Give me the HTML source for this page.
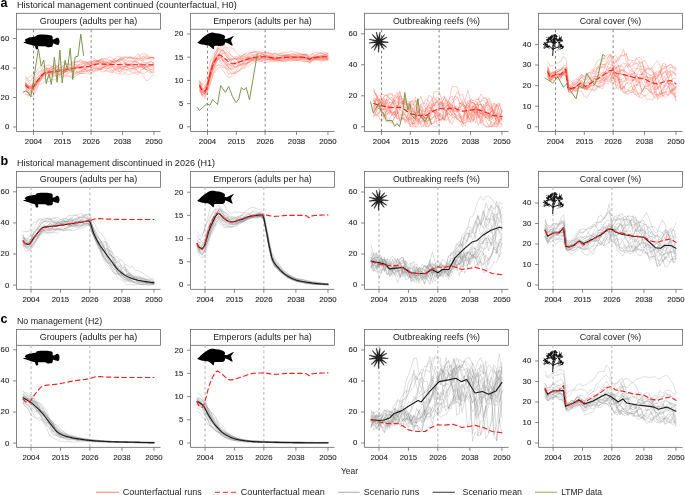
<!DOCTYPE html>
<html><head><meta charset="utf-8"><title>Figure</title>
<style>html,body{margin:0;padding:0;background:#fff;width:685px;height:495px;overflow:hidden}
svg{display:block;font-family:"Liberation Sans",sans-serif;will-change:transform}</style></head>
<body><svg width="685" height="495" viewBox="0 0 685 495" font-family="Liberation Sans, sans-serif"><text x="0.6" y="7" font-size="12.6" font-weight="bold" fill="#000">a</text>
<text x="16.9" y="8" font-size="9" fill="#222" textLength="219.8" lengthAdjust="spacingAndGlyphs">Historical management continued (counterfactual, H0)</text>
<rect x="16.5" y="13.3" width="144" height="15.9" fill="#fff" stroke="#666" stroke-width="0.8"/>
<text x="88.5" y="23.8" font-size="9" fill="#222" text-anchor="middle" textLength="97.6" lengthAdjust="spacingAndGlyphs">Groupers (adults per ha)</text>
<rect x="190.5" y="13.3" width="144" height="15.9" fill="#fff" stroke="#666" stroke-width="0.8"/>
<text x="262.5" y="23.8" font-size="9" fill="#222" text-anchor="middle" textLength="98.7" lengthAdjust="spacingAndGlyphs">Emperors (adults per ha)</text>
<rect x="364.5" y="13.3" width="144" height="15.9" fill="#fff" stroke="#666" stroke-width="0.8"/>
<text x="436.5" y="23.8" font-size="9" fill="#222" text-anchor="middle" textLength="87.1" lengthAdjust="spacingAndGlyphs">Outbreaking reefs (%)</text>
<rect x="538.5" y="13.3" width="144" height="15.9" fill="#fff" stroke="#666" stroke-width="0.8"/>
<text x="610.5" y="23.8" font-size="9" fill="#222" text-anchor="middle" textLength="61.6" lengthAdjust="spacingAndGlyphs">Coral cover (%)</text>
<text x="0.6" y="165.1" font-size="12.6" font-weight="bold" fill="#000">b</text>
<text x="16.9" y="166.1" font-size="9" fill="#222" textLength="198.2" lengthAdjust="spacingAndGlyphs">Historical management discontinued in 2026 (H1)</text>
<rect x="16.5" y="171.4" width="144" height="15.9" fill="#fff" stroke="#666" stroke-width="0.8"/>
<text x="88.5" y="181.9" font-size="9" fill="#222" text-anchor="middle" textLength="97.6" lengthAdjust="spacingAndGlyphs">Groupers (adults per ha)</text>
<rect x="190.5" y="171.4" width="144" height="15.9" fill="#fff" stroke="#666" stroke-width="0.8"/>
<text x="262.5" y="181.9" font-size="9" fill="#222" text-anchor="middle" textLength="98.7" lengthAdjust="spacingAndGlyphs">Emperors (adults per ha)</text>
<rect x="364.5" y="171.4" width="144" height="15.9" fill="#fff" stroke="#666" stroke-width="0.8"/>
<text x="436.5" y="181.9" font-size="9" fill="#222" text-anchor="middle" textLength="87.1" lengthAdjust="spacingAndGlyphs">Outbreaking reefs (%)</text>
<rect x="538.5" y="171.4" width="144" height="15.9" fill="#fff" stroke="#666" stroke-width="0.8"/>
<text x="610.5" y="181.9" font-size="9" fill="#222" text-anchor="middle" textLength="61.6" lengthAdjust="spacingAndGlyphs">Coral cover (%)</text>
<text x="0.6" y="323.1" font-size="12.6" font-weight="bold" fill="#000">c</text>
<text x="16.9" y="324.1" font-size="9" fill="#222" textLength="85.3" lengthAdjust="spacingAndGlyphs">No management (H2)</text>
<rect x="16.5" y="329.4" width="144" height="15.9" fill="#fff" stroke="#666" stroke-width="0.8"/>
<text x="88.5" y="339.9" font-size="9" fill="#222" text-anchor="middle" textLength="97.6" lengthAdjust="spacingAndGlyphs">Groupers (adults per ha)</text>
<rect x="190.5" y="329.4" width="144" height="15.9" fill="#fff" stroke="#666" stroke-width="0.8"/>
<text x="262.5" y="339.9" font-size="9" fill="#222" text-anchor="middle" textLength="98.7" lengthAdjust="spacingAndGlyphs">Emperors (adults per ha)</text>
<rect x="364.5" y="329.4" width="144" height="15.9" fill="#fff" stroke="#666" stroke-width="0.8"/>
<text x="436.5" y="339.9" font-size="9" fill="#222" text-anchor="middle" textLength="87.1" lengthAdjust="spacingAndGlyphs">Outbreaking reefs (%)</text>
<rect x="538.5" y="329.4" width="144" height="15.9" fill="#fff" stroke="#666" stroke-width="0.8"/>
<text x="610.5" y="339.9" font-size="9" fill="#222" text-anchor="middle" textLength="61.6" lengthAdjust="spacingAndGlyphs">Coral cover (%)</text>
<line x1="33.52" y1="29.2" x2="33.52" y2="131.5" stroke="#555" stroke-width="0.75" stroke-dasharray="2.4 2.83" stroke-dashoffset="-0.7"/>
<line x1="91.12" y1="29.2" x2="91.12" y2="131.5" stroke="#555" stroke-width="0.75" stroke-dasharray="2.4 2.83" stroke-dashoffset="-0.7"/>
<clipPath id="cp00"><rect x="16.5" y="29.2" width="144" height="102.3"/></clipPath>
<g clip-path="url(#cp00)" fill="none" stroke-linejoin="round" stroke-linecap="round">
<path d="M25.66,83.58 L28.28,85.93 L30.9,87.25 L33.52,86.12 L36.14,82.76 L38.75,81.35 L41.37,77.83 L43.99,72.87 L46.61,72.37 L49.23,72.54 L51.85,71.23 L54.46,70.24 L57.08,69.78 L59.7,70.58 L62.32,69.66 L64.94,68.14 L67.55,69.57 L70.17,69.5 L72.79,71.6 L75.41,72.6 L78.03,74.18 L80.65,73.08 L83.26,73.39 L85.88,72.04 L88.5,70.07 L91.12,69.42 L93.74,71.49 L96.35,70.46 L98.97,69.06 L101.59,68.4 L104.21,70.49 L106.83,70.58 L109.45,72.13 L112.06,72.96 L114.68,70.54 L117.3,71.36 L119.92,70.89 L122.54,68.84 L125.15,69.66 L127.77,69.11 L130.39,68.61 L133.01,68.05 L135.63,69.81 L138.25,68.85 L140.86,66.35 L143.48,68.28 L146.1,66.26 L148.72,65.23 L151.34,66.15 L153.95,62.05 M25.66,94.17 L28.28,95.82 L30.9,94.46 L33.52,91.43 L36.14,85.72 L38.75,82.69 L41.37,78.35 L43.99,73.52 L46.61,73.61 L49.23,72.65 L51.85,73.21 L54.46,72.73 L57.08,74.41 L59.7,74.51 L62.32,73.78 L64.94,71.85 L67.55,69.33 L70.17,70.98 L72.79,71.54 L75.41,69.86 L78.03,72.29 L80.65,72.07 L83.26,71.01 L85.88,68.7 L88.5,66.58 L91.12,66.82 L93.74,66.15 L96.35,65.48 L98.97,62.35 L101.59,63.47 L104.21,64.29 L106.83,63.85 L109.45,64.87 L112.06,65.66 L114.68,68.1 L117.3,68.13 L119.92,69.08 L122.54,67.08 L125.15,66.27 L127.77,66.28 L130.39,65.44 L133.01,66.29 L135.63,64.54 L138.25,64.62 L140.86,64.32 L143.48,66.37 L146.1,65.85 L148.72,68.5 L151.34,71.99 L153.95,71.84 M25.66,86.46 L28.28,84.76 L30.9,87.66 L33.52,86.3 L36.14,82.04 L38.75,78.46 L41.37,75.98 L43.99,74.06 L46.61,71.77 L49.23,70.42 L51.85,72.06 L54.46,71.96 L57.08,71.7 L59.7,72.77 L62.32,71.43 L64.94,72.44 L67.55,70.07 L70.17,69.2 L72.79,68.5 L75.41,68.99 L78.03,68.53 L80.65,71 L83.26,71.58 L85.88,70.53 L88.5,72.5 L91.12,70.27 L93.74,71.33 L96.35,68.55 L98.97,68.86 L101.59,67.41 L104.21,67.12 L106.83,69.56 L109.45,67.67 L112.06,65.28 L114.68,65.85 L117.3,66.48 L119.92,67.02 L122.54,68.92 L125.15,67.06 L127.77,67.84 L130.39,68.05 L133.01,69.38 L135.63,70.24 L138.25,71.97 L140.86,69.65 L143.48,69.05 L146.1,67.08 L148.72,66.46 L151.34,67.67 L153.95,67.91 M25.66,83.24 L28.28,86.99 L30.9,88.17 L33.52,87.79 L36.14,84.81 L38.75,78.55 L41.37,76.58 L43.99,75.68 L46.61,73.51 L49.23,70.23 L51.85,72.28 L54.46,72.07 L57.08,72.57 L59.7,74.37 L62.32,71.82 L64.94,71.18 L67.55,70.06 L70.17,70.39 L72.79,68.7 L75.41,68.81 L78.03,68.12 L80.65,68.97 L83.26,69.59 L85.88,66.95 L88.5,66.5 L91.12,65.44 L93.74,64.03 L96.35,63.49 L98.97,63.4 L101.59,62.35 L104.21,62.88 L106.83,63.02 L109.45,63.47 L112.06,61.6 L114.68,60.89 L117.3,60.52 L119.92,62.02 L122.54,64.8 L125.15,63.28 L127.77,61.41 L130.39,62.08 L133.01,61.28 L135.63,60.09 L138.25,58.71 L140.86,57.97 L143.48,58.74 L146.1,56.47 L148.72,58.84 L151.34,57.67 L153.95,57.1 M25.66,79.67 L28.28,80.7 L30.9,84.95 L33.52,86.08 L36.14,80.91 L38.75,80.2 L41.37,77.37 L43.99,73.69 L46.61,75.4 L49.23,78.06 L51.85,76.94 L54.46,76.26 L57.08,76.12 L59.7,75.12 L62.32,75.43 L64.94,77.18 L67.55,76.22 L70.17,76.66 L72.79,78.02 L75.41,75.96 L78.03,74.82 L80.65,73.06 L83.26,73.32 L85.88,73.8 L88.5,73.82 L91.12,74.26 L93.74,72.05 L96.35,71.74 L98.97,69.99 L101.59,69.29 L104.21,65.84 L106.83,68.27 L109.45,67.25 L112.06,67.7 L114.68,68.09 L117.3,70.7 L119.92,71.5 L122.54,70.07 L125.15,70.33 L127.77,69.82 L130.39,70.41 L133.01,68.17 L135.63,68.21 L138.25,71.93 L140.86,73.25 L143.48,75.7 L146.1,80.8 L148.72,79.94 L151.34,76.29 L153.95,75.14 M25.66,85.91 L28.28,85.99 L30.9,86.25 L33.52,83.33 L36.14,79.43 L38.75,76.5 L41.37,72.16 L43.99,68.96 L46.61,67.55 L49.23,68.73 L51.85,67.62 L54.46,68.51 L57.08,66.48 L59.7,67.99 L62.32,67.34 L64.94,66.99 L67.55,68.34 L70.17,64.83 L72.79,62.01 L75.41,62.53 L78.03,60.92 L80.65,60.05 L83.26,63.59 L85.88,63.09 L88.5,62.19 L91.12,61.74 L93.74,62.16 L96.35,61.37 L98.97,60.78 L101.59,58.89 L104.21,58.5 L106.83,58.59 L109.45,56.68 L112.06,58.25 L114.68,59.56 L117.3,63.02 L119.92,60.35 L122.54,58.98 L125.15,57.92 L127.77,56.94 L130.39,57.43 L133.01,57.5 L135.63,58.36 L138.25,58.83 L140.86,59.47 L143.48,56.39 L146.1,55.91 L148.72,56.03 L151.34,57.56 L153.95,58.86 M25.66,84.04 L28.28,87.07 L30.9,88.62 L33.52,87.97 L36.14,83.91 L38.75,79.37 L41.37,77.09 L43.99,75.02 L46.61,74.07 L49.23,73.09 L51.85,75.3 L54.46,75.06 L57.08,75.84 L59.7,73.35 L62.32,73.52 L64.94,72 L67.55,68.75 L70.17,68.76 L72.79,69.13 L75.41,68.29 L78.03,67.67 L80.65,68.62 L83.26,66.92 L85.88,63.74 L88.5,63.45 L91.12,63.7 L93.74,64.26 L96.35,62.74 L98.97,64.13 L101.59,66.08 L104.21,63.94 L106.83,65.52 L109.45,64.21 L112.06,61.92 L114.68,62.18 L117.3,61.66 L119.92,58.88 L122.54,60.14 L125.15,62.07 L127.77,64.71 L130.39,65.01 L133.01,62.52 L135.63,61.16 L138.25,63.12 L140.86,65.4 L143.48,65.79 L146.1,65.3 L148.72,65.19 L151.34,64.82 L153.95,64.17 M25.66,83.67 L28.28,86.18 L30.9,87.08 L33.52,83.39 L36.14,76.24 L38.75,72.95 L41.37,70.48 L43.99,71.33 L46.61,69.55 L49.23,72.15 L51.85,73.94 L54.46,71.86 L57.08,70.26 L59.7,69.77 L62.32,71.57 L64.94,71.52 L67.55,71.55 L70.17,69.57 L72.79,65.17 L75.41,64.48 L78.03,65.23 L80.65,66.48 L83.26,65.58 L85.88,65.7 L88.5,66.38 L91.12,65.61 L93.74,65.93 L96.35,62.8 L98.97,60.28 L101.59,58.76 L104.21,59.89 L106.83,59.17 L109.45,60.23 L112.06,61.37 L114.68,62.48 L117.3,64.93 L119.92,67.57 L122.54,65.98 L125.15,66.38 L127.77,65.56 L130.39,63.81 L133.01,66.91 L135.63,67.99 L138.25,67.01 L140.86,66.42 L143.48,66.23 L146.1,64.11 L148.72,63.11 L151.34,65.27 L153.95,66.52 M25.66,83.53 L28.28,90.58 L30.9,88.28 L33.52,84.44 L36.14,78.29 L38.75,76.59 L41.37,74.44 L43.99,74.09 L46.61,68.69 L49.23,68.69 L51.85,66.18 L54.46,67.5 L57.08,67.4 L59.7,69.79 L62.32,69.67 L64.94,67.86 L67.55,69.34 L70.17,67.07 L72.79,66.09 L75.41,67.43 L78.03,67.62 L80.65,67.7 L83.26,66.83 L85.88,67.54 L88.5,67.7 L91.12,67.63 L93.74,67.73 L96.35,68.37 L98.97,67.31 L101.59,65.72 L104.21,68.2 L106.83,67.84 L109.45,69.24 L112.06,70.8 L114.68,69.13 L117.3,69.75 L119.92,66.93 L122.54,68.38 L125.15,67.72 L127.77,67.74 L130.39,69.1 L133.01,67.74 L135.63,67.8 L138.25,66.28 L140.86,66.74 L143.48,67.99 L146.1,67.92 L148.72,67.03 L151.34,65.08 L153.95,66.5 M25.66,94.34 L28.28,94.56 L30.9,96.37 L33.52,95.87 L36.14,90.68 L38.75,84.79 L41.37,83.67 L43.99,82.2 L46.61,81.29 L49.23,81.5 L51.85,79.58 L54.46,79.75 L57.08,79.77 L59.7,77.29 L62.32,76.98 L64.94,75.27 L67.55,75.54 L70.17,76.2 L72.79,77.67 L75.41,73.31 L78.03,72.62 L80.65,71.1 L83.26,69.86 L85.88,69.19 L88.5,67.83 L91.12,64.32 L93.74,64.76 L96.35,66.09 L98.97,66.76 L101.59,68.81 L104.21,67.27 L106.83,65.6 L109.45,67.72 L112.06,70.13 L114.68,70.63 L117.3,67.76 L119.92,72.73 L122.54,71.31 L125.15,72.95 L127.77,70.21 L130.39,71.9 L133.01,71.82 L135.63,73.9 L138.25,74.6 L140.86,71.67 L143.48,69 L146.1,69.37 L148.72,69.99 L151.34,72.88 L153.95,72.6 M25.66,87.95 L28.28,90.82 L30.9,93.41 L33.52,90.25 L36.14,85.92 L38.75,80.48 L41.37,74.35 L43.99,72.52 L46.61,72.81 L49.23,72.32 L51.85,73.1 L54.46,73.97 L57.08,73.67 L59.7,74.54 L62.32,72.48 L64.94,72.21 L67.55,71.01 L70.17,70.66 L72.79,71.09 L75.41,71.89 L78.03,71.35 L80.65,71.3 L83.26,69.76 L85.88,69.48 L88.5,70.39 L91.12,69.59 L93.74,70.12 L96.35,69.62 L98.97,68.97 L101.59,72.17 L104.21,71.57 L106.83,70.81 L109.45,71.25 L112.06,71.81 L114.68,72.33 L117.3,73.59 L119.92,73.65 L122.54,74.18 L125.15,73.62 L127.77,74.95 L130.39,73.98 L133.01,73.07 L135.63,72.73 L138.25,72.73 L140.86,71.62 L143.48,73.57 L146.1,72.08 L148.72,70.57 L151.34,69.63 L153.95,68.42 M25.66,85.94 L28.28,87.34 L30.9,87.19 L33.52,84.13 L36.14,83.01 L38.75,79.02 L41.37,74.02 L43.99,70.12 L46.61,68.81 L49.23,70.95 L51.85,69.16 L54.46,69.28 L57.08,73.2 L59.7,71.65 L62.32,73 L64.94,74.34 L67.55,74.1 L70.17,70.94 L72.79,70.59 L75.41,69.34 L78.03,65.77 L80.65,62.77 L83.26,62.4 L85.88,63.02 L88.5,64.22 L91.12,65.01 L93.74,63.03 L96.35,61.37 L98.97,60.57 L101.59,59.27 L104.21,60.94 L106.83,61.18 L109.45,60.69 L112.06,60.2 L114.68,59.04 L117.3,58.94 L119.92,60.26 L122.54,60.24 L125.15,62.74 L127.77,65.66 L130.39,64.75 L133.01,64.87 L135.63,64.28 L138.25,67.13 L140.86,67.98 L143.48,68.13 L146.1,69.33 L148.72,72.35 L151.34,72.1 L153.95,69.48 M25.66,89.92 L28.28,92.27 L30.9,90.97 L33.52,93.07 L36.14,88.47 L38.75,83.93 L41.37,79.31 L43.99,73.84 L46.61,70.84 L49.23,69.9 L51.85,69.42 L54.46,68.19 L57.08,69.22 L59.7,68.91 L62.32,66.93 L64.94,63.95 L67.55,64.2 L70.17,64.29 L72.79,63.9 L75.41,61.83 L78.03,61.94 L80.65,59.69 L83.26,61.13 L85.88,61.96 L88.5,61.79 L91.12,60.7 L93.74,58.34 L96.35,60.25 L98.97,61.35 L101.59,61.22 L104.21,62.71 L106.83,65.46 L109.45,64.26 L112.06,63.8 L114.68,63.5 L117.3,64.69 L119.92,63.27 L122.54,64.22 L125.15,62.79 L127.77,64.61 L130.39,66.54 L133.01,66.21 L135.63,67.49 L138.25,65.96 L140.86,65.99 L143.48,67.11 L146.1,66.91 L148.72,66.94 L151.34,65.17 L153.95,66.18 M25.66,78.5 L28.28,77.74 L30.9,75.94 L33.52,74.7 L36.14,71.74 L38.75,67.5 L41.37,66.1 L43.99,66.36 L46.61,65.63 L49.23,64.84 L51.85,66.54 L54.46,69.33 L57.08,71.48 L59.7,69.65 L62.32,70.04 L64.94,69.86 L67.55,68.74 L70.17,67.15 L72.79,67.11 L75.41,65.86 L78.03,66.72 L80.65,66.64 L83.26,67.29 L85.88,65.29 L88.5,64.35 L91.12,65.18 L93.74,64.38 L96.35,63.55 L98.97,61.62 L101.59,64.42 L104.21,66.09 L106.83,66.44 L109.45,62.4 L112.06,61.1 L114.68,61.92 L117.3,60.98 L119.92,57.91 L122.54,59.17 L125.15,60.63 L127.77,58.68 L130.39,58.59 L133.01,58 L135.63,59.54 L138.25,56.36 L140.86,54.54 L143.48,53.91 L146.1,53.72 L148.72,57.87 L151.34,57.3 L153.95,58.11 M25.66,82.91 L28.28,86.92 L30.9,91.08 L33.52,87.32 L36.14,84.54 L38.75,81.96 L41.37,79.69 L43.99,77.49 L46.61,79.68 L49.23,76.28 L51.85,75.16 L54.46,72.75 L57.08,69.24 L59.7,68.79 L62.32,71.04 L64.94,72.07 L67.55,73.08 L70.17,72.92 L72.79,71.78 L75.41,74.06 L78.03,72.3 L80.65,73.56 L83.26,71.6 L85.88,71.2 L88.5,70.24 L91.12,69.58 L93.74,68.77 L96.35,68.3 L98.97,69.88 L101.59,69.59 L104.21,66.21 L106.83,62.71 L109.45,61.2 L112.06,60.59 L114.68,62.59 L117.3,60.44 L119.92,61.3 L122.54,62.08 L125.15,63.27 L127.77,63.2 L130.39,64.47 L133.01,64.8 L135.63,66.85 L138.25,67.21 L140.86,63.44 L143.48,63.23 L146.1,63.92 L148.72,62.6 L151.34,61.58 L153.95,63.77 M25.66,76.61 L28.28,79.83 L30.9,81.06 L33.52,76.06 L36.14,74.24 L38.75,71.9 L41.37,70.35 L43.99,65.81 L46.61,68.27 L49.23,68.76 L51.85,69.31 L54.46,67.86 L57.08,66.67 L59.7,63.93 L62.32,65.96 L64.94,64.56 L67.55,64.54 L70.17,65.14 L72.79,63.71 L75.41,64.76 L78.03,67.34 L80.65,66.97 L83.26,68.08 L85.88,68.51 L88.5,66.39 L91.12,65.16 L93.74,61.11 L96.35,60.3 L98.97,61.96 L101.59,63.11 L104.21,64.44 L106.83,66.09 L109.45,65.41 L112.06,66.35 L114.68,69.67 L117.3,67.73 L119.92,67.56 L122.54,66.56 L125.15,66.19 L127.77,64.46 L130.39,64.34 L133.01,61.9 L135.63,61.11 L138.25,60.24 L140.86,60.09 L143.48,62.27 L146.1,62.49 L148.72,62.31 L151.34,61.8 L153.95,63.97 M25.66,81.82 L28.28,87.4 L30.9,91.16 L33.52,88.26 L36.14,83.86 L38.75,81.73 L41.37,78.02 L43.99,76.2 L46.61,73.55 L49.23,73.66 L51.85,72.99 L54.46,70.73 L57.08,66.19 L59.7,67.4 L62.32,67.4 L64.94,68.44 L67.55,66.42 L70.17,67.66 L72.79,67.65 L75.41,67.01 L78.03,67.73 L80.65,68.32 L83.26,67.8 L85.88,70.58 L88.5,71.14 L91.12,70.64 L93.74,68.38 L96.35,66.98 L98.97,68.53 L101.59,68.76 L104.21,66.88 L106.83,65.42 L109.45,65.77 L112.06,67.2 L114.68,65.97 L117.3,66.72 L119.92,68.61 L122.54,69.65 L125.15,66.7 L127.77,65.74 L130.39,63.6 L133.01,64.4 L135.63,62.54 L138.25,63.4 L140.86,64.06 L143.48,58.86 L146.1,57.85 L148.72,58.66 L151.34,59.14 L153.95,58.64 M25.66,86.78 L28.28,92.88 L30.9,93.26 L33.52,89.69 L36.14,84.91 L38.75,79.3 L41.37,75.67 L43.99,71.88 L46.61,72.55 L49.23,70.33 L51.85,66.72 L54.46,65.6 L57.08,65.45 L59.7,65.04 L62.32,61.88 L64.94,63.77 L67.55,63.78 L70.17,62.93 L72.79,61.64 L75.41,62.39 L78.03,61.73 L80.65,62.02 L83.26,61.36 L85.88,61.89 L88.5,63 L91.12,62.85 L93.74,60.36 L96.35,61.05 L98.97,60.82 L101.59,60.01 L104.21,62.08 L106.83,61.81 L109.45,64.31 L112.06,62.52 L114.68,58.95 L117.3,55.98 L119.92,57.4 L122.54,56.97 L125.15,57.77 L127.77,58.06 L130.39,56.15 L133.01,59.34 L135.63,57.94 L138.25,58.43 L140.86,56.93 L143.48,56.74 L146.1,58.69 L148.72,58.19 L151.34,57.4 L153.95,57.77 M25.66,87.03 L28.28,93.91 L30.9,91.86 L33.52,87.23 L36.14,82.72 L38.75,79.55 L41.37,74.69 L43.99,73.11 L46.61,73.01 L49.23,72.46 L51.85,70.1 L54.46,72.09 L57.08,69.77 L59.7,70.17 L62.32,71.04 L64.94,68.55 L67.55,68.05 L70.17,69.52 L72.79,69.28 L75.41,67.12 L78.03,64.62 L80.65,64.85 L83.26,63.47 L85.88,62.49 L88.5,62.78 L91.12,62.08 L93.74,61.07 L96.35,61.04 L98.97,61.21 L101.59,61.34 L104.21,61.5 L106.83,62.54 L109.45,63.9 L112.06,62.19 L114.68,62.33 L117.3,61.04 L119.92,59.47 L122.54,59.12 L125.15,55.9 L127.77,58.03 L130.39,57.44 L133.01,58.73 L135.63,55.97 L138.25,53.53 L140.86,58.55 L143.48,60.28 L146.1,59.49 L148.72,57.99 L151.34,57.23 L153.95,57.82 M25.66,83.09 L28.28,86.54 L30.9,85.49 L33.52,87.38 L36.14,82.14 L38.75,81.1 L41.37,76.32 L43.99,74.32 L46.61,74.53 L49.23,73.05 L51.85,74.15 L54.46,75.1 L57.08,76.99 L59.7,75.81 L62.32,73.71 L64.94,71.45 L67.55,70.86 L70.17,68.51 L72.79,67.92 L75.41,67.63 L78.03,66.17 L80.65,64.08 L83.26,64.06 L85.88,64.64 L88.5,64.1 L91.12,63.82 L93.74,64.13 L96.35,61.5 L98.97,61.63 L101.59,61.23 L104.21,62.95 L106.83,62.46 L109.45,62.57 L112.06,63.8 L114.68,60.78 L117.3,60.69 L119.92,58.3 L122.54,57.56 L125.15,59.85 L127.77,60.96 L130.39,60.9 L133.01,61.33 L135.63,61.69 L138.25,62.4 L140.86,66.45 L143.48,66.22 L146.1,70.18 L148.72,68.53 L151.34,69.5 L153.95,70.18" stroke="#ff5a48" stroke-opacity="0.55" stroke-width="0.55"/>
<path d="M25.66,85.11 L26.97,86.79 L28.28,87.88 L29.59,88.47 L30.9,88.65 L32.21,88.04 L33.52,86.49 L34.83,84.44 L36.14,82.31 L37.45,80.54 L38.75,78.99 L40.06,77.36 L41.37,75.77 L42.68,74.38 L43.99,73.31 L45.3,72.72 L46.61,72.44 L47.92,72.21 L49.23,72.02 L50.54,71.87 L51.85,71.73 L53.15,71.62 L54.46,71.51 L55.77,71.4 L57.08,71.27 L58.39,71.13 L59.7,70.95 L61.01,70.74 L62.32,70.52 L63.63,70.28 L64.94,70.02 L66.25,69.76 L67.55,69.49 L68.86,69.22 L70.17,68.95 L71.48,68.7 L72.79,68.45 L74.1,68.21 L75.41,68 L76.72,67.81 L78.03,67.63 L79.34,67.46 L80.65,67.31 L81.95,67.15 L83.26,67 L84.57,66.84 L85.88,66.68 L87.19,66.5 L88.5,66.3 L89.81,66.08 L91.12,65.79 L92.43,65.41 L93.74,64.99 L95.05,64.57 L96.35,64.21 L97.66,63.96 L98.97,63.87 L100.28,63.9 L101.59,63.97 L102.9,64.06 L104.21,64.16 L105.52,64.25 L106.83,64.31 L108.14,64.36 L109.45,64.4 L110.75,64.44 L112.06,64.48 L113.37,64.52 L114.68,64.55 L115.99,64.59 L117.3,64.62 L118.61,64.65 L119.92,64.68 L121.23,64.7 L122.54,64.72 L123.85,64.73 L125.15,64.75 L126.46,64.75 L127.77,64.75 L129.08,64.75 L130.39,64.75 L131.7,64.75 L133.01,64.75 L134.32,64.75 L135.63,64.75 L136.94,64.75 L138.25,64.75 L139.55,64.75 L140.86,64.75 L142.17,64.75 L143.48,64.75 L144.79,64.75 L146.1,64.75 L147.41,64.75 L148.72,64.75 L150.03,64.75 L151.34,64.75 L152.65,64.75 L153.95,64.75" stroke="#ff1f1f" stroke-width="1.15" stroke-dasharray="4.5 3.3"/>
<path d="M23.1,92.2 L25.7,91.1 L28.5,92.9 L30.9,96.8 L38.4,49.1 L41.2,66.1 L43.8,60 L46.2,83.7 L49,73.8 L51.4,84.5 L54.4,57.2 L57.1,82.3 L59.9,50.1 L62.2,83 L65,60.4 L67.4,69.6 L70.2,48.1 L72.8,79.5 L75.2,56.9 L78,56.2 L80.8,34.2 L83.6,55.5" stroke="#739446" stroke-width="0.95"/>
</g>
<path d="M16.5,29.2 V131.5 H160.5" fill="none" stroke="#666" stroke-width="0.8"/>
<line x1="13.1" y1="127" x2="16.5" y2="127" stroke="#666" stroke-width="0.8"/>
<text x="9.3" y="129.4" font-size="7.8" fill="#2a2a2a" stroke="#2a2a2a" stroke-width="0.12" text-anchor="end">0</text>
<line x1="13.1" y1="97.5" x2="16.5" y2="97.5" stroke="#666" stroke-width="0.8"/>
<text x="9.3" y="99.9" font-size="7.8" fill="#2a2a2a" stroke="#2a2a2a" stroke-width="0.12" text-anchor="end">20</text>
<line x1="13.1" y1="68" x2="16.5" y2="68" stroke="#666" stroke-width="0.8"/>
<text x="9.3" y="70.4" font-size="7.8" fill="#2a2a2a" stroke="#2a2a2a" stroke-width="0.12" text-anchor="end">40</text>
<line x1="13.1" y1="38.5" x2="16.5" y2="38.5" stroke="#666" stroke-width="0.8"/>
<text x="9.3" y="40.9" font-size="7.8" fill="#2a2a2a" stroke="#2a2a2a" stroke-width="0.12" text-anchor="end">60</text>
<line x1="33.52" y1="131.5" x2="33.52" y2="134.9" stroke="#666" stroke-width="0.8"/>
<text x="33.52" y="144.4" font-size="7.8" fill="#2a2a2a" stroke="#2a2a2a" stroke-width="0.12" text-anchor="middle">2004</text>
<line x1="62.32" y1="131.5" x2="62.32" y2="134.9" stroke="#666" stroke-width="0.8"/>
<text x="62.32" y="144.4" font-size="7.8" fill="#2a2a2a" stroke="#2a2a2a" stroke-width="0.12" text-anchor="middle">2015</text>
<line x1="91.12" y1="131.5" x2="91.12" y2="134.9" stroke="#666" stroke-width="0.8"/>
<text x="91.12" y="144.4" font-size="7.8" fill="#2a2a2a" stroke="#2a2a2a" stroke-width="0.12" text-anchor="middle">2026</text>
<line x1="122.54" y1="131.5" x2="122.54" y2="134.9" stroke="#666" stroke-width="0.8"/>
<text x="122.54" y="144.4" font-size="7.8" fill="#2a2a2a" stroke="#2a2a2a" stroke-width="0.12" text-anchor="middle">2038</text>
<line x1="153.95" y1="131.5" x2="153.95" y2="134.9" stroke="#666" stroke-width="0.8"/>
<text x="153.95" y="144.4" font-size="7.8" fill="#2a2a2a" stroke="#2a2a2a" stroke-width="0.12" text-anchor="middle">2050</text>
<path d="M23.1,42.35 C23.11,42.23 24.24,42.02 24.6,41.9 C24.96,41.78 26.19,41.53 26.2,41.35 C26.21,41.17 24.75,40.61 24.7,40.35 C24.65,40.09 25.4,39.37 25.8,39.1 C26.2,38.83 27.58,38.21 28.1,38 C28.62,37.79 29.77,37.41 30.3,37.3 C30.83,37.19 32.03,37.16 32.68,37.04 C33.33,36.92 35.45,36.47 35.89,36.28 C36.33,36.09 36.16,35.57 36.47,35.4 C36.78,35.23 37.94,34.92 38.52,34.82 C39.1,34.72 40.62,34.54 41.44,34.53 C42.26,34.52 44.64,34.65 45.53,34.7 C46.42,34.75 48.28,34.82 49.03,34.94 C49.78,35.06 51.51,35.41 51.95,35.7 C52.39,35.99 52.75,37.08 52.82,37.45 C52.89,37.82 52.46,38.67 52.53,38.91 C52.6,39.15 53.07,39.52 53.41,39.49 C53.75,39.46 55.08,38.82 55.45,38.62 C55.82,38.42 56.28,37.81 56.62,37.74 C56.96,37.67 58.06,37.83 58.37,38.03 C58.68,38.23 59.11,39.05 59.25,39.49 C59.39,39.93 59.57,41.29 59.54,41.83 C59.51,42.37 59.16,43.79 58.96,44.16 C58.76,44.53 58.13,45.01 57.79,45.04 C57.45,45.07 56.52,44.62 56.04,44.45 C55.56,44.28 54.08,43.65 53.7,43.58 C53.32,43.51 52.92,43.67 52.82,43.87 C52.72,44.07 52.92,44.99 52.82,45.33 C52.72,45.67 52.39,46.55 51.95,46.79 C51.51,47.03 49.64,47.34 49.03,47.37 C48.42,47.4 47.1,47.22 46.69,47.08 C46.28,46.94 45.94,46.31 45.53,46.21 C45.12,46.11 44.01,46.21 43.19,46.21 C42.37,46.21 39.13,46.14 38.52,46.21 C37.91,46.28 37.96,46.52 37.93,46.79 C37.9,47.06 38.33,48.23 38.23,48.54 C38.13,48.85 37.33,49.39 37.06,49.42 C36.79,49.45 36.09,49.07 35.89,48.83 C35.69,48.59 35.41,47.68 35.31,47.37 C35.21,47.06 35.32,46.41 35.01,46.21 C34.7,46.01 33.28,45.81 32.68,45.62 C32.08,45.43 30.6,44.82 29.9,44.6 C29.2,44.38 27.33,43.9 26.7,43.7 C26.07,43.5 24.92,43.06 24.5,42.9 C24.08,42.74 23.09,42.47 23.1,42.35Z" fill="#000"/>
<line x1="207.52" y1="29.2" x2="207.52" y2="131.5" stroke="#555" stroke-width="0.75" stroke-dasharray="2.4 2.83" stroke-dashoffset="-0.7"/>
<line x1="265.12" y1="29.2" x2="265.12" y2="131.5" stroke="#555" stroke-width="0.75" stroke-dasharray="2.4 2.83" stroke-dashoffset="-0.7"/>
<clipPath id="cp01"><rect x="190.5" y="29.2" width="144" height="102.3"/></clipPath>
<g clip-path="url(#cp01)" fill="none" stroke-linejoin="round" stroke-linecap="round">
<path d="M199.66,80.94 L202.28,87.61 L204.9,91.19 L207.52,87.62 L210.14,79.77 L212.75,73.07 L215.37,62.4 L217.99,59.8 L220.61,56.99 L223.23,61.17 L225.85,61.92 L228.46,64.15 L231.08,64.95 L233.7,63.19 L236.32,59.16 L238.94,58.6 L241.55,57.66 L244.17,58.36 L246.79,56.9 L249.41,56.37 L252.03,55.27 L254.65,55.09 L257.26,53.79 L259.88,55.45 L262.5,55.84 L265.12,54.92 L267.74,55.6 L270.35,56.56 L272.97,57.4 L275.59,58.82 L278.21,58.24 L280.83,56.14 L283.45,55.07 L286.06,55.88 L288.68,56.55 L291.3,56.77 L293.92,55.83 L296.54,56.41 L299.15,56.88 L301.77,55.98 L304.39,55.1 L307.01,55.74 L309.63,58.77 L312.25,57.99 L314.86,57.83 L317.48,59.49 L320.1,58.03 L322.72,58.27 L325.34,57.47 L327.95,55.55 M199.66,89.32 L202.28,92.12 L204.9,90.39 L207.52,86.6 L210.14,76.96 L212.75,69.1 L215.37,65.95 L217.99,58.08 L220.61,62.27 L223.23,65.74 L225.85,67.52 L228.46,69.26 L231.08,69.34 L233.7,67.87 L236.32,66.78 L238.94,63.67 L241.55,65.27 L244.17,63.6 L246.79,63 L249.41,61.15 L252.03,59.95 L254.65,59.88 L257.26,59.95 L259.88,58.75 L262.5,58.45 L265.12,58.69 L267.74,57.21 L270.35,55.65 L272.97,57.7 L275.59,57.89 L278.21,55.62 L280.83,55.27 L283.45,55.2 L286.06,55.41 L288.68,56.01 L291.3,56.29 L293.92,56.84 L296.54,56.18 L299.15,56.58 L301.77,57.01 L304.39,57.98 L307.01,58.24 L309.63,61.03 L312.25,58.98 L314.86,57.34 L317.48,56.83 L320.1,56.02 L322.72,55.68 L325.34,55.7 L327.95,56.05 M199.66,82.82 L202.28,89.25 L204.9,87.33 L207.52,82.21 L210.14,72.51 L212.75,65.93 L215.37,61.23 L217.99,56.67 L220.61,57.53 L223.23,56.88 L225.85,60.81 L228.46,67.54 L231.08,69.65 L233.7,72.42 L236.32,70.35 L238.94,66.78 L241.55,63.9 L244.17,64.26 L246.79,63.65 L249.41,59.94 L252.03,58.91 L254.65,58.24 L257.26,57.19 L259.88,55.02 L262.5,54.35 L265.12,54.37 L267.74,54.72 L270.35,54.8 L272.97,56.28 L275.59,57.74 L278.21,57.51 L280.83,58.41 L283.45,58.29 L286.06,57.99 L288.68,56 L291.3,56.84 L293.92,57.01 L296.54,57.13 L299.15,56.76 L301.77,55.94 L304.39,56.43 L307.01,57.53 L309.63,61.07 L312.25,59.73 L314.86,58.51 L317.48,58.22 L320.1,58.73 L322.72,58.88 L325.34,58.68 L327.95,58.2 M199.66,88.5 L202.28,96.35 L204.9,99.17 L207.52,90.52 L210.14,83.49 L212.75,75.87 L215.37,68.53 L217.99,64.62 L220.61,65.13 L223.23,66.44 L225.85,67.92 L228.46,69.63 L231.08,73.94 L233.7,72.87 L236.32,72.34 L238.94,71.11 L241.55,68.19 L244.17,65.38 L246.79,62.74 L249.41,61.79 L252.03,59.94 L254.65,58.15 L257.26,57.15 L259.88,55.94 L262.5,56.44 L265.12,56.6 L267.74,56.44 L270.35,58.06 L272.97,58.64 L275.59,59.54 L278.21,59.56 L280.83,61 L283.45,61.4 L286.06,60.99 L288.68,60.01 L291.3,59.04 L293.92,59.08 L296.54,59.12 L299.15,59.75 L301.77,59.3 L304.39,59.38 L307.01,59.08 L309.63,59.59 L312.25,57.69 L314.86,58.59 L317.48,59.25 L320.1,60.19 L322.72,61.1 L325.34,59.6 L327.95,59.43 M199.66,82.08 L202.28,84.25 L204.9,85.6 L207.52,81.84 L210.14,71.18 L212.75,62.94 L215.37,55.62 L217.99,49.32 L220.61,46.71 L223.23,46.97 L225.85,47.51 L228.46,49.86 L231.08,55.63 L233.7,56.78 L236.32,56.56 L238.94,57.62 L241.55,55.97 L244.17,56.38 L246.79,57.24 L249.41,55 L252.03,54.47 L254.65,54.34 L257.26,53.97 L259.88,53.27 L262.5,53.49 L265.12,55.64 L267.74,56.64 L270.35,57.34 L272.97,58.81 L275.59,58.95 L278.21,57.61 L280.83,58.07 L283.45,58.8 L286.06,56.81 L288.68,57.18 L291.3,58.16 L293.92,57.85 L296.54,57.34 L299.15,57.86 L301.77,57.09 L304.39,57.42 L307.01,58.46 L309.63,60.25 L312.25,57.4 L314.86,57.38 L317.48,56.87 L320.1,56.58 L322.72,53.83 L325.34,54.71 L327.95,53.65 M199.66,81.1 L202.28,83.81 L204.9,82.33 L207.52,74.35 L210.14,62.32 L212.75,56.23 L215.37,51.55 L217.99,46.57 L220.61,45.05 L223.23,44.55 L225.85,46.81 L228.46,47.97 L231.08,47.59 L233.7,48.89 L236.32,52.65 L238.94,55.28 L241.55,57.06 L244.17,54.43 L246.79,55.26 L249.41,53.35 L252.03,52.97 L254.65,51.57 L257.26,51.37 L259.88,51.75 L262.5,52.36 L265.12,52.37 L267.74,52.81 L270.35,53.77 L272.97,54.63 L275.59,53.85 L278.21,55.17 L280.83,55.07 L283.45,55.71 L286.06,55.33 L288.68,54.58 L291.3,54.64 L293.92,54.02 L296.54,55.34 L299.15,54.32 L301.77,54.86 L304.39,54.22 L307.01,54.37 L309.63,58.76 L312.25,57.19 L314.86,56.2 L317.48,54.45 L320.1,53.79 L322.72,53.48 L325.34,54.84 L327.95,53.49 M199.66,85.49 L202.28,90.34 L204.9,94.01 L207.52,86.84 L210.14,69.66 L212.75,60.79 L215.37,52.51 L217.99,48.01 L220.61,50.29 L223.23,50 L225.85,55.66 L228.46,58.88 L231.08,60.13 L233.7,58.89 L236.32,58.26 L238.94,57.91 L241.55,58.68 L244.17,59.89 L246.79,59.06 L249.41,58.88 L252.03,59.62 L254.65,59.95 L257.26,59.91 L259.88,60.89 L262.5,61.77 L265.12,62.48 L267.74,62.15 L270.35,61.66 L272.97,60.34 L275.59,61.74 L278.21,61.7 L280.83,60.68 L283.45,60.46 L286.06,60.29 L288.68,58.61 L291.3,58.77 L293.92,59.62 L296.54,60.46 L299.15,59.87 L301.77,59.39 L304.39,60.33 L307.01,61.22 L309.63,62.51 L312.25,59.69 L314.86,59.54 L317.48,58.63 L320.1,57.63 L322.72,59.2 L325.34,59.3 L327.95,58.85 M199.66,91.33 L202.28,95.96 L204.9,94.68 L207.52,85.8 L210.14,78.57 L212.75,64.63 L215.37,60.71 L217.99,54.24 L220.61,50.94 L223.23,51.03 L225.85,53.45 L228.46,58.58 L231.08,58.92 L233.7,60.56 L236.32,64.47 L238.94,58.97 L241.55,57.26 L244.17,54.53 L246.79,55.62 L249.41,53.57 L252.03,52.34 L254.65,51.34 L257.26,52.18 L259.88,53.48 L262.5,54.04 L265.12,55.87 L267.74,57.62 L270.35,57.73 L272.97,59.11 L275.59,59.45 L278.21,59.06 L280.83,57.37 L283.45,56.13 L286.06,56.04 L288.68,55.05 L291.3,55.8 L293.92,56.14 L296.54,55.32 L299.15,56.42 L301.77,56.64 L304.39,57.67 L307.01,57.72 L309.63,58.23 L312.25,56.86 L314.86,56.04 L317.48,56.72 L320.1,57.36 L322.72,58.3 L325.34,56.66 L327.95,54.42 M199.66,87.79 L202.28,90.91 L204.9,92.07 L207.52,85.1 L210.14,72.99 L212.75,64.68 L215.37,57.33 L217.99,54.65 L220.61,54.98 L223.23,60.52 L225.85,63.27 L228.46,67.93 L231.08,68.8 L233.7,69.68 L236.32,67.77 L238.94,65.56 L241.55,65.79 L244.17,65.09 L246.79,64.51 L249.41,61.73 L252.03,58.98 L254.65,57.51 L257.26,57.72 L259.88,56.27 L262.5,57.72 L265.12,56.27 L267.74,57.22 L270.35,59.78 L272.97,58.1 L275.59,57.22 L278.21,57.88 L280.83,57.82 L283.45,57.86 L286.06,57.56 L288.68,58.73 L291.3,59.14 L293.92,58.59 L296.54,58.2 L299.15,57.07 L301.77,57.01 L304.39,54.93 L307.01,56.05 L309.63,58.02 L312.25,57.8 L314.86,58.34 L317.48,56.87 L320.1,57.4 L322.72,56.78 L325.34,56.82 L327.95,57.97 M199.66,85.14 L202.28,90.21 L204.9,89.09 L207.52,82.34 L210.14,71.97 L212.75,66 L215.37,58.96 L217.99,54.86 L220.61,51.91 L223.23,48.39 L225.85,49.67 L228.46,52.98 L231.08,55.57 L233.7,57.92 L236.32,59.48 L238.94,60.86 L241.55,60.35 L244.17,59.96 L246.79,58.13 L249.41,57.62 L252.03,57.38 L254.65,57.94 L257.26,56.33 L259.88,55.72 L262.5,54.46 L265.12,53.81 L267.74,53.18 L270.35,54 L272.97,54.36 L275.59,52.85 L278.21,54.01 L280.83,53.41 L283.45,52.23 L286.06,52.12 L288.68,51.87 L291.3,51.21 L293.92,52.25 L296.54,52.19 L299.15,53.28 L301.77,54.12 L304.39,54.77 L307.01,55.31 L309.63,57.33 L312.25,54.94 L314.86,55.81 L317.48,53.81 L320.1,52.53 L322.72,52.02 L325.34,52.66 L327.95,53.13 M199.66,86.43 L202.28,94.18 L204.9,93.49 L207.52,82.41 L210.14,75.39 L212.75,65.68 L215.37,59.09 L217.99,55.63 L220.61,52.43 L223.23,57.55 L225.85,59.75 L228.46,59.35 L231.08,61.76 L233.7,62.99 L236.32,62.45 L238.94,62.9 L241.55,59.62 L244.17,60.4 L246.79,58.66 L249.41,59.33 L252.03,58.19 L254.65,57.88 L257.26,60.09 L259.88,59.68 L262.5,60.59 L265.12,60.58 L267.74,59.44 L270.35,60.6 L272.97,62 L275.59,60.95 L278.21,60.46 L280.83,59.14 L283.45,58.75 L286.06,59.34 L288.68,59.32 L291.3,58.21 L293.92,57.48 L296.54,57.53 L299.15,57.58 L301.77,57.8 L304.39,58.34 L307.01,56.94 L309.63,59.21 L312.25,58.37 L314.86,58.33 L317.48,57.56 L320.1,56.7 L322.72,56.94 L325.34,57.74 L327.95,57.95 M199.66,89.51 L202.28,92.34 L204.9,93.68 L207.52,87.39 L210.14,73.05 L212.75,63.84 L215.37,57.73 L217.99,49.11 L220.61,47.63 L223.23,51.04 L225.85,52.36 L228.46,54.6 L231.08,58.51 L233.7,58.87 L236.32,59.14 L238.94,62.3 L241.55,61.33 L244.17,60.7 L246.79,60.25 L249.41,60.84 L252.03,60.24 L254.65,59.31 L257.26,58.83 L259.88,59.33 L262.5,58.7 L265.12,59.35 L267.74,59.62 L270.35,58.57 L272.97,59.7 L275.59,60.33 L278.21,58.93 L280.83,59.19 L283.45,59.14 L286.06,58.59 L288.68,57.53 L291.3,59.33 L293.92,59.82 L296.54,60.35 L299.15,60.95 L301.77,61.32 L304.39,61.59 L307.01,61.18 L309.63,63.69 L312.25,61.11 L314.86,59.82 L317.48,60.09 L320.1,59.3 L322.72,57.4 L325.34,56.98 L327.95,57.7 M199.66,90.58 L202.28,94.63 L204.9,93.58 L207.52,90.07 L210.14,78.92 L212.75,68.53 L215.37,63.4 L217.99,58.75 L220.61,60.28 L223.23,63.66 L225.85,66.47 L228.46,63.78 L231.08,65.92 L233.7,66.64 L236.32,66.58 L238.94,65.74 L241.55,63.18 L244.17,61.8 L246.79,58.37 L249.41,57.42 L252.03,55.83 L254.65,55.55 L257.26,55.38 L259.88,56.67 L262.5,57.06 L265.12,57.04 L267.74,57.68 L270.35,59.78 L272.97,59.63 L275.59,60.28 L278.21,60.27 L280.83,60.41 L283.45,60.3 L286.06,59.63 L288.68,60.52 L291.3,61.07 L293.92,60.58 L296.54,60.18 L299.15,60.3 L301.77,60.61 L304.39,61.06 L307.01,61.15 L309.63,61.96 L312.25,60.73 L314.86,58.61 L317.48,57.67 L320.1,57.79 L322.72,57.01 L325.34,58.5 L327.95,60.29 M199.66,89.77 L202.28,95.03 L204.9,96.76 L207.52,91.36 L210.14,84.25 L212.75,74.89 L215.37,71.19 L217.99,67.7 L220.61,67.16 L223.23,70.63 L225.85,74.51 L228.46,77.34 L231.08,77.13 L233.7,74.33 L236.32,71.18 L238.94,70.93 L241.55,69.55 L244.17,68.57 L246.79,65.96 L249.41,66.13 L252.03,63.2 L254.65,62.34 L257.26,62.3 L259.88,61.34 L262.5,60.38 L265.12,59.76 L267.74,59.14 L270.35,59.3 L272.97,58.97 L275.59,58.43 L278.21,58.38 L280.83,57.39 L283.45,57.32 L286.06,57.25 L288.68,58.14 L291.3,58.44 L293.92,57.86 L296.54,58.99 L299.15,58.41 L301.77,58.17 L304.39,57.93 L307.01,60.25 L309.63,62.33 L312.25,59.61 L314.86,59.72 L317.48,59.44 L320.1,61.26 L322.72,60.35 L325.34,60.85 L327.95,59.98 M199.66,83.82 L202.28,88.81 L204.9,88.01 L207.52,84.87 L210.14,74.82 L212.75,62.38 L215.37,58.45 L217.99,56.09 L220.61,56.17 L223.23,60.29 L225.85,59.88 L228.46,58.81 L231.08,62.07 L233.7,65.47 L236.32,62.55 L238.94,60.37 L241.55,58.51 L244.17,56.65 L246.79,57.54 L249.41,57.1 L252.03,58.3 L254.65,59.05 L257.26,57.97 L259.88,58.28 L262.5,56.52 L265.12,56.41 L267.74,57.4 L270.35,57.1 L272.97,56.44 L275.59,56.67 L278.21,57.61 L280.83,57.47 L283.45,56.31 L286.06,56.72 L288.68,57.45 L291.3,56.64 L293.92,56.66 L296.54,57.63 L299.15,57.95 L301.77,58.59 L304.39,58.2 L307.01,58.38 L309.63,59.42 L312.25,56.8 L314.86,57.78 L317.48,57.27 L320.1,56.13 L322.72,55.76 L325.34,54.93 L327.95,55.84 M199.66,83.51 L202.28,90.04 L204.9,94.91 L207.52,87.58 L210.14,77.64 L212.75,70.39 L215.37,66.93 L217.99,65.1 L220.61,66.2 L223.23,67.95 L225.85,68.41 L228.46,74.41 L231.08,72.94 L233.7,73.86 L236.32,73.46 L238.94,70.05 L241.55,67.71 L244.17,67.75 L246.79,63.53 L249.41,62.79 L252.03,61.37 L254.65,60.16 L257.26,58.58 L259.88,58.66 L262.5,57.92 L265.12,58.36 L267.74,57.76 L270.35,58.72 L272.97,59.67 L275.59,58.47 L278.21,58.01 L280.83,58.07 L283.45,56.18 L286.06,55.93 L288.68,56.8 L291.3,56.32 L293.92,57.49 L296.54,56.55 L299.15,55.66 L301.77,56.38 L304.39,57.02 L307.01,57.27 L309.63,59.45 L312.25,58.37 L314.86,57.31 L317.48,59.13 L320.1,59.09 L322.72,59.31 L325.34,59.45 L327.95,59.17 M199.66,80.97 L202.28,85.55 L204.9,87.25 L207.52,84.63 L210.14,75.36 L212.75,66.41 L215.37,61.94 L217.99,57.19 L220.61,53.92 L223.23,53.57 L225.85,52.76 L228.46,56.21 L231.08,60.15 L233.7,58.37 L236.32,57.75 L238.94,56.11 L241.55,55.9 L244.17,54.19 L246.79,53.23 L249.41,52.41 L252.03,52.45 L254.65,52.45 L257.26,52.88 L259.88,52.93 L262.5,52.59 L265.12,53.18 L267.74,52.41 L270.35,53.19 L272.97,53.41 L275.59,54.25 L278.21,54.48 L280.83,53.14 L283.45,53.61 L286.06,54.75 L288.68,55.46 L291.3,55.78 L293.92,54.03 L296.54,53.98 L299.15,53.36 L301.77,54.46 L304.39,54.22 L307.01,54.09 L309.63,54.76 L312.25,53.63 L314.86,52.75 L317.48,52.6 L320.1,53.47 L322.72,53.59 L325.34,53.99 L327.95,56.51 M199.66,83.82 L202.28,89.11 L204.9,92.32 L207.52,84.07 L210.14,72.16 L212.75,62.47 L215.37,53.74 L217.99,51.39 L220.61,49.58 L223.23,52.69 L225.85,55.66 L228.46,58.67 L231.08,60.51 L233.7,58.81 L236.32,58.73 L238.94,59.16 L241.55,59.03 L244.17,58.09 L246.79,58.72 L249.41,58.39 L252.03,58.02 L254.65,58.02 L257.26,58 L259.88,58.22 L262.5,56.67 L265.12,55.5 L267.74,55.67 L270.35,56.21 L272.97,55.29 L275.59,55.74 L278.21,55.83 L280.83,55.89 L283.45,55.73 L286.06,54.61 L288.68,54.89 L291.3,53.4 L293.92,54.54 L296.54,54.18 L299.15,55.31 L301.77,53.97 L304.39,54.51 L307.01,55.13 L309.63,56.63 L312.25,53.74 L314.86,54.55 L317.48,54.99 L320.1,56.15 L322.72,56.05 L325.34,56.24 L327.95,56.81 M199.66,86.96 L202.28,92.71 L204.9,92.21 L207.52,83.85 L210.14,76.49 L212.75,68.75 L215.37,63.21 L217.99,57.74 L220.61,58.97 L223.23,60.84 L225.85,64.83 L228.46,65.11 L231.08,65.91 L233.7,65.77 L236.32,64.08 L238.94,63.67 L241.55,64.48 L244.17,62.22 L246.79,60.71 L249.41,59.62 L252.03,57.99 L254.65,56.39 L257.26,57.42 L259.88,57.84 L262.5,56.68 L265.12,55.42 L267.74,56.54 L270.35,57.89 L272.97,59.08 L275.59,59.8 L278.21,60.68 L280.83,60.47 L283.45,61.14 L286.06,61.62 L288.68,60.45 L291.3,60.72 L293.92,60.49 L296.54,59.61 L299.15,58.69 L301.77,58.87 L304.39,58.62 L307.01,59.53 L309.63,59.89 L312.25,57.24 L314.86,57.71 L317.48,57.53 L320.1,56.49 L322.72,56.02 L325.34,54.34 L327.95,53.39 M199.66,85.73 L202.28,92.43 L204.9,92.46 L207.52,86.81 L210.14,69.6 L212.75,62.01 L215.37,60.64 L217.99,57.86 L220.61,56.82 L223.23,61.23 L225.85,64.81 L228.46,67.2 L231.08,67.24 L233.7,66.91 L236.32,67.18 L238.94,64.58 L241.55,63.77 L244.17,63.05 L246.79,63.36 L249.41,62.46 L252.03,60.62 L254.65,61.07 L257.26,60.5 L259.88,59.31 L262.5,59.55 L265.12,58.96 L267.74,60.02 L270.35,59.01 L272.97,58.67 L275.59,58.83 L278.21,59.94 L280.83,60.67 L283.45,59.47 L286.06,57.72 L288.68,57.43 L291.3,56.38 L293.92,56.99 L296.54,57.12 L299.15,57.11 L301.77,56.77 L304.39,58.07 L307.01,57.48 L309.63,58.39 L312.25,57.47 L314.86,58.15 L317.48,57.6 L320.1,57.82 L322.72,59.91 L325.34,58.87 L327.95,58.69" stroke="#ff5a48" stroke-opacity="0.55" stroke-width="0.55"/>
<path d="M199.66,85.5 L200.97,88.72 L202.28,90.38 L203.59,90.98 L204.9,91.07 L206.21,89.02 L207.52,85.04 L208.83,79.87 L210.14,74.37 L211.45,69.92 L212.75,65.91 L214.06,62.77 L215.37,60.14 L216.68,57.69 L217.99,55.81 L219.3,54.91 L220.61,55.2 L221.92,56.16 L223.23,57.2 L224.54,58.2 L225.85,59.37 L227.15,60.61 L228.46,61.78 L229.77,62.76 L231.08,63.44 L232.39,63.7 L233.7,63.62 L235.01,63.42 L236.32,63.11 L237.63,62.72 L238.94,62.27 L240.25,61.8 L241.55,61.32 L242.86,60.86 L244.17,60.45 L245.48,60.03 L246.79,59.55 L248.1,59.04 L249.41,58.54 L250.72,58.08 L252.03,57.68 L253.34,57.38 L254.65,57.2 L255.95,57.1 L257.26,57.01 L258.57,56.93 L259.88,56.87 L261.19,56.81 L262.5,56.77 L263.81,56.74 L265.12,56.74 L266.43,56.8 L267.74,56.95 L269.05,57.18 L270.35,57.43 L271.66,57.69 L272.97,57.91 L274.28,58.07 L275.59,58.13 L276.9,58.1 L278.21,58.03 L279.52,57.93 L280.83,57.8 L282.14,57.66 L283.45,57.53 L284.75,57.4 L286.06,57.3 L287.37,57.23 L288.68,57.2 L289.99,57.2 L291.3,57.2 L292.61,57.2 L293.92,57.2 L295.23,57.2 L296.54,57.2 L297.85,57.2 L299.15,57.2 L300.46,57.2 L301.77,57.2 L303.08,57.23 L304.39,57.32 L305.7,57.46 L307.01,57.66 L308.32,58.65 L309.63,59.52 L310.94,58.64 L312.25,57.66 L313.55,57.5 L314.86,57.35 L316.17,57.22 L317.48,57.11 L318.79,57.01 L320.1,56.93 L321.41,56.87 L322.72,56.82 L324.03,56.78 L325.34,56.76 L326.65,56.74 L327.95,56.74" stroke="#ff1f1f" stroke-width="1.15" stroke-dasharray="4.5 3.3"/>
<path d="M197.1,107.3 L199.5,110.5 L207,103.5 L209.9,105.4 L212.7,99.5 L217.6,104.5 L220.7,85.6 L225.4,92.4 L228.7,86.5 L232.5,96.7 L236,102.6 L238.8,98.8 L241.4,87.5 L243.8,90 L246.2,87.5 L249.5,99.8 L257.2,54.2" stroke="#739446" stroke-width="0.95"/>
</g>
<path d="M190.5,29.2 V131.5 H334.5" fill="none" stroke="#666" stroke-width="0.8"/>
<line x1="187.1" y1="126.8" x2="190.5" y2="126.8" stroke="#666" stroke-width="0.8"/>
<text x="183.3" y="129.2" font-size="7.8" fill="#2a2a2a" stroke="#2a2a2a" stroke-width="0.12" text-anchor="end">0</text>
<line x1="187.1" y1="103.6" x2="190.5" y2="103.6" stroke="#666" stroke-width="0.8"/>
<text x="183.3" y="106" font-size="7.8" fill="#2a2a2a" stroke="#2a2a2a" stroke-width="0.12" text-anchor="end">5</text>
<line x1="187.1" y1="80.4" x2="190.5" y2="80.4" stroke="#666" stroke-width="0.8"/>
<text x="183.3" y="82.8" font-size="7.8" fill="#2a2a2a" stroke="#2a2a2a" stroke-width="0.12" text-anchor="end">10</text>
<line x1="187.1" y1="57.2" x2="190.5" y2="57.2" stroke="#666" stroke-width="0.8"/>
<text x="183.3" y="59.6" font-size="7.8" fill="#2a2a2a" stroke="#2a2a2a" stroke-width="0.12" text-anchor="end">15</text>
<line x1="187.1" y1="34" x2="190.5" y2="34" stroke="#666" stroke-width="0.8"/>
<text x="183.3" y="36.4" font-size="7.8" fill="#2a2a2a" stroke="#2a2a2a" stroke-width="0.12" text-anchor="end">20</text>
<line x1="207.52" y1="131.5" x2="207.52" y2="134.9" stroke="#666" stroke-width="0.8"/>
<text x="207.52" y="144.4" font-size="7.8" fill="#2a2a2a" stroke="#2a2a2a" stroke-width="0.12" text-anchor="middle">2004</text>
<line x1="236.32" y1="131.5" x2="236.32" y2="134.9" stroke="#666" stroke-width="0.8"/>
<text x="236.32" y="144.4" font-size="7.8" fill="#2a2a2a" stroke="#2a2a2a" stroke-width="0.12" text-anchor="middle">2015</text>
<line x1="265.12" y1="131.5" x2="265.12" y2="134.9" stroke="#666" stroke-width="0.8"/>
<text x="265.12" y="144.4" font-size="7.8" fill="#2a2a2a" stroke="#2a2a2a" stroke-width="0.12" text-anchor="middle">2026</text>
<line x1="296.54" y1="131.5" x2="296.54" y2="134.9" stroke="#666" stroke-width="0.8"/>
<text x="296.54" y="144.4" font-size="7.8" fill="#2a2a2a" stroke="#2a2a2a" stroke-width="0.12" text-anchor="middle">2038</text>
<line x1="327.95" y1="131.5" x2="327.95" y2="134.9" stroke="#666" stroke-width="0.8"/>
<text x="327.95" y="144.4" font-size="7.8" fill="#2a2a2a" stroke="#2a2a2a" stroke-width="0.12" text-anchor="middle">2050</text>
<path d="M197.45,42.47 C197.63,42.22 198.79,41.41 199.29,40.94 C199.79,40.47 201.17,39.02 201.74,38.48 C202.31,37.94 203.63,36.77 204.2,36.34 C204.77,35.91 206.15,35.12 206.65,34.8 C207.15,34.48 207.99,33.83 208.49,33.58 C208.99,33.33 210.37,32.77 210.94,32.66 C211.51,32.55 212.75,32.59 213.39,32.66 C214.03,32.73 215.6,33.13 216.46,33.27 C217.32,33.41 219.96,33.71 220.75,33.89 C221.54,34.07 222.73,34.55 223.2,34.8 C223.67,35.05 224.53,35.71 224.74,36.03 C224.95,36.35 225.08,37.27 225.04,37.56 C225,37.85 224.29,38.3 224.43,38.48 C224.57,38.66 225.7,39.17 226.27,39.1 C226.84,39.03 228.69,38.16 229.33,37.87 C229.97,37.58 231.29,36.85 231.79,36.64 C232.29,36.43 233.49,35.96 233.63,36.03 C233.77,36.1 233.3,36.79 233.01,37.26 C232.72,37.73 231.31,39.38 231.17,40.02 C231.03,40.66 231.61,42.17 231.79,42.78 C231.97,43.39 232.78,44.94 232.71,45.23 C232.64,45.52 231.64,45.41 231.17,45.23 C230.7,45.05 229.36,44.02 228.72,43.7 C228.08,43.38 226.09,42.58 225.66,42.47 C225.23,42.36 225.15,42.57 225.04,42.78 C224.93,42.99 224.95,43.99 224.74,44.31 C224.53,44.63 223.67,45.34 223.2,45.53 C222.73,45.72 221.32,45.91 220.75,45.96 C220.18,46.01 219.02,45.96 218.3,45.96 C217.58,45.96 215.12,45.76 214.62,45.96 C214.12,46.16 214.12,47.3 214.01,47.68 C213.9,48.06 213.91,49.14 213.7,49.21 C213.49,49.28 212.56,48.58 212.17,48.29 C211.78,48 210.72,47.08 210.33,46.76 C209.94,46.44 209.3,45.71 208.8,45.53 C208.3,45.35 206.79,45.34 206.04,45.23 C205.29,45.12 203.15,44.79 202.36,44.61 C201.57,44.43 199.83,43.88 199.29,43.7 C198.75,43.52 197.97,43.22 197.76,43.08 C197.55,42.94 197.27,42.72 197.45,42.47Z" fill="#000"/>
<line x1="381.52" y1="29.2" x2="381.52" y2="131.5" stroke="#555" stroke-width="0.75" stroke-dasharray="2.4 2.83" stroke-dashoffset="-0.7"/>
<line x1="439.12" y1="29.2" x2="439.12" y2="131.5" stroke="#555" stroke-width="0.75" stroke-dasharray="2.4 2.83" stroke-dashoffset="-0.7"/>
<clipPath id="cp02"><rect x="364.5" y="29.2" width="144" height="102.3"/></clipPath>
<g clip-path="url(#cp02)" fill="none" stroke-linejoin="round" stroke-linecap="round">
<path d="M373.66,91.68 L376.28,94.88 L378.9,101.91 L381.52,104.94 L384.14,111.15 L386.75,114.6 L389.37,110.86 L391.99,112.04 L394.61,114.6 L397.23,106.04 L399.85,102.7 L402.46,102.96 L405.08,103.74 L407.7,106.69 L410.32,102.56 L412.94,105.72 L415.55,100.63 L418.17,111.41 L420.79,114.05 L423.41,121.55 L426.03,124.16 L428.65,119.45 L431.26,108.12 L433.88,112.88 L436.5,111.72 L439.12,112.35 L441.74,115.62 L444.35,120.07 L446.97,115.18 L449.59,122.9 L452.21,118.02 L454.83,116.19 L457.45,119.38 L460.06,121.04 L462.68,126.8 L465.3,112.87 L467.92,118.03 L470.54,107.76 L473.15,106.18 L475.77,110.14 L478.39,118.19 L481.01,112.12 L483.63,104.12 L486.25,114.6 L488.86,116.09 L491.48,111.04 L494.1,114.26 L496.72,104.29 L499.34,110.07 L501.95,109.77 M373.66,88.6 L376.28,96.1 L378.9,109.09 L381.52,110.15 L384.14,109.3 L386.75,98.81 L389.37,102.48 L391.99,102.43 L394.61,101.56 L397.23,96.33 L399.85,99.62 L402.46,98.6 L405.08,99.75 L407.7,106.91 L410.32,108.85 L412.94,108.89 L415.55,116.24 L418.17,110.09 L420.79,118.02 L423.41,109.98 L426.03,108.22 L428.65,110.47 L431.26,112.49 L433.88,112.62 L436.5,108.04 L439.12,102.89 L441.74,102.48 L444.35,98.14 L446.97,102.06 L449.59,102.05 L452.21,111.41 L454.83,106.48 L457.45,107.09 L460.06,108.11 L462.68,102.73 L465.3,101.38 L467.92,117.03 L470.54,114.39 L473.15,121.19 L475.77,111.64 L478.39,97.78 L481.01,105.46 L483.63,107.67 L486.25,112.15 L488.86,109.6 L491.48,107.71 L494.1,105.39 L496.72,114.05 L499.34,103.53 L501.95,112.55 M373.66,95.53 L376.28,93.87 L378.9,101.28 L381.52,107.68 L384.14,109.31 L386.75,108.87 L389.37,102.13 L391.99,108.8 L394.61,106.8 L397.23,105.1 L399.85,102.71 L402.46,103.84 L405.08,98.4 L407.7,102.05 L410.32,101.53 L412.94,101.1 L415.55,96.83 L418.17,112.8 L420.79,106.12 L423.41,109.25 L426.03,114.31 L428.65,119.48 L431.26,124.75 L433.88,122.17 L436.5,121.02 L439.12,113.44 L441.74,119.4 L444.35,107.8 L446.97,104.51 L449.59,106.5 L452.21,110.02 L454.83,114.04 L457.45,119.52 L460.06,117.67 L462.68,115.9 L465.3,115.53 L467.92,119.37 L470.54,117.86 L473.15,120.63 L475.77,116.43 L478.39,104.76 L481.01,104.09 L483.63,109.02 L486.25,120.98 L488.86,125.94 L491.48,126.8 L494.1,126.18 L496.72,126.8 L499.34,121.77 L501.95,123.72 M373.66,89.63 L376.28,95.45 L378.9,98.12 L381.52,104.72 L384.14,99.23 L386.75,105.43 L389.37,109.97 L391.99,113.51 L394.61,118.35 L397.23,112.63 L399.85,96.42 L402.46,105.61 L405.08,101.25 L407.7,103.97 L410.32,111.69 L412.94,111.27 L415.55,113.17 L418.17,116.66 L420.79,104.12 L423.41,115.13 L426.03,113.63 L428.65,110.83 L431.26,110.55 L433.88,108.05 L436.5,101.47 L439.12,100.2 L441.74,98.67 L444.35,95.83 L446.97,107.12 L449.59,97.67 L452.21,86.3 L454.83,86.41 L457.45,87.07 L460.06,98.21 L462.68,101.52 L465.3,107.54 L467.92,107.79 L470.54,101.5 L473.15,107.24 L475.77,107.23 L478.39,117.98 L481.01,116.34 L483.63,113.93 L486.25,117.81 L488.86,118.34 L491.48,105.48 L494.1,116.75 L496.72,121.08 L499.34,120.8 L501.95,111.1 M373.66,99.85 L376.28,103.61 L378.9,105.12 L381.52,101.07 L384.14,106.49 L386.75,98.86 L389.37,93.3 L391.99,95.25 L394.61,95.93 L397.23,96.31 L399.85,91.01 L402.46,102.96 L405.08,99.06 L407.7,106.51 L410.32,112.61 L412.94,110.81 L415.55,113.62 L418.17,119.38 L420.79,125.31 L423.41,125.82 L426.03,116.39 L428.65,105.06 L431.26,100.89 L433.88,96.68 L436.5,101.76 L439.12,102.5 L441.74,101.89 L444.35,108.48 L446.97,111.3 L449.59,108.94 L452.21,109.16 L454.83,114.46 L457.45,111.08 L460.06,109.74 L462.68,104.28 L465.3,105.95 L467.92,106.01 L470.54,105.82 L473.15,107.68 L475.77,111.46 L478.39,113.46 L481.01,109.01 L483.63,106.58 L486.25,102.35 L488.86,113.93 L491.48,116.28 L494.1,120.75 L496.72,117.85 L499.34,117.44 L501.95,119.54 M373.66,105.52 L376.28,111.22 L378.9,103.02 L381.52,101.32 L384.14,106.37 L386.75,103.31 L389.37,108.71 L391.99,102.12 L394.61,106.55 L397.23,113.1 L399.85,114.06 L402.46,119.09 L405.08,116.9 L407.7,117.62 L410.32,117.68 L412.94,119.22 L415.55,126.8 L418.17,126.8 L420.79,126.8 L423.41,126.8 L426.03,122.35 L428.65,119.58 L431.26,118.03 L433.88,117.38 L436.5,115.72 L439.12,116.28 L441.74,117.66 L444.35,120.2 L446.97,109.32 L449.59,109.65 L452.21,104.26 L454.83,108.11 L457.45,109.84 L460.06,109.87 L462.68,108.95 L465.3,106.18 L467.92,104.72 L470.54,110.88 L473.15,116.15 L475.77,105.99 L478.39,110.48 L481.01,114.3 L483.63,107.25 L486.25,105.5 L488.86,105.1 L491.48,111.69 L494.1,103.33 L496.72,105.93 L499.34,104.92 L501.95,110.38 M373.66,116.58 L376.28,111.27 L378.9,107.93 L381.52,111.14 L384.14,116.42 L386.75,121.98 L389.37,119.91 L391.99,123.23 L394.61,115.85 L397.23,109.81 L399.85,95.53 L402.46,97.81 L405.08,106.15 L407.7,115.63 L410.32,126.8 L412.94,126.8 L415.55,126.8 L418.17,121.9 L420.79,117.16 L423.41,113.7 L426.03,115.99 L428.65,113.24 L431.26,104.05 L433.88,112.42 L436.5,114.12 L439.12,119.78 L441.74,108.54 L444.35,102.07 L446.97,99.09 L449.59,109 L452.21,108.2 L454.83,110.96 L457.45,111.96 L460.06,111.62 L462.68,110.04 L465.3,113.83 L467.92,106.87 L470.54,107.49 L473.15,111.24 L475.77,112.57 L478.39,116.17 L481.01,112.28 L483.63,115.77 L486.25,116.13 L488.86,117.99 L491.48,126.8 L494.1,122.56 L496.72,126.8 L499.34,119.77 L501.95,117.58 M373.66,114.79 L376.28,114.9 L378.9,116.84 L381.52,122.4 L384.14,114.98 L386.75,115.19 L389.37,111.82 L391.99,112.64 L394.61,111.72 L397.23,116.91 L399.85,115.41 L402.46,113.57 L405.08,114.22 L407.7,119.45 L410.32,125.21 L412.94,121.21 L415.55,119.9 L418.17,121.88 L420.79,124.65 L423.41,119.49 L426.03,108.45 L428.65,113.32 L431.26,110.26 L433.88,109.45 L436.5,123.51 L439.12,118.63 L441.74,120.43 L444.35,110.26 L446.97,110.55 L449.59,115.09 L452.21,114.89 L454.83,113.79 L457.45,117.74 L460.06,115.25 L462.68,123.17 L465.3,122.42 L467.92,113.65 L470.54,103 L473.15,102.85 L475.77,104.86 L478.39,101.99 L481.01,101.48 L483.63,97.62 L486.25,99.25 L488.86,104.9 L491.48,108.3 L494.1,113.84 L496.72,114.32 L499.34,113.31 L501.95,120.29 M373.66,108.26 L376.28,116.48 L378.9,112.1 L381.52,111.71 L384.14,118.24 L386.75,111.39 L389.37,105.31 L391.99,103.98 L394.61,97.29 L397.23,91.98 L399.85,102.52 L402.46,100.76 L405.08,101.77 L407.7,104.76 L410.32,103.02 L412.94,108.78 L415.55,114.6 L418.17,119.67 L420.79,121.57 L423.41,119.23 L426.03,126.8 L428.65,126.8 L431.26,118.59 L433.88,116.19 L436.5,111.13 L439.12,119.16 L441.74,119.73 L444.35,118.65 L446.97,113.41 L449.59,114.57 L452.21,106.79 L454.83,107.81 L457.45,108.89 L460.06,107.14 L462.68,104.65 L465.3,109.24 L467.92,100.94 L470.54,100.89 L473.15,102.88 L475.77,104.61 L478.39,103.97 L481.01,101.33 L483.63,99.98 L486.25,103.33 L488.86,100.55 L491.48,104.46 L494.1,103.44 L496.72,107.3 L499.34,119.83 L501.95,111.06 M373.66,113.58 L376.28,111.63 L378.9,114.01 L381.52,103.09 L384.14,101.8 L386.75,111.8 L389.37,107.78 L391.99,108.78 L394.61,99.96 L397.23,109.33 L399.85,120.58 L402.46,118.98 L405.08,119.18 L407.7,121.85 L410.32,126.8 L412.94,123.39 L415.55,113.65 L418.17,125.22 L420.79,115.98 L423.41,118.34 L426.03,107.46 L428.65,107.85 L431.26,108.3 L433.88,103.33 L436.5,101.94 L439.12,106.4 L441.74,103.39 L444.35,107.52 L446.97,115.96 L449.59,102.85 L452.21,106.09 L454.83,110.9 L457.45,109.91 L460.06,117.06 L462.68,123.51 L465.3,123.25 L467.92,120.45 L470.54,117.34 L473.15,109.68 L475.77,112.87 L478.39,110.54 L481.01,108.88 L483.63,117.33 L486.25,116.97 L488.86,121.06 L491.48,114.12 L494.1,115.39 L496.72,116.08 L499.34,122.41 L501.95,120.54 M373.66,97.6 L376.28,99.16 L378.9,104.03 L381.52,101.11 L384.14,98.41 L386.75,103.62 L389.37,98.04 L391.99,100.56 L394.61,104.63 L397.23,105.72 L399.85,109.52 L402.46,112.93 L405.08,113.08 L407.7,106.64 L410.32,101.09 L412.94,104.72 L415.55,99.97 L418.17,105 L420.79,105.01 L423.41,102.14 L426.03,105.97 L428.65,95.48 L431.26,96.43 L433.88,106.26 L436.5,98.94 L439.12,102.42 L441.74,105.08 L444.35,121.05 L446.97,109.56 L449.59,103.95 L452.21,99.72 L454.83,96.88 L457.45,91.75 L460.06,95.09 L462.68,94.57 L465.3,103.31 L467.92,104.58 L470.54,99.78 L473.15,100.44 L475.77,110.2 L478.39,108.43 L481.01,110.83 L483.63,116.23 L486.25,114.05 L488.86,114.98 L491.48,123.83 L494.1,126.8 L496.72,115.43 L499.34,121.97 L501.95,118.61 M373.66,99 L376.28,105.94 L378.9,106.61 L381.52,107.14 L384.14,102.53 L386.75,107.06 L389.37,112.51 L391.99,104.39 L394.61,100.41 L397.23,101.79 L399.85,106.31 L402.46,106.62 L405.08,107.54 L407.7,106.61 L410.32,115.57 L412.94,113.22 L415.55,115.42 L418.17,121.69 L420.79,117.88 L423.41,115.9 L426.03,119.6 L428.65,115.96 L431.26,119.87 L433.88,116.95 L436.5,111.38 L439.12,107.74 L441.74,101.75 L444.35,109.44 L446.97,115.17 L449.59,111.32 L452.21,107.06 L454.83,96.14 L457.45,97.39 L460.06,103.87 L462.68,101.77 L465.3,109.24 L467.92,115.29 L470.54,99.03 L473.15,100.58 L475.77,99.2 L478.39,99.89 L481.01,93.95 L483.63,98.48 L486.25,97.49 L488.86,107.19 L491.48,117.66 L494.1,111.67 L496.72,104.46 L499.34,102.96 L501.95,105.57 M373.66,107.04 L376.28,97.41 L378.9,95.35 L381.52,97.04 L384.14,97.2 L386.75,94.4 L389.37,94.81 L391.99,92.91 L394.61,103.54 L397.23,102.9 L399.85,92.42 L402.46,101.23 L405.08,104.61 L407.7,103.9 L410.32,101.88 L412.94,100.6 L415.55,113.76 L418.17,111.75 L420.79,117.82 L423.41,119.98 L426.03,117.05 L428.65,117.43 L431.26,108.75 L433.88,91.84 L436.5,91.53 L439.12,91.1 L441.74,100.18 L444.35,104.96 L446.97,109.24 L449.59,110.91 L452.21,114.74 L454.83,116.21 L457.45,115.58 L460.06,116.94 L462.68,122.74 L465.3,126.39 L467.92,116.23 L470.54,113.39 L473.15,106.38 L475.77,101.03 L478.39,105.81 L481.01,104.11 L483.63,114.91 L486.25,102.59 L488.86,97.77 L491.48,103.94 L494.1,116.38 L496.72,113.61 L499.34,122.62 L501.95,124.74 M373.66,105.38 L376.28,107.49 L378.9,102.07 L381.52,110.62 L384.14,108.31 L386.75,111.12 L389.37,114.51 L391.99,109.28 L394.61,115.26 L397.23,105.16 L399.85,109.31 L402.46,101.36 L405.08,110.8 L407.7,110.86 L410.32,119.05 L412.94,123.98 L415.55,122.09 L418.17,117.83 L420.79,123.72 L423.41,114.76 L426.03,121.61 L428.65,119.54 L431.26,113.67 L433.88,109.96 L436.5,119.07 L439.12,106.84 L441.74,104.65 L444.35,108.12 L446.97,112.44 L449.59,120.61 L452.21,124.2 L454.83,117.53 L457.45,118.42 L460.06,120.87 L462.68,121.82 L465.3,110.88 L467.92,110.89 L470.54,114.43 L473.15,106.53 L475.77,105.61 L478.39,108.12 L481.01,114.13 L483.63,123.83 L486.25,126.8 L488.86,126.8 L491.48,126.09 L494.1,124.54 L496.72,119.62 L499.34,116.1 L501.95,115.68 M373.66,116.67 L376.28,114.28 L378.9,115.09 L381.52,116.53 L384.14,113.98 L386.75,117.57 L389.37,119.06 L391.99,114.04 L394.61,111.66 L397.23,114.36 L399.85,108.92 L402.46,111.1 L405.08,115.93 L407.7,116.05 L410.32,105.44 L412.94,109.65 L415.55,105.47 L418.17,101.18 L420.79,96.22 L423.41,104.62 L426.03,98.39 L428.65,101.97 L431.26,103.33 L433.88,105.71 L436.5,102 L439.12,101.83 L441.74,103.7 L444.35,96.93 L446.97,101.58 L449.59,108.09 L452.21,102.38 L454.83,99.94 L457.45,96.87 L460.06,104 L462.68,99.75 L465.3,99.92 L467.92,90.22 L470.54,102.17 L473.15,102.78 L475.77,105.67 L478.39,115.86 L481.01,118.73 L483.63,110.53 L486.25,114.85 L488.86,117.04 L491.48,111.12 L494.1,108.95 L496.72,104.72 L499.34,109.97 L501.95,111.5 M373.66,107.7 L376.28,109.57 L378.9,103.31 L381.52,97.59 L384.14,105.55 L386.75,118.93 L389.37,122.19 L391.99,121.32 L394.61,118.51 L397.23,113.14 L399.85,111.81 L402.46,116.05 L405.08,113.84 L407.7,120.2 L410.32,118.79 L412.94,119.31 L415.55,104.84 L418.17,104.13 L420.79,110.94 L423.41,116.32 L426.03,119.95 L428.65,126.8 L431.26,123.76 L433.88,123.2 L436.5,113.26 L439.12,112.74 L441.74,115.11 L444.35,119.46 L446.97,120.32 L449.59,116.47 L452.21,114.2 L454.83,106.39 L457.45,111.26 L460.06,102.95 L462.68,104.03 L465.3,106.09 L467.92,115.85 L470.54,120.89 L473.15,113.52 L475.77,104.37 L478.39,105.4 L481.01,103.6 L483.63,109.04 L486.25,113.76 L488.86,116.44 L491.48,110.6 L494.1,112.78 L496.72,114.9 L499.34,114.99 L501.95,112 M373.66,110.18 L376.28,99.37 L378.9,99.39 L381.52,103 L384.14,96.5 L386.75,94.68 L389.37,98.65 L391.99,97.32 L394.61,106.79 L397.23,111.71 L399.85,122 L402.46,113.74 L405.08,123.15 L407.7,118.66 L410.32,122.14 L412.94,123.8 L415.55,123.32 L418.17,120.35 L420.79,115.16 L423.41,105.19 L426.03,108.35 L428.65,105.8 L431.26,108.7 L433.88,105.36 L436.5,105.01 L439.12,107.54 L441.74,108.16 L444.35,108.14 L446.97,105.43 L449.59,103.9 L452.21,107.36 L454.83,112.17 L457.45,108.23 L460.06,116.29 L462.68,118.6 L465.3,108.17 L467.92,121.59 L470.54,122.03 L473.15,115.04 L475.77,122.84 L478.39,105.43 L481.01,122.83 L483.63,112.6 L486.25,105.79 L488.86,102.32 L491.48,107.91 L494.1,111.24 L496.72,118.04 L499.34,111.1 L501.95,119.35 M373.66,99.94 L376.28,107.08 L378.9,108.67 L381.52,109.51 L384.14,116.01 L386.75,108.43 L389.37,106.91 L391.99,114.29 L394.61,114.27 L397.23,118.42 L399.85,119.29 L402.46,118.48 L405.08,121.14 L407.7,116.57 L410.32,120.81 L412.94,113.49 L415.55,116.09 L418.17,113 L420.79,116.81 L423.41,119.06 L426.03,126.8 L428.65,121.15 L431.26,112.17 L433.88,101.16 L436.5,96.84 L439.12,98.82 L441.74,103.45 L444.35,103.24 L446.97,103.98 L449.59,97.97 L452.21,96.16 L454.83,105.65 L457.45,112.29 L460.06,103.23 L462.68,105.18 L465.3,109.39 L467.92,101.8 L470.54,107.28 L473.15,110.9 L475.77,114.15 L478.39,125.66 L481.01,118.53 L483.63,125.31 L486.25,126.8 L488.86,126.8 L491.48,121.34 L494.1,123.95 L496.72,122.62 L499.34,126.8 L501.95,126.8 M373.66,101.89 L376.28,100.19 L378.9,101.23 L381.52,93.99 L384.14,94.84 L386.75,95.57 L389.37,98.01 L391.99,100.46 L394.61,98.53 L397.23,96.92 L399.85,106.61 L402.46,103.68 L405.08,103.58 L407.7,103.38 L410.32,104.61 L412.94,112.76 L415.55,120.55 L418.17,110.19 L420.79,109.79 L423.41,118.01 L426.03,117.29 L428.65,118.51 L431.26,124.07 L433.88,126.8 L436.5,126.8 L439.12,123.05 L441.74,118.69 L444.35,116.43 L446.97,110.64 L449.59,106.37 L452.21,117.59 L454.83,116.86 L457.45,119.99 L460.06,121.9 L462.68,122.04 L465.3,119.69 L467.92,116.09 L470.54,122.27 L473.15,121.59 L475.77,106.9 L478.39,114.53 L481.01,124.06 L483.63,119.87 L486.25,116.21 L488.86,112.08 L491.48,119.75 L494.1,115.78 L496.72,120.47 L499.34,123.84 L501.95,125.24 M373.66,101.02 L376.28,98.89 L378.9,100.94 L381.52,99.95 L384.14,101.88 L386.75,99.6 L389.37,109.26 L391.99,115.97 L394.61,110.99 L397.23,118.98 L399.85,117.59 L402.46,117.91 L405.08,119.33 L407.7,122.33 L410.32,113.74 L412.94,126.44 L415.55,120.08 L418.17,108.03 L420.79,110.09 L423.41,111.52 L426.03,111.38 L428.65,103.46 L431.26,110.68 L433.88,110.57 L436.5,110.99 L439.12,106.82 L441.74,106.82 L444.35,103.86 L446.97,106.25 L449.59,106.9 L452.21,110.87 L454.83,114.75 L457.45,115.42 L460.06,113.38 L462.68,120.13 L465.3,109.69 L467.92,109.01 L470.54,117.56 L473.15,110.15 L475.77,114.93 L478.39,112.1 L481.01,113.65 L483.63,113.37 L486.25,114.71 L488.86,117.59 L491.48,117.7 L494.1,109.12 L496.72,124.78 L499.34,120.66 L501.95,117.68" stroke="#ff5a48" stroke-opacity="0.55" stroke-width="0.55"/>
<path d="M373.66,103.55 L378.9,105.1 L386.75,106.96 L394.09,107.58 L399.85,107.27 L405.08,109.75 L410.32,113.62 L414.51,114.71 L418.7,115.33 L426.81,115.33 L431.26,111.92 L439.12,108.51 L445.66,108.97 L453.78,108.05 L462.68,111.3 L470.54,110.06 L475.77,109.13 L483.63,111.3 L492.53,115.33 L501.95,116.57" stroke="#ff1f1f" stroke-width="1.15" stroke-dasharray="4.5 3.3"/>
<path d="M370.6,101.9 L373.3,113.1 L378.7,103.4 L381.3,112.1 L383.3,112.6 L386.4,120.8 L392,120.3 L394.6,126.4 L397.1,123.6 L399.5,126.7 L402.7,113.6 L404.8,92.4 L406.3,102.4 L407.9,110 L409.9,103.9 L411.9,115.7 L415,119.2 L417.9,98.8 L420.1,116.2 L422.7,118.2 L425.2,121.8 L428.3,114.6 L431.4,123.6" stroke="#739446" stroke-width="0.95"/>
</g>
<path d="M364.5,29.2 V131.5 H508.5" fill="none" stroke="#666" stroke-width="0.8"/>
<line x1="361.1" y1="126.8" x2="364.5" y2="126.8" stroke="#666" stroke-width="0.8"/>
<text x="357.3" y="129.2" font-size="7.8" fill="#2a2a2a" stroke="#2a2a2a" stroke-width="0.12" text-anchor="end">0</text>
<line x1="361.1" y1="95.8" x2="364.5" y2="95.8" stroke="#666" stroke-width="0.8"/>
<text x="357.3" y="98.2" font-size="7.8" fill="#2a2a2a" stroke="#2a2a2a" stroke-width="0.12" text-anchor="end">20</text>
<line x1="361.1" y1="64.8" x2="364.5" y2="64.8" stroke="#666" stroke-width="0.8"/>
<text x="357.3" y="67.2" font-size="7.8" fill="#2a2a2a" stroke="#2a2a2a" stroke-width="0.12" text-anchor="end">40</text>
<line x1="361.1" y1="33.8" x2="364.5" y2="33.8" stroke="#666" stroke-width="0.8"/>
<text x="357.3" y="36.2" font-size="7.8" fill="#2a2a2a" stroke="#2a2a2a" stroke-width="0.12" text-anchor="end">60</text>
<line x1="381.52" y1="131.5" x2="381.52" y2="134.9" stroke="#666" stroke-width="0.8"/>
<text x="381.52" y="144.4" font-size="7.8" fill="#2a2a2a" stroke="#2a2a2a" stroke-width="0.12" text-anchor="middle">2004</text>
<line x1="410.32" y1="131.5" x2="410.32" y2="134.9" stroke="#666" stroke-width="0.8"/>
<text x="410.32" y="144.4" font-size="7.8" fill="#2a2a2a" stroke="#2a2a2a" stroke-width="0.12" text-anchor="middle">2015</text>
<line x1="439.12" y1="131.5" x2="439.12" y2="134.9" stroke="#666" stroke-width="0.8"/>
<text x="439.12" y="144.4" font-size="7.8" fill="#2a2a2a" stroke="#2a2a2a" stroke-width="0.12" text-anchor="middle">2026</text>
<line x1="470.54" y1="131.5" x2="470.54" y2="134.9" stroke="#666" stroke-width="0.8"/>
<text x="470.54" y="144.4" font-size="7.8" fill="#2a2a2a" stroke="#2a2a2a" stroke-width="0.12" text-anchor="middle">2038</text>
<line x1="501.95" y1="131.5" x2="501.95" y2="134.9" stroke="#666" stroke-width="0.8"/>
<text x="501.95" y="144.4" font-size="7.8" fill="#2a2a2a" stroke="#2a2a2a" stroke-width="0.12" text-anchor="middle">2050</text>
<path d="M379.25,39.94 L376.65,32.03 L376.07,32.18 L377.6,40.36Z M379.83,40.22 L380.3,32.22 L379.71,32.14 L378.15,40Z M378.4,39.92 L372.48,34.36 L372.05,34.77 L377.16,41.08Z M380.41,40.99 L384.83,34.78 L384.37,34.4 L379.1,39.9Z M380.52,41.63 L386.93,37.51 L386.65,36.98 L379.71,40.14Z M377.55,40.41 L369.17,38.89 L369.02,39.47 L377.14,42.06Z M380.23,42.56 L388.25,42.63 L388.3,42.03 L380.36,40.87Z M377.19,40.98 L369.06,42.75 L369.15,43.35 L377.44,42.66Z M379.52,43.17 L386.42,47.45 L386.77,46.96 L380.51,41.79Z M377.12,41.97 L371.1,48.15 L371.51,48.59 L378.26,43.24Z M378.95,43.32 L383.88,49.52 L384.37,49.18 L380.35,42.35Z M377.35,42.53 L373.92,50.22 L374.45,50.5 L378.85,43.32Z M377.92,43.08 L378.26,52.29 L378.86,52.3 L379.62,43.12Z" fill="#222" stroke="#222" stroke-width="0.25" stroke-linejoin="round"/><circle cx="378.8" cy="41.6" r="2.6" fill="#222"/>
<line x1="555.52" y1="29.2" x2="555.52" y2="131.5" stroke="#555" stroke-width="0.75" stroke-dasharray="2.4 2.83" stroke-dashoffset="-0.7"/>
<line x1="613.12" y1="29.2" x2="613.12" y2="131.5" stroke="#555" stroke-width="0.75" stroke-dasharray="2.4 2.83" stroke-dashoffset="-0.7"/>
<clipPath id="cp03"><rect x="538.5" y="29.2" width="144" height="102.3"/></clipPath>
<g clip-path="url(#cp03)" fill="none" stroke-linejoin="round" stroke-linecap="round">
<path d="M547.66,70.44 L550.28,78.18 L552.9,74.19 L555.52,73.54 L558.14,74.68 L560.75,74.62 L563.37,71.98 L565.99,71.09 L568.61,88.31 L571.23,88.77 L573.85,88.22 L576.46,85.3 L579.08,82.56 L581.7,84.59 L584.32,89.26 L586.94,88.85 L589.55,89.79 L592.17,89.54 L594.79,89.92 L597.41,88.19 L600.03,85.24 L602.65,80.62 L605.26,80.08 L607.88,71.46 L610.5,72.89 L613.12,68.55 L615.74,76.93 L618.35,76.19 L620.97,84.39 L623.59,93.11 L626.21,92.73 L628.83,89.06 L631.45,86.2 L634.06,90.18 L636.68,84.65 L639.3,85.79 L641.92,81.46 L644.54,86.47 L647.15,85.75 L649.77,85.72 L652.39,82.92 L655.01,79.58 L657.63,77.84 L660.25,86.82 L662.86,95.82 L665.48,93.26 L668.1,87.58 L670.72,81.44 L673.34,92.23 L675.95,101.14 M547.66,69.1 L550.28,76.6 L552.9,76.2 L555.52,75.84 L558.14,77.2 L560.75,76.15 L563.37,73.67 L565.99,71.14 L568.61,88.02 L571.23,87.74 L573.85,87.59 L576.46,88.58 L579.08,86.32 L581.7,86.95 L584.32,87.71 L586.94,87.86 L589.55,83.6 L592.17,81.57 L594.79,78.77 L597.41,77.55 L600.03,76.8 L602.65,74.27 L605.26,71.77 L607.88,72.64 L610.5,71.28 L613.12,75.66 L615.74,85.04 L618.35,86.81 L620.97,88.03 L623.59,89.01 L626.21,82.8 L628.83,83.77 L631.45,83.55 L634.06,78.24 L636.68,75.9 L639.3,79.04 L641.92,80.05 L644.54,77.06 L647.15,76.66 L649.77,79.39 L652.39,78.35 L655.01,74.55 L657.63,73.15 L660.25,70.29 L662.86,63.38 L665.48,64.04 L668.1,72.41 L670.72,71.15 L673.34,71.14 L675.95,68.76 M547.66,75.32 L550.28,81.07 L552.9,77.56 L555.52,75.77 L558.14,72.86 L560.75,75.06 L563.37,71.11 L565.99,72.19 L568.61,87.57 L571.23,87.68 L573.85,85.31 L576.46,85.02 L579.08,84.98 L581.7,85.68 L584.32,88.94 L586.94,90.11 L589.55,85.61 L592.17,80.98 L594.79,78.77 L597.41,79.81 L600.03,78.48 L602.65,78.29 L605.26,72.33 L607.88,68.88 L610.5,67.21 L613.12,67.09 L615.74,76.59 L618.35,75.23 L620.97,89.57 L623.59,86.93 L626.21,89.31 L628.83,90.48 L631.45,90.43 L634.06,84.94 L636.68,92.55 L639.3,94.26 L641.92,92.38 L644.54,86.27 L647.15,86.53 L649.77,84.69 L652.39,81.75 L655.01,80.54 L657.63,76.03 L660.25,72.76 L662.86,68.55 L665.48,68.36 L668.1,65.72 L670.72,64.43 L673.34,66.38 L675.95,67.33 M547.66,73.04 L550.28,80.55 L552.9,77.63 L555.52,77.54 L558.14,76.37 L560.75,75.86 L563.37,71.61 L565.99,72.14 L568.61,88.04 L571.23,89.5 L573.85,87.8 L576.46,86.87 L579.08,84.35 L581.7,83.61 L584.32,84.93 L586.94,89.5 L589.55,87.63 L592.17,89.65 L594.79,84.12 L597.41,87.14 L600.03,87.37 L602.65,88.82 L605.26,80.91 L607.88,81.34 L610.5,79.05 L613.12,73.26 L615.74,71.2 L618.35,72.34 L620.97,65.15 L623.59,68.59 L626.21,65.63 L628.83,64.67 L631.45,65.51 L634.06,64.49 L636.68,63.76 L639.3,61.84 L641.92,62.09 L644.54,71.05 L647.15,73.48 L649.77,75.95 L652.39,74.61 L655.01,72.64 L657.63,71.23 L660.25,70.66 L662.86,68.52 L665.48,66.39 L668.1,75.01 L670.72,70.34 L673.34,72.78 L675.95,73.25 M547.66,71.8 L550.28,75.21 L552.9,74.39 L555.52,72.2 L558.14,71.39 L560.75,72.45 L563.37,70.57 L565.99,73.48 L568.61,90.61 L571.23,91.97 L573.85,89.22 L576.46,86.67 L579.08,82 L581.7,80.13 L584.32,83.93 L586.94,82.69 L589.55,82.41 L592.17,79.35 L594.79,76.61 L597.41,77.18 L600.03,75.23 L602.65,72.79 L605.26,72.18 L607.88,66.04 L610.5,60.12 L613.12,67.02 L615.74,81.93 L618.35,82.28 L620.97,81.87 L623.59,80.89 L626.21,81.33 L628.83,77.77 L631.45,80.52 L634.06,80.18 L636.68,78.93 L639.3,76.97 L641.92,73.05 L644.54,74.32 L647.15,76.2 L649.77,85.24 L652.39,94.77 L655.01,91.77 L657.63,94.85 L660.25,92.77 L662.86,93.62 L665.48,90.37 L668.1,86.15 L670.72,91.1 L673.34,87.9 L675.95,86.79 M547.66,76.31 L550.28,81.5 L552.9,77.42 L555.52,76.56 L558.14,75.57 L560.75,75.37 L563.37,73.63 L565.99,68.67 L568.61,87.29 L571.23,88.44 L573.85,88.48 L576.46,86.56 L579.08,83.8 L581.7,82 L584.32,85.19 L586.94,88.58 L589.55,86.52 L592.17,86.17 L594.79,85 L597.41,86.68 L600.03,85.95 L602.65,85.18 L605.26,82.99 L607.88,83.55 L610.5,81.08 L613.12,80.29 L615.74,82.11 L618.35,78.47 L620.97,90.5 L623.59,85.86 L626.21,94.52 L628.83,93.4 L631.45,91.89 L634.06,92.37 L636.68,89.8 L639.3,97.06 L641.92,90.92 L644.54,86.73 L647.15,80.64 L649.77,90.98 L652.39,86.17 L655.01,84.18 L657.63,99.62 L660.25,96.04 L662.86,91.66 L665.48,85.76 L668.1,81.63 L670.72,92.11 L673.34,88.47 L675.95,90.41 M547.66,66.74 L550.28,72.27 L552.9,72.51 L555.52,72.23 L558.14,71.74 L560.75,69.77 L563.37,68.75 L565.99,70.41 L568.61,86.61 L571.23,87.41 L573.85,84.44 L576.46,82.33 L579.08,78.36 L581.7,74.57 L584.32,76.77 L586.94,75.9 L589.55,77.9 L592.17,78.49 L594.79,74.9 L597.41,69.23 L600.03,65.04 L602.65,58.25 L605.26,58.69 L607.88,57.26 L610.5,55.17 L613.12,56.77 L615.74,55.53 L618.35,60.08 L620.97,55.38 L623.59,55.62 L626.21,54.33 L628.83,60.34 L631.45,60.38 L634.06,60.75 L636.68,58.38 L639.3,61.32 L641.92,71.61 L644.54,82.1 L647.15,82.63 L649.77,79.29 L652.39,85.78 L655.01,94.01 L657.63,97.36 L660.25,94.67 L662.86,92.91 L665.48,92.09 L668.1,91.69 L670.72,91.37 L673.34,90.6 L675.95,88.5 M547.66,76.34 L550.28,78.73 L552.9,76.61 L555.52,73.38 L558.14,74.59 L560.75,77.97 L563.37,72.46 L565.99,72.58 L568.61,89.27 L571.23,89.28 L573.85,87.55 L576.46,85.5 L579.08,86.12 L581.7,83.24 L584.32,87.36 L586.94,88.29 L589.55,83.63 L592.17,80.99 L594.79,80.91 L597.41,84.27 L600.03,81.99 L602.65,78.44 L605.26,77.69 L607.88,78.64 L610.5,79.74 L613.12,71.24 L615.74,86.92 L618.35,89.16 L620.97,84.85 L623.59,82.69 L626.21,77.93 L628.83,75.62 L631.45,79.44 L634.06,79.2 L636.68,74.89 L639.3,83.74 L641.92,78.64 L644.54,78.81 L647.15,79.92 L649.77,78.86 L652.39,80.98 L655.01,72.25 L657.63,76.13 L660.25,74.41 L662.86,76.32 L665.48,78.21 L668.1,82.74 L670.72,93.69 L673.34,88.59 L675.95,89.28 M547.66,76.96 L550.28,80.47 L552.9,79.19 L555.52,76.8 L558.14,77.89 L560.75,78.13 L563.37,73.13 L565.99,74.94 L568.61,92.74 L571.23,91.84 L573.85,92.24 L576.46,90.93 L579.08,86.59 L581.7,87.11 L584.32,87.98 L586.94,89.38 L589.55,85.19 L592.17,81.5 L594.79,81.83 L597.41,81.08 L600.03,82.32 L602.65,79.86 L605.26,75.5 L607.88,77.78 L610.5,73.96 L613.12,76.52 L615.74,75.15 L618.35,79.59 L620.97,79.64 L623.59,78.22 L626.21,76.22 L628.83,76.75 L631.45,74.43 L634.06,85.67 L636.68,84.59 L639.3,81.32 L641.92,90.99 L644.54,88.39 L647.15,88.45 L649.77,91.97 L652.39,90.27 L655.01,87.46 L657.63,84.25 L660.25,78.88 L662.86,73.17 L665.48,71.44 L668.1,78.3 L670.72,86.23 L673.34,95.03 L675.95,96.89 M547.66,71.86 L550.28,76.73 L552.9,75.85 L555.52,74.57 L558.14,76.8 L560.75,75.83 L563.37,74.2 L565.99,74.28 L568.61,90.3 L571.23,89.66 L573.85,90.68 L576.46,90.84 L579.08,87.96 L581.7,85.37 L584.32,86.94 L586.94,84.72 L589.55,81.18 L592.17,79.44 L594.79,78.33 L597.41,79.54 L600.03,80.54 L602.65,79.4 L605.26,76.73 L607.88,72.72 L610.5,71.84 L613.12,68.15 L615.74,79.67 L618.35,75.63 L620.97,70.38 L623.59,71.06 L626.21,72.39 L628.83,73.31 L631.45,69.6 L634.06,67.71 L636.68,68.84 L639.3,68.51 L641.92,75.26 L644.54,73.98 L647.15,85.02 L649.77,83.61 L652.39,80.66 L655.01,76.24 L657.63,74.16 L660.25,71.78 L662.86,79.5 L665.48,75.24 L668.1,72.03 L670.72,67.07 L673.34,68.04 L675.95,68.32 M547.66,68.54 L550.28,73.69 L552.9,73.2 L555.52,70.46 L558.14,71.59 L560.75,69.32 L563.37,66.13 L565.99,64.76 L568.61,84.97 L571.23,86.47 L573.85,82.46 L576.46,81.05 L579.08,76.22 L581.7,74.83 L584.32,76.66 L586.94,73.32 L589.55,72.77 L592.17,69.26 L594.79,72.23 L597.41,68.33 L600.03,68.15 L602.65,66.96 L605.26,65.86 L607.88,61.89 L610.5,56.16 L613.12,66.3 L615.74,61.24 L618.35,61.05 L620.97,55.9 L623.59,55.81 L626.21,52.96 L628.83,65.52 L631.45,61.83 L634.06,62.94 L636.68,58.31 L639.3,57.29 L641.92,59.62 L644.54,72.38 L647.15,68.16 L649.77,69.81 L652.39,67.73 L655.01,78.09 L657.63,86.58 L660.25,94.96 L662.86,88 L665.48,83.82 L668.1,81.88 L670.72,80.5 L673.34,78.57 L675.95,78.44 M547.66,72.54 L550.28,78.4 L552.9,80.62 L555.52,79.3 L558.14,76.42 L560.75,76.77 L563.37,74.3 L565.99,75.14 L568.61,91.34 L571.23,89.72 L573.85,89.22 L576.46,89.26 L579.08,91.72 L581.7,90.74 L584.32,96.16 L586.94,98.13 L589.55,93.55 L592.17,89.42 L594.79,91.44 L597.41,85.87 L600.03,82.57 L602.65,82.65 L605.26,78.74 L607.88,80.72 L610.5,82.78 L613.12,74.41 L615.74,72.4 L618.35,78.76 L620.97,88.52 L623.59,91.96 L626.21,91.75 L628.83,90.9 L631.45,92.66 L634.06,88.78 L636.68,95.48 L639.3,97.51 L641.92,97.56 L644.54,95.43 L647.15,99.93 L649.77,98.67 L652.39,100.06 L655.01,95.86 L657.63,94.49 L660.25,97.67 L662.86,95.45 L665.48,97.51 L668.1,95.09 L670.72,90.04 L673.34,90.2 L675.95,87.1 M547.66,74.18 L550.28,78.6 L552.9,76.83 L555.52,75.12 L558.14,75.91 L560.75,75.41 L563.37,72.98 L565.99,72.32 L568.61,87.62 L571.23,87.34 L573.85,88.91 L576.46,88.64 L579.08,88.41 L581.7,88.12 L584.32,88.96 L586.94,87.52 L589.55,87.66 L592.17,85.33 L594.79,84.98 L597.41,86 L600.03,87.09 L602.65,85.89 L605.26,78.77 L607.88,79.31 L610.5,73.4 L613.12,67.43 L615.74,65.26 L618.35,73.05 L620.97,69.57 L623.59,70 L626.21,79.61 L628.83,76.53 L631.45,75.64 L634.06,72.4 L636.68,81.05 L639.3,79.02 L641.92,77.95 L644.54,76.17 L647.15,77.87 L649.77,77.68 L652.39,77.49 L655.01,92.78 L657.63,87.2 L660.25,85.49 L662.86,96.64 L665.48,93.94 L668.1,95.3 L670.72,93.13 L673.34,93.11 L675.95,96.63 M547.66,69.89 L550.28,75.37 L552.9,74.63 L555.52,70.78 L558.14,69.24 L560.75,70.3 L563.37,70.18 L565.99,67.2 L568.61,87.08 L571.23,85.68 L573.85,82.45 L576.46,83.13 L579.08,80.67 L581.7,80.87 L584.32,82.97 L586.94,82.63 L589.55,78.07 L592.17,76.69 L594.79,76.05 L597.41,72.24 L600.03,72.93 L602.65,73.05 L605.26,65.96 L607.88,67.34 L610.5,69.09 L613.12,67.74 L615.74,68.25 L618.35,81.06 L620.97,74.79 L623.59,74.07 L626.21,75.22 L628.83,74.5 L631.45,73.23 L634.06,73.57 L636.68,68.69 L639.3,63.38 L641.92,63.19 L644.54,60.07 L647.15,64.93 L649.77,68.2 L652.39,70.65 L655.01,78.16 L657.63,77.97 L660.25,73.63 L662.86,65.26 L665.48,66.87 L668.1,66.1 L670.72,64 L673.34,68.25 L675.95,70.76 M547.66,68.96 L550.28,75.27 L552.9,71.54 L555.52,71.76 L558.14,73.4 L560.75,74.12 L563.37,75.63 L565.99,75.96 L568.61,89.99 L571.23,89.35 L573.85,89.31 L576.46,86.88 L579.08,87.58 L581.7,86.43 L584.32,87.53 L586.94,85.63 L589.55,86.38 L592.17,82.68 L594.79,76.45 L597.41,76.59 L600.03,73.83 L602.65,77.2 L605.26,81.52 L607.88,75.35 L610.5,73.84 L613.12,67.46 L615.74,68.15 L618.35,66.71 L620.97,65.01 L623.59,63.24 L626.21,63.48 L628.83,69.47 L631.45,71.3 L634.06,71.3 L636.68,82.17 L639.3,80.77 L641.92,73.88 L644.54,72.12 L647.15,72.93 L649.77,74.56 L652.39,76.42 L655.01,89.9 L657.63,87.46 L660.25,87.54 L662.86,80.66 L665.48,80.19 L668.1,83.69 L670.72,83.74 L673.34,84.28 L675.95,99.31 M547.66,73 L550.28,77.68 L552.9,77.23 L555.52,78.18 L558.14,79.76 L560.75,78.95 L563.37,73.16 L565.99,71.87 L568.61,89.79 L571.23,88.6 L573.85,89.47 L576.46,86.33 L579.08,84.82 L581.7,82.73 L584.32,84.77 L586.94,85.82 L589.55,84.64 L592.17,86.28 L594.79,84.45 L597.41,79.65 L600.03,67.92 L602.65,66.9 L605.26,68.14 L607.88,70.45 L610.5,67.49 L613.12,70.57 L615.74,68.6 L618.35,65.12 L620.97,73.76 L623.59,71.1 L626.21,66.8 L628.83,66.15 L631.45,68.76 L634.06,72.63 L636.68,74.04 L639.3,69.74 L641.92,68.85 L644.54,70.64 L647.15,69.06 L649.77,68.79 L652.39,71.31 L655.01,76.67 L657.63,76.91 L660.25,70.56 L662.86,80.69 L665.48,79.82 L668.1,76.43 L670.72,74.69 L673.34,71.76 L675.95,76.11 M547.66,75.19 L550.28,79.91 L552.9,78.1 L555.52,75.15 L558.14,74.34 L560.75,75.64 L563.37,73.55 L565.99,73.85 L568.61,91.71 L571.23,92.76 L573.85,90.12 L576.46,90.98 L579.08,86.54 L581.7,85.19 L584.32,88.41 L586.94,87.34 L589.55,85.79 L592.17,82.3 L594.79,82.37 L597.41,81.62 L600.03,81.29 L602.65,74.47 L605.26,71.94 L607.88,73.52 L610.5,74.66 L613.12,87.41 L615.74,89.17 L618.35,83.07 L620.97,79.45 L623.59,87.47 L626.21,83.63 L628.83,81.37 L631.45,83.87 L634.06,94.4 L636.68,94.99 L639.3,92.92 L641.92,94.05 L644.54,96.01 L647.15,94.68 L649.77,92.22 L652.39,92.45 L655.01,98.37 L657.63,96 L660.25,94.19 L662.86,93.68 L665.48,92.38 L668.1,94.81 L670.72,92.29 L673.34,94.19 L675.95,92.89 M547.66,61.82 L550.28,66.21 L552.9,65.46 L555.52,63.31 L558.14,62.89 L560.75,61.6 L563.37,56.45 L565.99,58.69 L568.61,81.1 L571.23,81.01 L573.85,84.69 L576.46,84.14 L579.08,80.31 L581.7,77.09 L584.32,80.1 L586.94,76.69 L589.55,72.6 L592.17,72.34 L594.79,66.8 L597.41,60.84 L600.03,59.35 L602.65,61.31 L605.26,56.07 L607.88,54.58 L610.5,55.6 L613.12,61.56 L615.74,62.33 L618.35,57.52 L620.97,54.77 L623.59,49.24 L626.21,61.34 L628.83,65.79 L631.45,67.17 L634.06,63.4 L636.68,62.84 L639.3,67.07 L641.92,66.12 L644.54,66.85 L647.15,77.41 L649.77,77.17 L652.39,78.74 L655.01,76.43 L657.63,89.12 L660.25,83.94 L662.86,85.18 L665.48,86.54 L668.1,83.89 L670.72,83.18 L673.34,84.77 L675.95,87.55 M547.66,65.92 L550.28,74.68 L552.9,75.89 L555.52,70.43 L558.14,69.82 L560.75,69.97 L563.37,67.91 L565.99,68.87 L568.61,85.32 L571.23,84.7 L573.85,80.59 L576.46,79.15 L579.08,80.3 L581.7,76.91 L584.32,79.78 L586.94,79.42 L589.55,74.42 L592.17,73.71 L594.79,68.79 L597.41,67.12 L600.03,67.82 L602.65,64.17 L605.26,64.64 L607.88,57.44 L610.5,54.01 L613.12,60.17 L615.74,59.65 L618.35,66.14 L620.97,74.26 L623.59,74.09 L626.21,80.24 L628.83,79.93 L631.45,81.16 L634.06,80.35 L636.68,74.28 L639.3,74.99 L641.92,73.89 L644.54,69.45 L647.15,66.53 L649.77,69.04 L652.39,67.25 L655.01,63.7 L657.63,60.63 L660.25,65.92 L662.86,74.47 L665.48,70.63 L668.1,78.1 L670.72,75.94 L673.34,73.29 L675.95,74.96 M547.66,68.65 L550.28,74.31 L552.9,72.03 L555.52,73.59 L558.14,71.5 L560.75,70.36 L563.37,66.81 L565.99,68.56 L568.61,87.72 L571.23,87.81 L573.85,85.79 L576.46,83.56 L579.08,80.44 L581.7,76.02 L584.32,76.61 L586.94,78.59 L589.55,79.29 L592.17,73.94 L594.79,73.38 L597.41,68.2 L600.03,63.45 L602.65,64.66 L605.26,65.14 L607.88,62.41 L610.5,64.79 L613.12,65.09 L615.74,67.48 L618.35,71.65 L620.97,69.74 L623.59,69.62 L626.21,72.61 L628.83,74.81 L631.45,74.03 L634.06,75.43 L636.68,85.77 L639.3,81.72 L641.92,92.08 L644.54,87.48 L647.15,88.72 L649.77,91.97 L652.39,93.42 L655.01,94.61 L657.63,94.78 L660.25,92.11 L662.86,88.69 L665.48,83.99 L668.1,79.63 L670.72,72.15 L673.34,85.85 L675.95,87.11" stroke="#ff5a48" stroke-opacity="0.55" stroke-width="0.55"/>
<path d="M547.66,71.8 L550.28,77.36 L555.52,74.48 L560.75,74.27 L565.73,69.12 L567.82,88.69 L571.23,88.69 L575.94,86.84 L581.18,82.51 L585.37,86.63 L594.79,80.45 L602.65,75.71 L609.19,70.77 L613.12,70.15 L616.52,73.45 L623.59,74.68 L634.06,77.36 L644.54,78.8 L651.08,82.51 L657.63,83.95 L665.48,81.48 L670.72,80.45 L675.95,83.95" stroke="#ff1f1f" stroke-width="1.15" stroke-dasharray="4.5 3.3"/>
<path d="M545,78 L550,81.1 L552.8,83.1 L557.8,76.7 L563.3,87.2 L566.7,83.9 L571.1,91.7 L576.1,98.9 L578.9,85.6 L582.8,88.3 L586.7,73.3 L594.4,85 L597.8,76.1 L602.8,54.4 L605,56.1" stroke="#739446" stroke-width="0.95"/>
</g>
<path d="M538.5,29.2 V131.5 H682.5" fill="none" stroke="#666" stroke-width="0.8"/>
<line x1="535.1" y1="126.8" x2="538.5" y2="126.8" stroke="#666" stroke-width="0.8"/>
<text x="531.3" y="129.2" font-size="7.8" fill="#2a2a2a" stroke="#2a2a2a" stroke-width="0.12" text-anchor="end">0</text>
<line x1="535.1" y1="106.2" x2="538.5" y2="106.2" stroke="#666" stroke-width="0.8"/>
<text x="531.3" y="108.6" font-size="7.8" fill="#2a2a2a" stroke="#2a2a2a" stroke-width="0.12" text-anchor="end">10</text>
<line x1="535.1" y1="85.6" x2="538.5" y2="85.6" stroke="#666" stroke-width="0.8"/>
<text x="531.3" y="88" font-size="7.8" fill="#2a2a2a" stroke="#2a2a2a" stroke-width="0.12" text-anchor="end">20</text>
<line x1="535.1" y1="65" x2="538.5" y2="65" stroke="#666" stroke-width="0.8"/>
<text x="531.3" y="67.4" font-size="7.8" fill="#2a2a2a" stroke="#2a2a2a" stroke-width="0.12" text-anchor="end">30</text>
<line x1="535.1" y1="44.4" x2="538.5" y2="44.4" stroke="#666" stroke-width="0.8"/>
<text x="531.3" y="46.8" font-size="7.8" fill="#2a2a2a" stroke="#2a2a2a" stroke-width="0.12" text-anchor="end">40</text>
<line x1="555.52" y1="131.5" x2="555.52" y2="134.9" stroke="#666" stroke-width="0.8"/>
<text x="555.52" y="144.4" font-size="7.8" fill="#2a2a2a" stroke="#2a2a2a" stroke-width="0.12" text-anchor="middle">2004</text>
<line x1="584.32" y1="131.5" x2="584.32" y2="134.9" stroke="#666" stroke-width="0.8"/>
<text x="584.32" y="144.4" font-size="7.8" fill="#2a2a2a" stroke="#2a2a2a" stroke-width="0.12" text-anchor="middle">2015</text>
<line x1="613.12" y1="131.5" x2="613.12" y2="134.9" stroke="#666" stroke-width="0.8"/>
<text x="613.12" y="144.4" font-size="7.8" fill="#2a2a2a" stroke="#2a2a2a" stroke-width="0.12" text-anchor="middle">2026</text>
<line x1="644.54" y1="131.5" x2="644.54" y2="134.9" stroke="#666" stroke-width="0.8"/>
<text x="644.54" y="144.4" font-size="7.8" fill="#2a2a2a" stroke="#2a2a2a" stroke-width="0.12" text-anchor="middle">2038</text>
<line x1="675.95" y1="131.5" x2="675.95" y2="134.9" stroke="#666" stroke-width="0.8"/>
<text x="675.95" y="144.4" font-size="7.8" fill="#2a2a2a" stroke="#2a2a2a" stroke-width="0.12" text-anchor="middle">2050</text>
<path d="M548.2,48.7 L550.6,47.9 L552.6,49.5 M556.8,50.5 L559.5,49.5 L561.6,48.5" fill="none" stroke="#999" stroke-width="0.6"/><path d="M555.38,38.13 a0.6,0.6 0 1,0 1.2,0 a0.6,0.6 0 1,0 -1.2,0Z M554.13,36.54 a0.6,0.6 0 1,0 1.2,0 a0.6,0.6 0 1,0 -1.2,0Z M555.55,38.81 a0.6,0.6 0 1,0 1.2,0 a0.6,0.6 0 1,0 -1.2,0Z M555.05,37.2 a0.6,0.6 0 1,0 1.2,0 a0.6,0.6 0 1,0 -1.2,0Z M555.89,36.15 a0.6,0.6 0 1,0 1.2,0 a0.6,0.6 0 1,0 -1.2,0Z M553.43,38.16 a0.6,0.6 0 1,0 1.2,0 a0.6,0.6 0 1,0 -1.2,0Z M553.85,35.64 a0.6,0.6 0 1,0 1.2,0 a0.6,0.6 0 1,0 -1.2,0Z M555.55,38.56 a0.6,0.6 0 1,0 1.2,0 a0.6,0.6 0 1,0 -1.2,0Z M553.71,35.17 a0.6,0.6 0 1,0 1.2,0 a0.6,0.6 0 1,0 -1.2,0Z M555,35.04 a0.6,0.6 0 1,0 1.2,0 a0.6,0.6 0 1,0 -1.2,0Z M555.6,36.71 L557.58,36.4 M555.17,37.55 L555.73,40.04 M554.43,36.54 L552.55,35.68 M554.4,36.88 L552.41,37.15 M554.64,37.42 L553.43,39.49 M554.5,36.38 L552.82,34.96 M548.81,41.98 a0.6,0.6 0 1,0 1.2,0 a0.6,0.6 0 1,0 -1.2,0Z M549.23,38.5 a0.6,0.6 0 1,0 1.2,0 a0.6,0.6 0 1,0 -1.2,0Z M547.26,39.62 a0.6,0.6 0 1,0 1.2,0 a0.6,0.6 0 1,0 -1.2,0Z M550.73,40.72 a0.6,0.6 0 1,0 1.2,0 a0.6,0.6 0 1,0 -1.2,0Z M547.7,39.79 a0.6,0.6 0 1,0 1.2,0 a0.6,0.6 0 1,0 -1.2,0Z M548.06,38.1 a0.6,0.6 0 1,0 1.2,0 a0.6,0.6 0 1,0 -1.2,0Z M549.59,38.49 a0.6,0.6 0 1,0 1.2,0 a0.6,0.6 0 1,0 -1.2,0Z M549.74,39.58 a0.6,0.6 0 1,0 1.2,0 a0.6,0.6 0 1,0 -1.2,0Z M547.59,40.99 a0.6,0.6 0 1,0 1.2,0 a0.6,0.6 0 1,0 -1.2,0Z M550.4,37.91 a0.6,0.6 0 1,0 1.2,0 a0.6,0.6 0 1,0 -1.2,0Z M548.42,39.63 a0.6,0.6 0 1,0 1.2,0 a0.6,0.6 0 1,0 -1.2,0Z M549.99,41.83 a0.6,0.6 0 1,0 1.2,0 a0.6,0.6 0 1,0 -1.2,0Z M546.51,39.92 a0.6,0.6 0 1,0 1.2,0 a0.6,0.6 0 1,0 -1.2,0Z M549.93,39.6 L552.38,40.61 M549.96,39.49 L552.5,40.13 M549.64,38.56 L551.12,36.09 M548.54,38.83 L546.32,37.25 M548.92,40.14 L547.98,42.94 M548.88,40.12 L547.81,42.86 M559.95,40.53 a0.6,0.6 0 1,0 1.2,0 a0.6,0.6 0 1,0 -1.2,0Z M561.44,40.27 a0.6,0.6 0 1,0 1.2,0 a0.6,0.6 0 1,0 -1.2,0Z M558.06,40.05 a0.6,0.6 0 1,0 1.2,0 a0.6,0.6 0 1,0 -1.2,0Z M558.92,38.34 a0.6,0.6 0 1,0 1.2,0 a0.6,0.6 0 1,0 -1.2,0Z M560.93,40.77 a0.6,0.6 0 1,0 1.2,0 a0.6,0.6 0 1,0 -1.2,0Z M559.35,39.47 a0.6,0.6 0 1,0 1.2,0 a0.6,0.6 0 1,0 -1.2,0Z M559.4,38.45 a0.6,0.6 0 1,0 1.2,0 a0.6,0.6 0 1,0 -1.2,0Z M559.3,40.04 a0.6,0.6 0 1,0 1.2,0 a0.6,0.6 0 1,0 -1.2,0Z M558.39,42.51 a0.6,0.6 0 1,0 1.2,0 a0.6,0.6 0 1,0 -1.2,0Z M556.51,39.93 a0.6,0.6 0 1,0 1.2,0 a0.6,0.6 0 1,0 -1.2,0Z M559.31,41.61 a0.6,0.6 0 1,0 1.2,0 a0.6,0.6 0 1,0 -1.2,0Z M558.86,43.06 a0.6,0.6 0 1,0 1.2,0 a0.6,0.6 0 1,0 -1.2,0Z M560.47,39.1 a0.6,0.6 0 1,0 1.2,0 a0.6,0.6 0 1,0 -1.2,0Z M557.61,40.52 a0.6,0.6 0 1,0 1.2,0 a0.6,0.6 0 1,0 -1.2,0Z M558.99,39.14 a0.6,0.6 0 1,0 1.2,0 a0.6,0.6 0 1,0 -1.2,0Z M560.34,40.21 L562.8,41.56 M558.93,40.36 L556.71,42.23 M559.62,40.79 L559.71,44.09 M560.06,38.98 L561.58,36.26 M559.56,38.81 L559.42,35.52 M558.82,39.52 L556.23,38.58 M544.39,43.15 a0.6,0.6 0 1,0 1.2,0 a0.6,0.6 0 1,0 -1.2,0Z M546.4,42.46 a0.6,0.6 0 1,0 1.2,0 a0.6,0.6 0 1,0 -1.2,0Z M547.29,47.05 a0.6,0.6 0 1,0 1.2,0 a0.6,0.6 0 1,0 -1.2,0Z M547.12,46.72 a0.6,0.6 0 1,0 1.2,0 a0.6,0.6 0 1,0 -1.2,0Z M546.48,42.53 a0.6,0.6 0 1,0 1.2,0 a0.6,0.6 0 1,0 -1.2,0Z M545.83,44.66 a0.6,0.6 0 1,0 1.2,0 a0.6,0.6 0 1,0 -1.2,0Z M544.98,46.11 a0.6,0.6 0 1,0 1.2,0 a0.6,0.6 0 1,0 -1.2,0Z M547.01,45.19 a0.6,0.6 0 1,0 1.2,0 a0.6,0.6 0 1,0 -1.2,0Z M545.87,46.93 a0.6,0.6 0 1,0 1.2,0 a0.6,0.6 0 1,0 -1.2,0Z M548.57,46.21 a0.6,0.6 0 1,0 1.2,0 a0.6,0.6 0 1,0 -1.2,0Z M544.96,44.32 a0.6,0.6 0 1,0 1.2,0 a0.6,0.6 0 1,0 -1.2,0Z M544.9,45.21 a0.6,0.6 0 1,0 1.2,0 a0.6,0.6 0 1,0 -1.2,0Z M544.62,44.3 a0.6,0.6 0 1,0 1.2,0 a0.6,0.6 0 1,0 -1.2,0Z M546.85,45.44 a0.6,0.6 0 1,0 1.2,0 a0.6,0.6 0 1,0 -1.2,0Z M543.4,44.41 a0.6,0.6 0 1,0 1.2,0 a0.6,0.6 0 1,0 -1.2,0Z M545.97,45.98 L544.52,48.56 M545.8,44.52 L543.82,42.24 M545.83,45.9 L543.91,48.22 M547.05,45.84 L549.24,47.96 M546.02,46 L544.74,48.66 M545.64,45.73 L543.11,47.51 M560.8,46.39 a0.6,0.6 0 1,0 1.2,0 a0.6,0.6 0 1,0 -1.2,0Z M561.64,47.69 a0.6,0.6 0 1,0 1.2,0 a0.6,0.6 0 1,0 -1.2,0Z M562.33,46.3 a0.6,0.6 0 1,0 1.2,0 a0.6,0.6 0 1,0 -1.2,0Z M559.91,46.23 a0.6,0.6 0 1,0 1.2,0 a0.6,0.6 0 1,0 -1.2,0Z M560.79,45.02 a0.6,0.6 0 1,0 1.2,0 a0.6,0.6 0 1,0 -1.2,0Z M561.11,48.03 a0.6,0.6 0 1,0 1.2,0 a0.6,0.6 0 1,0 -1.2,0Z M562.15,47.43 a0.6,0.6 0 1,0 1.2,0 a0.6,0.6 0 1,0 -1.2,0Z M559.68,44.78 a0.6,0.6 0 1,0 1.2,0 a0.6,0.6 0 1,0 -1.2,0Z M560.18,45.61 a0.6,0.6 0 1,0 1.2,0 a0.6,0.6 0 1,0 -1.2,0Z M560.4,45.69 a0.6,0.6 0 1,0 1.2,0 a0.6,0.6 0 1,0 -1.2,0Z M561.17,47.33 L562.72,49.08 M560.14,47.24 L558.29,48.7 M559.98,46.81 L557.58,46.84 M560.54,47.47 L560,49.71 M560.13,46.37 L558.24,44.96 M560.12,46.39 L558.21,45 M553.5,42.91 a0.6,0.6 0 1,0 1.2,0 a0.6,0.6 0 1,0 -1.2,0Z M552.38,42.64 a0.6,0.6 0 1,0 1.2,0 a0.6,0.6 0 1,0 -1.2,0Z M552.97,43.09 a0.6,0.6 0 1,0 1.2,0 a0.6,0.6 0 1,0 -1.2,0Z M552.18,41.97 a0.6,0.6 0 1,0 1.2,0 a0.6,0.6 0 1,0 -1.2,0Z M552.77,39.63 a0.6,0.6 0 1,0 1.2,0 a0.6,0.6 0 1,0 -1.2,0Z M553.31,43.37 a0.6,0.6 0 1,0 1.2,0 a0.6,0.6 0 1,0 -1.2,0Z M554.29,41.84 a0.6,0.6 0 1,0 1.2,0 a0.6,0.6 0 1,0 -1.2,0Z M553.09,40.98 a0.6,0.6 0 1,0 1.2,0 a0.6,0.6 0 1,0 -1.2,0Z M554.36,42.8 a0.6,0.6 0 1,0 1.2,0 a0.6,0.6 0 1,0 -1.2,0Z M554.12,40.43 L554.52,38.18 M553.63,40.58 L552.39,38.83 M554.46,40.7 L556.01,39.37 M554.02,40.41 L554.09,38.11 M553.83,41.76 L553.25,43.95 M553.65,40.56 L552.48,38.74 M550.44,38.42 a0.6,0.6 0 1,0 1.2,0 a0.6,0.6 0 1,0 -1.2,0Z M550.65,37.76 a0.6,0.6 0 1,0 1.2,0 a0.6,0.6 0 1,0 -1.2,0Z M551.71,36.59 a0.6,0.6 0 1,0 1.2,0 a0.6,0.6 0 1,0 -1.2,0Z M550.97,36.35 a0.6,0.6 0 1,0 1.2,0 a0.6,0.6 0 1,0 -1.2,0Z M551.17,36.48 a0.6,0.6 0 1,0 1.2,0 a0.6,0.6 0 1,0 -1.2,0Z M550.73,37.26 a0.6,0.6 0 1,0 1.2,0 a0.6,0.6 0 1,0 -1.2,0Z M551.26,37.26 L550.13,36.78 M551.74,37.01 L552.22,35.73 M551.5,37 L551.17,35.65 M551.72,37 L552.11,35.68 M551.24,37.41 L550.04,37.44 M551.86,37.12 L552.75,36.17" fill="#141414" stroke="#141414" stroke-width="0.5" stroke-linecap="round"/><path d="M552.7,55.5 L552.9,51.9 L553.1,49.2 M553.1,49.2 L550.6,47.2 L548,45.9 M553.1,49.2 L556.8,47.5 L560,46.7 M553.1,49.2 L552.6,44.4 L551,39.9 M553.1,49.2 L555.6,43.1 L559,40.2 M553.3,45.9 L554.6,40.9 L555,37.4 M548,45.9 L545.2,43.1 M551,39.9 L548.8,37.1 M559,40.2 L561.2,37.5" fill="none" stroke="#141414" stroke-width="1.0" stroke-linecap="round" stroke-linejoin="round"/><circle cx="551.6" cy="44.5" r="1.15" fill="#fff"/><circle cx="556.4" cy="43.9" r="0.8" fill="#fff"/><circle cx="548.3" cy="44.9" r="0.55" fill="#fff"/><circle cx="549.8" cy="40.3" r="0.5" fill="#fff"/><circle cx="559.9" cy="41.2" r="0.55" fill="#fff"/><circle cx="545.2" cy="46.3" r="0.5" fill="#fff"/><circle cx="555.6" cy="37.3" r="0.45" fill="#fff"/><circle cx="561.3" cy="47.5" r="0.5" fill="#fff"/><circle cx="558.3" cy="38.5" r="0.45" fill="#fff"/><circle cx="547.4" cy="38.8" r="0.45" fill="#fff"/><circle cx="544.4" cy="44.2" r="0.4" fill="#fff"/><circle cx="562" cy="39.9" r="0.4" fill="#fff"/><circle cx="553.6" cy="35.9" r="0.4" fill="#fff"/><circle cx="550" cy="42.2" r="0.6" fill="#fff"/><circle cx="557.5" cy="41.9" r="0.5" fill="#fff"/><circle cx="559.5" cy="45.9" r="0.4" fill="#fff"/><circle cx="546.7" cy="47.5" r="0.45" fill="#fff"/>
<line x1="31.06" y1="187.3" x2="31.06" y2="289.4" stroke="#bbb" stroke-width="1.1" stroke-dasharray="2.8 2.4"/>
<line x1="89.84" y1="187.3" x2="89.84" y2="289.4" stroke="#bbb" stroke-width="1.1" stroke-dasharray="2.8 2.4"/>
<clipPath id="cp10"><rect x="16.5" y="187.3" width="144" height="102.1"/></clipPath>
<g clip-path="url(#cp10)" fill="none" stroke-linejoin="round" stroke-linecap="round">
<path d="M23.05,245.13 L25.72,247.75 L28.39,250.03 L31.06,248.39 L33.73,246 L36.4,239.55 L39.08,234.65 L41.75,230.78 L44.42,229.22 L47.09,226.87 L49.76,224.38 L52.43,222.96 L55.1,221.99 L57.78,224.46 L60.45,223.63 L63.12,225.09 L65.79,226.99 L68.46,227.31 L71.13,225.89 L73.81,223.81 L76.48,224.9 L79.15,222.83 L81.82,219.8 L84.49,220.66 L87.16,221.9 L89.84,222.73 L92.51,229.31 L95.18,237.07 L97.85,243.86 L100.52,248.17 L103.19,255.79 L105.87,259.43 L108.54,260.94 L111.21,264.63 L113.88,266.13 L116.55,267.19 L119.22,268.58 L121.9,271.3 L124.57,276.3 L127.24,277.84 L129.91,279.23 L132.58,278.46 L135.25,276.9 L137.92,277.22 L140.6,279.76 L143.27,281.42 L145.94,282.12 L148.61,280.98 L151.28,281.3 L153.95,281.84 M23.05,237.54 L25.72,239.98 L28.39,241.41 L31.06,239.77 L33.73,232.65 L36.4,230.11 L39.08,224.17 L41.75,219.98 L44.42,219.7 L47.09,218.33 L49.76,219.26 L52.43,221.79 L55.1,223.05 L57.78,225.17 L60.45,223.87 L63.12,223.99 L65.79,222.44 L68.46,220.34 L71.13,225.53 L73.81,224.27 L76.48,225.45 L79.15,225.23 L81.82,225.48 L84.49,224.71 L87.16,223.1 L89.84,225.12 L92.51,233.07 L95.18,239.69 L97.85,246.73 L100.52,250.63 L103.19,254.73 L105.87,259.32 L108.54,263.84 L111.21,260.57 L113.88,265.08 L116.55,271.27 L119.22,275.7 L121.9,277.85 L124.57,279.56 L127.24,280.14 L129.91,282.06 L132.58,282.08 L135.25,282.97 L137.92,283.73 L140.6,284.41 L143.27,284.37 L145.94,283.69 L148.61,283.41 L151.28,283.73 L153.95,283.73 M23.05,235.57 L25.72,240.48 L28.39,241.14 L31.06,238.6 L33.73,237.37 L36.4,233.97 L39.08,231.05 L41.75,229.94 L44.42,227.93 L47.09,225.76 L49.76,223.77 L52.43,224.91 L55.1,225.29 L57.78,221.1 L60.45,223.72 L63.12,223.8 L65.79,221.97 L68.46,221.58 L71.13,220.07 L73.81,219.64 L76.48,218.36 L79.15,216.82 L81.82,217.79 L84.49,217.82 L87.16,218.64 L89.84,220.54 L92.51,229.39 L95.18,238.52 L97.85,242.2 L100.52,242.36 L103.19,241.26 L105.87,241.83 L108.54,250.7 L111.21,251.07 L113.88,258.21 L116.55,262.1 L119.22,260.6 L121.9,268.54 L124.57,269.69 L127.24,271.76 L129.91,274.72 L132.58,278.74 L135.25,279.36 L137.92,280.72 L140.6,280.05 L143.27,279.1 L145.94,281.76 L148.61,282.61 L151.28,283.14 L153.95,283.89 M23.05,237.45 L25.72,240.55 L28.39,244.86 L31.06,243.8 L33.73,238.26 L36.4,236.62 L39.08,234.18 L41.75,228.72 L44.42,224.62 L47.09,227.37 L49.76,228.97 L52.43,228.15 L55.1,229.41 L57.78,229.18 L60.45,228.76 L63.12,227.71 L65.79,229.22 L68.46,230.05 L71.13,229.68 L73.81,227.14 L76.48,226.24 L79.15,227.59 L81.82,226.07 L84.49,224.48 L87.16,224.28 L89.84,224.66 L92.51,232.21 L95.18,236.42 L97.85,240.31 L100.52,242.62 L103.19,246.04 L105.87,250.82 L108.54,257.4 L111.21,260.19 L113.88,263.78 L116.55,266.53 L119.22,266.31 L121.9,267.43 L124.57,267.75 L127.24,273.84 L129.91,274.06 L132.58,276.91 L135.25,279.45 L137.92,280.84 L140.6,279.38 L143.27,278.6 L145.94,280.1 L148.61,281.77 L151.28,281.96 L153.95,282.5 M23.05,246.52 L25.72,250.63 L28.39,251.2 L31.06,248.83 L33.73,244.17 L36.4,239.43 L39.08,233.94 L41.75,231.68 L44.42,230.94 L47.09,232.03 L49.76,231.17 L52.43,230.09 L55.1,230.34 L57.78,228.87 L60.45,228.27 L63.12,225.55 L65.79,224.46 L68.46,226 L71.13,225.73 L73.81,226.34 L76.48,227.32 L79.15,226.9 L81.82,225.35 L84.49,222.82 L87.16,222.91 L89.84,223.59 L92.51,233.05 L95.18,238.63 L97.85,243.02 L100.52,248.55 L103.19,251.6 L105.87,253.79 L108.54,261.79 L111.21,264.57 L113.88,267.29 L116.55,270.35 L119.22,274.19 L121.9,272.64 L124.57,270.86 L127.24,268.71 L129.91,274.24 L132.58,277.72 L135.25,277.52 L137.92,280.28 L140.6,281.84 L143.27,283.26 L145.94,282.22 L148.61,281.46 L151.28,281.52 L153.95,281.72 M23.05,242.33 L25.72,243.43 L28.39,245.73 L31.06,241.17 L33.73,238.23 L36.4,236.38 L39.08,230.46 L41.75,228.27 L44.42,225.98 L47.09,226.42 L49.76,229.56 L52.43,228.8 L55.1,230.11 L57.78,228.61 L60.45,229.45 L63.12,230.83 L65.79,229.36 L68.46,227.72 L71.13,226.39 L73.81,226.48 L76.48,224.74 L79.15,226.12 L81.82,225.8 L84.49,225.82 L87.16,225.72 L89.84,224.92 L92.51,233.65 L95.18,239.49 L97.85,243.35 L100.52,250.27 L103.19,256.19 L105.87,260.38 L108.54,264.46 L111.21,267.46 L113.88,273.17 L116.55,273.49 L119.22,274.75 L121.9,276.67 L124.57,279.87 L127.24,280.2 L129.91,281.47 L132.58,281.51 L135.25,282.1 L137.92,281.28 L140.6,282.08 L143.27,280.6 L145.94,282.96 L148.61,283.61 L151.28,283.43 L153.95,284.19 M23.05,245.54 L25.72,247.7 L28.39,249.23 L31.06,247.5 L33.73,242.9 L36.4,239.14 L39.08,236.12 L41.75,231.09 L44.42,229.82 L47.09,230.2 L49.76,228.81 L52.43,227.44 L55.1,225.27 L57.78,221.94 L60.45,223.91 L63.12,222.06 L65.79,219.68 L68.46,219.56 L71.13,218.81 L73.81,224.32 L76.48,224.34 L79.15,221.6 L81.82,224.12 L84.49,224.16 L87.16,223.7 L89.84,223.48 L92.51,228.74 L95.18,238.75 L97.85,243.52 L100.52,246.33 L103.19,253.21 L105.87,257.15 L108.54,255.69 L111.21,255.81 L113.88,257.76 L116.55,269.44 L119.22,272.87 L121.9,274.43 L124.57,276.76 L127.24,277.91 L129.91,272.7 L132.58,275.51 L135.25,279.04 L137.92,279.11 L140.6,280.54 L143.27,281.39 L145.94,281.91 L148.61,281.38 L151.28,281.64 L153.95,283.03 M23.05,240.28 L25.72,244.09 L28.39,242.66 L31.06,239.58 L33.73,238.03 L36.4,234.02 L39.08,227.14 L41.75,222.08 L44.42,221.87 L47.09,220.32 L49.76,222.21 L52.43,225.73 L55.1,225.04 L57.78,224.75 L60.45,223.55 L63.12,223.86 L65.79,222.87 L68.46,223.42 L71.13,221.81 L73.81,219.65 L76.48,219.69 L79.15,218.66 L81.82,222.21 L84.49,223.19 L87.16,220.52 L89.84,217.74 L92.51,225.99 L95.18,233.14 L97.85,240.9 L100.52,244.37 L103.19,245.88 L105.87,255.18 L108.54,257.05 L111.21,259.83 L113.88,261.69 L116.55,268.43 L119.22,269.98 L121.9,275.78 L124.57,274.51 L127.24,275.68 L129.91,279.29 L132.58,278.2 L135.25,277.38 L137.92,279.19 L140.6,276.91 L143.27,279.32 L145.94,279.71 L148.61,279.09 L151.28,282.33 L153.95,281.6 M23.05,243.06 L25.72,246.76 L28.39,247.13 L31.06,246.36 L33.73,243.1 L36.4,239.7 L39.08,237.52 L41.75,232.97 L44.42,232.88 L47.09,232.78 L49.76,232.39 L52.43,232.03 L55.1,231.05 L57.78,229.87 L60.45,229.5 L63.12,229.57 L65.79,228.65 L68.46,226.84 L71.13,225.17 L73.81,224.85 L76.48,226.31 L79.15,224.15 L81.82,222.26 L84.49,221.55 L87.16,221.06 L89.84,222.78 L92.51,232.41 L95.18,239.42 L97.85,244.56 L100.52,250.24 L103.19,256.88 L105.87,261.17 L108.54,263.44 L111.21,268.17 L113.88,270.74 L116.55,276.33 L119.22,279.05 L121.9,280.38 L124.57,282.85 L127.24,284.92 L129.91,284.45 L132.58,285.1 L135.25,284.91 L137.92,284.61 L140.6,284.13 L143.27,284.17 L145.94,285.02 L148.61,284.88 L151.28,284.99 L153.95,284.52 M23.05,243.34 L25.72,244.84 L28.39,243.28 L31.06,240.14 L33.73,234.36 L36.4,230.44 L39.08,226.38 L41.75,222.74 L44.42,221.52 L47.09,221.65 L49.76,221.76 L52.43,217.68 L55.1,218.86 L57.78,220.14 L60.45,221.11 L63.12,221.66 L65.79,221.04 L68.46,222.96 L71.13,225.62 L73.81,224.39 L76.48,225.4 L79.15,225.11 L81.82,224.4 L84.49,222.57 L87.16,219.27 L89.84,219.31 L92.51,229.03 L95.18,238.24 L97.85,243.98 L100.52,248.59 L103.19,256.07 L105.87,259.64 L108.54,262.96 L111.21,265.7 L113.88,269.01 L116.55,270.96 L119.22,275.16 L121.9,277.59 L124.57,281.27 L127.24,281.3 L129.91,280.16 L132.58,280.94 L135.25,281.32 L137.92,282.11 L140.6,281.37 L143.27,282.21 L145.94,281.84 L148.61,282.05 L151.28,283.06 L153.95,282.49 M23.05,239.42 L25.72,241.16 L28.39,242.26 L31.06,241.38 L33.73,236.43 L36.4,233.85 L39.08,230.65 L41.75,229.48 L44.42,230.29 L47.09,230.21 L49.76,230.11 L52.43,229.82 L55.1,228.44 L57.78,229.91 L60.45,228.96 L63.12,230.72 L65.79,230.58 L68.46,229.73 L71.13,230.5 L73.81,230.8 L76.48,229.34 L79.15,228.74 L81.82,227.82 L84.49,227.64 L87.16,224.89 L89.84,225.15 L92.51,234.08 L95.18,238.72 L97.85,242.33 L100.52,247.63 L103.19,247.58 L105.87,250.83 L108.54,252.47 L111.21,256.21 L113.88,263.08 L116.55,262.14 L119.22,265.4 L121.9,271.58 L124.57,275.83 L127.24,274.48 L129.91,276.89 L132.58,278.16 L135.25,278.04 L137.92,278.3 L140.6,281.48 L143.27,280.74 L145.94,279.98 L148.61,279.55 L151.28,278.57 L153.95,278.93 M23.05,235.95 L25.72,239.95 L28.39,237.86 L31.06,233.41 L33.73,229 L36.4,222.95 L39.08,219.63 L41.75,220.37 L44.42,218.05 L47.09,218.13 L49.76,218.19 L52.43,219.05 L55.1,217.55 L57.78,217.53 L60.45,219.55 L63.12,219.36 L65.79,218.13 L68.46,219.67 L71.13,220.32 L73.81,220.78 L76.48,221.88 L79.15,221.64 L81.82,219.55 L84.49,215.93 L87.16,214.33 L89.84,213.71 L92.51,220.59 L95.18,225.07 L97.85,230.7 L100.52,232.7 L103.19,235.51 L105.87,240.87 L108.54,247.81 L111.21,255.09 L113.88,260.02 L116.55,267.47 L119.22,269.37 L121.9,272.35 L124.57,274.52 L127.24,275.31 L129.91,275.5 L132.58,278.63 L135.25,280.07 L137.92,281.96 L140.6,284.05 L143.27,285.1 L145.94,283.99 L148.61,285 L151.28,284.68 L153.95,283.86 M23.05,231.94 L25.72,231.52 L28.39,231.6 L31.06,226.13 L33.73,222.45 L36.4,221.96 L39.08,219.04 L41.75,218.59 L44.42,220.98 L47.09,223.59 L49.76,218.94 L52.43,220.74 L55.1,221.43 L57.78,223.04 L60.45,222.48 L63.12,223.05 L65.79,223.31 L68.46,224.91 L71.13,225.81 L73.81,225.46 L76.48,224.37 L79.15,220.79 L81.82,218.33 L84.49,214.59 L87.16,214.14 L89.84,215.32 L92.51,226.62 L95.18,233.21 L97.85,242.72 L100.52,247.69 L103.19,246.16 L105.87,248.76 L108.54,248.82 L111.21,254.9 L113.88,262.94 L116.55,266.83 L119.22,271.19 L121.9,269.51 L124.57,266.62 L127.24,271.06 L129.91,273.98 L132.58,276.09 L135.25,278.1 L137.92,280.49 L140.6,280.83 L143.27,280.51 L145.94,280.41 L148.61,282.18 L151.28,282.5 L153.95,283.58 M23.05,244.12 L25.72,246.7 L28.39,247.74 L31.06,246.2 L33.73,242.9 L36.4,240.71 L39.08,235.27 L41.75,232.13 L44.42,230.38 L47.09,226.21 L49.76,226.14 L52.43,225.09 L55.1,225.31 L57.78,222.94 L60.45,221.74 L63.12,221.36 L65.79,221.55 L68.46,220.48 L71.13,217.61 L73.81,221.35 L76.48,221.15 L79.15,222.18 L81.82,222.29 L84.49,224.29 L87.16,223.26 L89.84,224.36 L92.51,232.72 L95.18,239.73 L97.85,246.42 L100.52,251.74 L103.19,258.79 L105.87,263.8 L108.54,267.06 L111.21,270.32 L113.88,272.35 L116.55,274.21 L119.22,273.07 L121.9,274.32 L124.57,277.78 L127.24,279.26 L129.91,280.83 L132.58,281.73 L135.25,282.74 L137.92,283.07 L140.6,282.01 L143.27,282.06 L145.94,282.48 L148.61,282.79 L151.28,283.11 L153.95,282.1 M23.05,234.38 L25.72,244.05 L28.39,244.02 L31.06,239.88 L33.73,231.91 L36.4,228.82 L39.08,229.66 L41.75,225.97 L44.42,226.13 L47.09,229.02 L49.76,229.12 L52.43,227.21 L55.1,224.77 L57.78,223.27 L60.45,224.98 L63.12,219.84 L65.79,221.88 L68.46,221.37 L71.13,223.41 L73.81,219.83 L76.48,218.56 L79.15,217.19 L81.82,216.93 L84.49,216.99 L87.16,216.87 L89.84,221.27 L92.51,227.43 L95.18,232.02 L97.85,237.29 L100.52,241.12 L103.19,243.56 L105.87,242 L108.54,245.06 L111.21,250.01 L113.88,255.54 L116.55,263.62 L119.22,269.01 L121.9,271.11 L124.57,273.91 L127.24,274.93 L129.91,274.66 L132.58,275.46 L135.25,276.44 L137.92,276.06 L140.6,277.06 L143.27,277.92 L145.94,278.16 L148.61,280.89 L151.28,280 L153.95,281.69 M23.05,238.07 L25.72,238.3 L28.39,239.3 L31.06,239.61 L33.73,233.33 L36.4,229.58 L39.08,226.45 L41.75,223.93 L44.42,220.91 L47.09,219.12 L49.76,218.84 L52.43,222.42 L55.1,223.46 L57.78,223.12 L60.45,219.08 L63.12,218.54 L65.79,218.41 L68.46,215.57 L71.13,215.41 L73.81,215.08 L76.48,214.67 L79.15,218.16 L81.82,215.94 L84.49,214.95 L87.16,215.75 L89.84,218.62 L92.51,226.36 L95.18,229.78 L97.85,235.38 L100.52,241.79 L103.19,243.57 L105.87,252.51 L108.54,261.3 L111.21,265.64 L113.88,269.15 L116.55,271.32 L119.22,274.76 L121.9,275.68 L124.57,277.29 L127.24,278.66 L129.91,279.95 L132.58,280.06 L135.25,278.87 L137.92,277.48 L140.6,277.34 L143.27,282.08 L145.94,282.81 L148.61,283.01 L151.28,282.99 L153.95,283.79 M23.05,238.51 L25.72,242.47 L28.39,242.92 L31.06,241.77 L33.73,239.18 L36.4,234.32 L39.08,232 L41.75,231.36 L44.42,230.53 L47.09,229.81 L49.76,230.27 L52.43,228.67 L55.1,229.67 L57.78,226.55 L60.45,224.09 L63.12,225.8 L65.79,224.66 L68.46,221.37 L71.13,220.94 L73.81,222.49 L76.48,221.57 L79.15,217.72 L81.82,220.48 L84.49,218.94 L87.16,218.92 L89.84,219.62 L92.51,228.66 L95.18,235.77 L97.85,237.64 L100.52,239.74 L103.19,246.29 L105.87,244.57 L108.54,253.24 L111.21,255.21 L113.88,257.8 L116.55,256.37 L119.22,259.5 L121.9,260.21 L124.57,264.48 L127.24,265.09 L129.91,267.46 L132.58,266.15 L135.25,270.64 L137.92,270.48 L140.6,272.08 L143.27,273.52 L145.94,275.79 L148.61,276.49 L151.28,279.14 L153.95,281.03 M23.05,245.01 L25.72,245.62 L28.39,246.52 L31.06,244.17 L33.73,239.76 L36.4,235 L39.08,232.24 L41.75,230.16 L44.42,228.9 L47.09,225.96 L49.76,223.32 L52.43,220.99 L55.1,220.8 L57.78,221.48 L60.45,224.58 L63.12,223.12 L65.79,220.85 L68.46,221.04 L71.13,218.67 L73.81,215.58 L76.48,215.39 L79.15,213.97 L81.82,213.58 L84.49,217.19 L87.16,218.28 L89.84,219.61 L92.51,226.8 L95.18,235.14 L97.85,240.53 L100.52,247.21 L103.19,250.88 L105.87,254.01 L108.54,253.97 L111.21,255.4 L113.88,258.03 L116.55,259.85 L119.22,263.35 L121.9,266.26 L124.57,265.08 L127.24,274.01 L129.91,275.92 L132.58,276.7 L135.25,275.88 L137.92,278.41 L140.6,278.73 L143.27,278.08 L145.94,279.39 L148.61,282.1 L151.28,282.67 L153.95,283.37 M23.05,244.01 L25.72,243.91 L28.39,244.36 L31.06,244.06 L33.73,240.41 L36.4,237.79 L39.08,234.01 L41.75,228.84 L44.42,228.02 L47.09,225.56 L49.76,227.22 L52.43,226.53 L55.1,222.08 L57.78,225.13 L60.45,222.26 L63.12,220.13 L65.79,223.62 L68.46,225.68 L71.13,225.76 L73.81,223.35 L76.48,223.53 L79.15,223.8 L81.82,221.79 L84.49,221.1 L87.16,220.56 L89.84,221.63 L92.51,227.61 L95.18,235.88 L97.85,236.39 L100.52,241.23 L103.19,247.4 L105.87,248.98 L108.54,251.46 L111.21,262.87 L113.88,264.8 L116.55,270.25 L119.22,274.53 L121.9,275.02 L124.57,277.83 L127.24,278.12 L129.91,279.59 L132.58,277.29 L135.25,278.69 L137.92,280.93 L140.6,282.28 L143.27,282.92 L145.94,282.9 L148.61,282.99 L151.28,282.63 L153.95,282.56 M23.05,243.26 L25.72,245.99 L28.39,246.54 L31.06,243.85 L33.73,238.42 L36.4,236.32 L39.08,235.11 L41.75,233.25 L44.42,231.57 L47.09,233.38 L49.76,233.14 L52.43,232.31 L55.1,232.68 L57.78,233.29 L60.45,230.6 L63.12,228.87 L65.79,228.36 L68.46,226.14 L71.13,222.97 L73.81,224.45 L76.48,219.11 L79.15,221.76 L81.82,222.25 L84.49,223.62 L87.16,223.5 L89.84,225.24 L92.51,233.52 L95.18,239.04 L97.85,243.73 L100.52,248.92 L103.19,249.79 L105.87,256.45 L108.54,257.9 L111.21,263.61 L113.88,266.29 L116.55,268.93 L119.22,272.16 L121.9,274.67 L124.57,277.74 L127.24,279.44 L129.91,280 L132.58,281.21 L135.25,283.02 L137.92,283.36 L140.6,284.12 L143.27,284.02 L145.94,283.91 L148.61,283.9 L151.28,284.37 L153.95,284.35" stroke="#8a8a8a" stroke-opacity="0.55" stroke-width="0.5"/>
<path d="M23.05,240.94 L24.38,242.58 L25.72,243.63 L27.05,244.19 L28.39,244.36 L29.72,243.74 L31.06,242.18 L32.4,240.11 L33.73,237.94 L35.07,236.12 L36.4,234.5 L37.74,232.76 L39.08,231.03 L40.41,229.48 L41.75,228.22 L43.08,227.42 L44.42,227.09 L45.75,226.87 L47.09,226.68 L48.43,226.53 L49.76,226.4 L51.1,226.3 L52.43,226.2 L53.77,226.09 L55.1,225.98 L56.44,225.85 L57.78,225.7 L59.11,225.52 L60.45,225.33 L61.78,225.13 L63.12,224.93 L64.46,224.71 L65.79,224.5 L67.13,224.29 L68.46,224.07 L69.8,223.86 L71.13,223.65 L72.47,223.45 L73.81,223.24 L75.14,223.03 L76.48,222.82 L77.81,222.61 L79.15,222.4 L80.49,222.18 L81.82,221.96 L83.16,221.74 L84.49,221.51 L85.83,221.27 L87.16,221.03 L88.5,220.74 L89.84,221.83 L91.17,225.43 L92.51,229.96 L93.84,233.79 L95.18,236.59 L96.51,239.2 L97.85,241.62 L99.19,243.89 L100.52,246 L101.86,247.95 L103.19,249.83 L104.53,251.69 L105.87,253.59 L107.2,255.48 L108.54,257.36 L109.87,259.21 L111.21,261 L112.54,262.79 L113.88,264.61 L115.22,266.39 L116.55,268.06 L117.89,269.55 L119.22,270.81 L120.56,271.95 L121.9,273.01 L123.23,273.99 L124.57,274.88 L125.9,275.68 L127.24,276.39 L128.57,277.04 L129.91,277.63 L131.25,278.17 L132.58,278.67 L133.92,279.11 L135.25,279.5 L136.59,279.85 L137.92,280.17 L139.26,280.46 L140.6,280.73 L141.93,280.97 L143.27,281.21 L144.6,281.44 L145.94,281.66 L147.28,281.88 L148.61,282.08 L149.95,282.27 L151.28,282.45 L152.62,282.62 L153.95,282.77" stroke="#1a1a1a" stroke-width="1.1"/>
<path d="M23.05,240.94 L24.38,242.71 L25.72,243.86 L27.05,244.48 L28.39,244.67 L29.72,244.03 L31.06,242.39 L32.4,240.23 L33.73,237.99 L35.07,236.12 L36.4,234.49 L37.74,232.77 L39.08,231.1 L40.41,229.62 L41.75,228.5 L43.08,227.88 L44.42,227.58 L45.75,227.34 L47.09,227.14 L48.43,226.97 L49.76,226.84 L51.1,226.71 L52.43,226.6 L53.77,226.48 L55.1,226.35 L56.44,226.2 L57.78,226.01 L59.11,225.79 L60.45,225.56 L61.78,225.3 L63.12,225.03 L64.46,224.75 L65.79,224.47 L67.13,224.19 L68.46,223.91 L69.8,223.63 L71.13,223.37 L72.47,223.13 L73.81,222.9 L75.14,222.7 L76.48,222.51 L77.81,222.33 L79.15,222.17 L80.49,222.01 L81.82,221.85 L83.16,221.68 L84.49,221.5 L85.83,221.31 L87.16,221.11 L88.5,220.88 L89.84,220.57 L91.17,220.17 L92.51,219.72 L93.84,219.29 L95.18,218.91 L96.51,218.65 L97.85,218.55 L99.19,218.57 L100.52,218.65 L101.86,218.75 L103.19,218.85 L104.53,218.95 L105.87,219.01 L107.2,219.06 L108.54,219.1 L109.87,219.15 L111.21,219.19 L112.54,219.23 L113.88,219.27 L115.22,219.3 L116.55,219.34 L117.89,219.37 L119.22,219.4 L120.56,219.42 L121.9,219.44 L123.23,219.46 L124.57,219.47 L125.9,219.48 L127.24,219.48 L128.57,219.48 L129.91,219.48 L131.25,219.48 L132.58,219.48 L133.92,219.48 L135.25,219.48 L136.59,219.48 L137.92,219.48 L139.26,219.48 L140.6,219.48 L141.93,219.48 L143.27,219.48 L144.6,219.48 L145.94,219.48 L147.28,219.48 L148.61,219.48 L149.95,219.48 L151.28,219.48 L152.62,219.48 L153.95,219.48" stroke="#ff1f1f" stroke-width="1.15" stroke-dasharray="4.5 3.3"/>
</g>
<path d="M16.5,187.3 V289.4 H160.5" fill="none" stroke="#666" stroke-width="0.8"/>
<line x1="13.1" y1="285.1" x2="16.5" y2="285.1" stroke="#666" stroke-width="0.8"/>
<text x="9.3" y="287.5" font-size="7.8" fill="#2a2a2a" stroke="#2a2a2a" stroke-width="0.12" text-anchor="end">0</text>
<line x1="13.1" y1="254" x2="16.5" y2="254" stroke="#666" stroke-width="0.8"/>
<text x="9.3" y="256.4" font-size="7.8" fill="#2a2a2a" stroke="#2a2a2a" stroke-width="0.12" text-anchor="end">20</text>
<line x1="13.1" y1="222.9" x2="16.5" y2="222.9" stroke="#666" stroke-width="0.8"/>
<text x="9.3" y="225.3" font-size="7.8" fill="#2a2a2a" stroke="#2a2a2a" stroke-width="0.12" text-anchor="end">40</text>
<line x1="13.1" y1="191.8" x2="16.5" y2="191.8" stroke="#666" stroke-width="0.8"/>
<text x="9.3" y="194.2" font-size="7.8" fill="#2a2a2a" stroke="#2a2a2a" stroke-width="0.12" text-anchor="end">60</text>
<line x1="31.06" y1="289.4" x2="31.06" y2="292.8" stroke="#666" stroke-width="0.8"/>
<text x="31.06" y="302.3" font-size="7.8" fill="#2a2a2a" stroke="#2a2a2a" stroke-width="0.12" text-anchor="middle">2004</text>
<line x1="60.45" y1="289.4" x2="60.45" y2="292.8" stroke="#666" stroke-width="0.8"/>
<text x="60.45" y="302.3" font-size="7.8" fill="#2a2a2a" stroke="#2a2a2a" stroke-width="0.12" text-anchor="middle">2015</text>
<line x1="89.84" y1="289.4" x2="89.84" y2="292.8" stroke="#666" stroke-width="0.8"/>
<text x="89.84" y="302.3" font-size="7.8" fill="#2a2a2a" stroke="#2a2a2a" stroke-width="0.12" text-anchor="middle">2026</text>
<line x1="121.9" y1="289.4" x2="121.9" y2="292.8" stroke="#666" stroke-width="0.8"/>
<text x="121.9" y="302.3" font-size="7.8" fill="#2a2a2a" stroke="#2a2a2a" stroke-width="0.12" text-anchor="middle">2038</text>
<line x1="153.95" y1="289.4" x2="153.95" y2="292.8" stroke="#666" stroke-width="0.8"/>
<text x="153.95" y="302.3" font-size="7.8" fill="#2a2a2a" stroke="#2a2a2a" stroke-width="0.12" text-anchor="middle">2050</text>
<path d="M23.1,200.45 C23.11,200.33 24.24,200.12 24.6,200 C24.96,199.88 26.19,199.63 26.2,199.45 C26.21,199.27 24.75,198.71 24.7,198.45 C24.65,198.19 25.4,197.47 25.8,197.2 C26.2,196.93 27.58,196.31 28.1,196.1 C28.62,195.89 29.77,195.51 30.3,195.4 C30.83,195.29 32.03,195.26 32.68,195.14 C33.33,195.02 35.45,194.57 35.89,194.38 C36.33,194.19 36.16,193.67 36.47,193.5 C36.78,193.33 37.94,193.02 38.52,192.92 C39.1,192.82 40.62,192.64 41.44,192.63 C42.26,192.62 44.64,192.75 45.53,192.8 C46.42,192.85 48.28,192.92 49.03,193.04 C49.78,193.16 51.51,193.51 51.95,193.8 C52.39,194.09 52.75,195.18 52.82,195.55 C52.89,195.92 52.46,196.77 52.53,197.01 C52.6,197.25 53.07,197.62 53.41,197.59 C53.75,197.56 55.08,196.92 55.45,196.72 C55.82,196.52 56.28,195.91 56.62,195.84 C56.96,195.77 58.06,195.93 58.37,196.13 C58.68,196.33 59.11,197.15 59.25,197.59 C59.39,198.03 59.57,199.39 59.54,199.93 C59.51,200.47 59.16,201.89 58.96,202.26 C58.76,202.63 58.13,203.11 57.79,203.14 C57.45,203.17 56.52,202.72 56.04,202.55 C55.56,202.38 54.08,201.75 53.7,201.68 C53.32,201.61 52.92,201.77 52.82,201.97 C52.72,202.17 52.92,203.09 52.82,203.43 C52.72,203.77 52.39,204.65 51.95,204.89 C51.51,205.13 49.64,205.44 49.03,205.47 C48.42,205.5 47.1,205.32 46.69,205.18 C46.28,205.04 45.94,204.41 45.53,204.31 C45.12,204.21 44.01,204.31 43.19,204.31 C42.37,204.31 39.13,204.24 38.52,204.31 C37.91,204.38 37.96,204.62 37.93,204.89 C37.9,205.16 38.33,206.33 38.23,206.64 C38.13,206.95 37.33,207.49 37.06,207.52 C36.79,207.55 36.09,207.17 35.89,206.93 C35.69,206.69 35.41,205.78 35.31,205.47 C35.21,205.16 35.32,204.51 35.01,204.31 C34.7,204.11 33.28,203.91 32.68,203.72 C32.08,203.53 30.6,202.92 29.9,202.7 C29.2,202.48 27.33,202 26.7,201.8 C26.07,201.6 24.92,201.16 24.5,201 C24.08,200.84 23.09,200.57 23.1,200.45Z" fill="#000"/>
<line x1="205.06" y1="187.3" x2="205.06" y2="289.4" stroke="#bbb" stroke-width="1.1" stroke-dasharray="2.8 2.4"/>
<line x1="263.84" y1="187.3" x2="263.84" y2="289.4" stroke="#bbb" stroke-width="1.1" stroke-dasharray="2.8 2.4"/>
<clipPath id="cp11"><rect x="190.5" y="187.3" width="144" height="102.1"/></clipPath>
<g clip-path="url(#cp11)" fill="none" stroke-linejoin="round" stroke-linecap="round">
<path d="M197.05,251.17 L199.72,255.46 L202.39,257.99 L205.06,254.44 L207.73,246.32 L210.4,236.64 L213.08,231.38 L215.75,225.35 L218.42,222.93 L221.09,224.86 L223.76,227.58 L226.43,227.78 L229.1,227.31 L231.78,226.59 L234.45,224.25 L237.12,223.03 L239.79,221.73 L242.46,220.71 L245.13,219.45 L247.81,218.33 L250.48,217.8 L253.15,216.19 L255.82,217.03 L258.49,216.49 L261.16,216.07 L263.84,218.8 L266.51,232.75 L269.18,247.32 L271.85,259.32 L274.52,265.68 L277.19,268.61 L279.87,271.32 L282.54,274.03 L285.21,275.47 L287.88,277.57 L290.55,278.68 L293.22,280.08 L295.9,280.84 L298.57,281.48 L301.24,281.99 L303.91,282.56 L306.58,283.08 L309.25,283.52 L311.92,283.74 L314.6,283.87 L317.27,283.9 L319.94,284.13 L322.61,284.29 L325.28,284.57 L327.95,284.9 M197.05,244.68 L199.72,250.58 L202.39,253.35 L205.06,248.25 L207.73,239.98 L210.4,233.48 L213.08,224.1 L215.75,218.75 L218.42,216.64 L221.09,216.94 L223.76,219.9 L226.43,219.81 L229.1,222.79 L231.78,224.45 L234.45,223.9 L237.12,223.44 L239.79,221.14 L242.46,221.19 L245.13,220.36 L247.81,218.64 L250.48,217.03 L253.15,216.07 L255.82,215.4 L258.49,212.41 L261.16,213.18 L263.84,215.99 L266.51,228.3 L269.18,243.14 L271.85,255.37 L274.52,262.06 L277.19,266.35 L279.87,269.94 L282.54,272.87 L285.21,275.45 L287.88,276.93 L290.55,278.84 L293.22,279.31 L295.9,279.58 L298.57,279.85 L301.24,280.77 L303.91,281.55 L306.58,281.56 L309.25,282.01 L311.92,282.3 L314.6,283.01 L317.27,283.01 L319.94,283.51 L322.61,283.73 L325.28,284.23 L327.95,284.39 M197.05,244.77 L199.72,249.6 L202.39,249.67 L205.06,245.61 L207.73,234.46 L210.4,230.13 L213.08,223.29 L215.75,217.72 L218.42,217.29 L221.09,219.95 L223.76,220.71 L226.43,223.65 L229.1,224.83 L231.78,224.62 L234.45,224.28 L237.12,222.86 L239.79,222.41 L242.46,220.97 L245.13,218.95 L247.81,217.41 L250.48,217.82 L253.15,217.03 L255.82,216.54 L258.49,216.74 L261.16,215.69 L263.84,219.56 L266.51,231.64 L269.18,246.5 L271.85,256.62 L274.52,262.65 L277.19,267.15 L279.87,269.87 L282.54,272.42 L285.21,274.16 L287.88,275.23 L290.55,277.58 L293.22,278.67 L295.9,279.39 L298.57,280.45 L301.24,281.56 L303.91,282.18 L306.58,282.44 L309.25,282.61 L311.92,283.2 L314.6,283.74 L317.27,283.75 L319.94,284.15 L322.61,284.29 L325.28,284.46 L327.95,284.74 M197.05,245.73 L199.72,248.74 L202.39,245.72 L205.06,242.69 L207.73,232.03 L210.4,222.25 L213.08,218.53 L215.75,216.58 L218.42,210.95 L221.09,214.16 L223.76,217.28 L226.43,220.7 L229.1,222.11 L231.78,223.49 L234.45,222.55 L237.12,220.4 L239.79,220.45 L242.46,220.6 L245.13,219.47 L247.81,219.19 L250.48,218.46 L253.15,217.33 L255.82,215.44 L258.49,214.98 L261.16,215.84 L263.84,218.27 L266.51,233.14 L269.18,248.12 L271.85,258.71 L274.52,263.95 L277.19,268.11 L279.87,271.67 L282.54,273.67 L285.21,275.55 L287.88,277.48 L290.55,278.66 L293.22,280.08 L295.9,281.55 L298.57,281.89 L301.24,282.57 L303.91,283.06 L306.58,283.63 L309.25,283.79 L311.92,284.14 L314.6,284.24 L317.27,284.41 L319.94,284.36 L322.61,284.55 L325.28,284.69 L327.95,284.99 M197.05,240.74 L199.72,238.89 L202.39,243.19 L205.06,241.93 L207.73,232.59 L210.4,223.76 L213.08,219.9 L215.75,215.16 L218.42,215.92 L221.09,217.58 L223.76,218.71 L226.43,217.97 L229.1,219.97 L231.78,221.53 L234.45,220.65 L237.12,218.42 L239.79,217.23 L242.46,217.82 L245.13,216.53 L247.81,214.26 L250.48,214.59 L253.15,216.12 L255.82,215.39 L258.49,214.75 L261.16,213.62 L263.84,216.59 L266.51,230.87 L269.18,245.85 L271.85,258.31 L274.52,264.68 L277.19,268.08 L279.87,270.92 L282.54,272.88 L285.21,275.35 L287.88,277.04 L290.55,278.6 L293.22,279.32 L295.9,280.25 L298.57,281.11 L301.24,281.53 L303.91,281.92 L306.58,282.48 L309.25,282.4 L311.92,282.6 L314.6,282.5 L317.27,282.57 L319.94,282.74 L322.61,283.09 L325.28,283.59 L327.95,283.59 M197.05,241.75 L199.72,246.35 L202.39,249.1 L205.06,246.2 L207.73,236.48 L210.4,225.86 L213.08,220.95 L215.75,215.29 L218.42,210.05 L221.09,214.18 L223.76,217.73 L226.43,221.59 L229.1,221.29 L231.78,221.82 L234.45,222.3 L237.12,222.84 L239.79,221.91 L242.46,220.06 L245.13,219.15 L247.81,218.12 L250.48,216.6 L253.15,217.19 L255.82,216.7 L258.49,215.99 L261.16,216.36 L263.84,219.63 L266.51,232.76 L269.18,247.25 L271.85,259.08 L274.52,264.56 L277.19,267.52 L279.87,270.73 L282.54,273.6 L285.21,275.22 L287.88,276.48 L290.55,277.33 L293.22,279.17 L295.9,279.75 L298.57,280.23 L301.24,281.04 L303.91,281.34 L306.58,281.58 L309.25,281.46 L311.92,282.44 L314.6,282.73 L317.27,283.15 L319.94,283.5 L322.61,283.48 L325.28,283.48 L327.95,283.91 M197.05,243.53 L199.72,249.54 L202.39,249.56 L205.06,245.54 L207.73,236.48 L210.4,228 L213.08,217.91 L215.75,213.5 L218.42,212.59 L221.09,210.33 L223.76,214.8 L226.43,218.87 L229.1,222.36 L231.78,221.78 L234.45,221.18 L237.12,219.89 L239.79,219 L242.46,218.48 L245.13,218.53 L247.81,217.8 L250.48,216.45 L253.15,216.18 L255.82,214.12 L258.49,215.02 L261.16,215.41 L263.84,218.89 L266.51,231.31 L269.18,246.62 L271.85,257.74 L274.52,261.85 L277.19,265.66 L279.87,268.01 L282.54,272.68 L285.21,274.82 L287.88,277.25 L290.55,278.51 L293.22,279.73 L295.9,280.88 L298.57,281.28 L301.24,281.78 L303.91,282.27 L306.58,282.78 L309.25,283.37 L311.92,283.67 L314.6,283.59 L317.27,283.91 L319.94,284.01 L322.61,284.26 L325.28,284.24 L327.95,284.28 M197.05,247.18 L199.72,251.94 L202.39,251.37 L205.06,247.32 L207.73,237.46 L210.4,229.75 L213.08,225.77 L215.75,219.97 L218.42,216.98 L221.09,218.73 L223.76,220.98 L226.43,222.44 L229.1,223.73 L231.78,223.85 L234.45,223.44 L237.12,224.27 L239.79,223.03 L242.46,222.1 L245.13,221.22 L247.81,219.28 L250.48,218.28 L253.15,217.46 L255.82,216.23 L258.49,215.77 L261.16,216.55 L263.84,219.68 L266.51,232.32 L269.18,246.85 L271.85,259.02 L274.52,264.64 L277.19,267.33 L279.87,269.88 L282.54,272.24 L285.21,274.61 L287.88,276.49 L290.55,278.01 L293.22,279.3 L295.9,280.89 L298.57,281.57 L301.24,282.41 L303.91,282.34 L306.58,282.39 L309.25,282.18 L311.92,282.35 L314.6,282.97 L317.27,283 L319.94,283.34 L322.61,283.45 L325.28,283.84 L327.95,284.1 M197.05,235.4 L199.72,239.99 L202.39,236.37 L205.06,226.73 L207.73,222.2 L210.4,215.31 L213.08,212.73 L215.75,209.05 L218.42,208.82 L221.09,211.06 L223.76,212.04 L226.43,213.55 L229.1,215.47 L231.78,217.19 L234.45,217.33 L237.12,216.97 L239.79,215.75 L242.46,215.35 L245.13,214.08 L247.81,215.09 L250.48,213.28 L253.15,211.21 L255.82,211.17 L258.49,213.1 L261.16,211.62 L263.84,215.21 L266.51,231.9 L269.18,246.42 L271.85,257.61 L274.52,262.98 L277.19,264.76 L279.87,267.32 L282.54,270.39 L285.21,274.34 L287.88,276.62 L290.55,277.96 L293.22,279.04 L295.9,280.38 L298.57,281.25 L301.24,281.72 L303.91,282.5 L306.58,283.25 L309.25,283.52 L311.92,283.7 L314.6,284.01 L317.27,284.48 L319.94,284.53 L322.61,284.79 L325.28,284.71 L327.95,284.75 M197.05,231.55 L199.72,236.31 L202.39,234.98 L205.06,227.82 L207.73,218.19 L210.4,207.33 L213.08,203.6 L215.75,197.17 L218.42,195.07 L221.09,200.09 L223.76,204.09 L226.43,209.03 L229.1,212.41 L231.78,213.7 L234.45,212.04 L237.12,212.37 L239.79,211.75 L242.46,213.33 L245.13,212.24 L247.81,209.57 L250.48,207.83 L253.15,207.47 L255.82,208.18 L258.49,209.36 L261.16,209.47 L263.84,213.94 L266.51,228.43 L269.18,240.91 L271.85,253.52 L274.52,256.7 L277.19,262.42 L279.87,265.19 L282.54,269.5 L285.21,271.45 L287.88,274.28 L290.55,275.76 L293.22,277.28 L295.9,278.64 L298.57,279.16 L301.24,279.15 L303.91,280 L306.58,280.22 L309.25,280.77 L311.92,281.33 L314.6,281.14 L317.27,282.26 L319.94,282.73 L322.61,283.44 L325.28,283.58 L327.95,283.68 M197.05,242.05 L199.72,242.71 L202.39,241.08 L205.06,238.46 L207.73,228.94 L210.4,217.47 L213.08,212.03 L215.75,207.62 L218.42,205.07 L221.09,211.18 L223.76,216.05 L226.43,218.05 L229.1,218.66 L231.78,221.45 L234.45,221.76 L237.12,221.21 L239.79,220.48 L242.46,218.52 L245.13,217.41 L247.81,216.04 L250.48,216.53 L253.15,216.96 L255.82,216.29 L258.49,216.91 L261.16,216.49 L263.84,219.6 L266.51,233.36 L269.18,247.27 L271.85,259.36 L274.52,265.48 L277.19,268.78 L279.87,271.14 L282.54,272.25 L285.21,275.2 L287.88,276.9 L290.55,278.34 L293.22,279.28 L295.9,280.39 L298.57,281.75 L301.24,281.93 L303.91,282.5 L306.58,282.87 L309.25,283.42 L311.92,283.86 L314.6,284.15 L317.27,284.14 L319.94,284.14 L322.61,284.37 L325.28,284.37 L327.95,284.49 M197.05,239.96 L199.72,242.81 L202.39,245.08 L205.06,241.17 L207.73,231.72 L210.4,223.42 L213.08,219.42 L215.75,210.3 L218.42,209.47 L221.09,209.41 L223.76,212.03 L226.43,212.72 L229.1,218.99 L231.78,216.48 L234.45,217.06 L237.12,218.66 L239.79,217.69 L242.46,213.61 L245.13,212.4 L247.81,213.37 L250.48,213.24 L253.15,211.54 L255.82,213.28 L258.49,213.33 L261.16,213.66 L263.84,213.88 L266.51,227.63 L269.18,240.08 L271.85,252.88 L274.52,260.22 L277.19,262.66 L279.87,265.55 L282.54,270.65 L285.21,272.28 L287.88,273.89 L290.55,276.16 L293.22,277.58 L295.9,278.67 L298.57,279.89 L301.24,280.92 L303.91,281.66 L306.58,282.21 L309.25,282.9 L311.92,283.22 L314.6,283.76 L317.27,283.91 L319.94,284.05 L322.61,284.34 L325.28,284.28 L327.95,283.96 M197.05,245.22 L199.72,248.03 L202.39,248.23 L205.06,243.95 L207.73,236.11 L210.4,227.77 L213.08,218.12 L215.75,211.99 L218.42,210.89 L221.09,214.01 L223.76,217.27 L226.43,218.28 L229.1,216.22 L231.78,219.41 L234.45,219.26 L237.12,219.24 L239.79,219.52 L242.46,217.89 L245.13,216.05 L247.81,216.8 L250.48,216.53 L253.15,215.02 L255.82,214.21 L258.49,213.29 L261.16,213.88 L263.84,217.16 L266.51,229.78 L269.18,244.7 L271.85,257.65 L274.52,263.32 L277.19,265.37 L279.87,269.44 L282.54,271.1 L285.21,272.6 L287.88,275.34 L290.55,276.9 L293.22,278.35 L295.9,279.08 L298.57,279.62 L301.24,281.04 L303.91,281.97 L306.58,282.01 L309.25,282.37 L311.92,282.61 L314.6,282.89 L317.27,282.74 L319.94,283.37 L322.61,283.33 L325.28,283.69 L327.95,283.63 M197.05,249.2 L199.72,253.28 L202.39,254.61 L205.06,250.75 L207.73,241.67 L210.4,234.65 L213.08,229.5 L215.75,223.43 L218.42,219.84 L221.09,221.58 L223.76,224.9 L226.43,223.94 L229.1,223.71 L231.78,224.08 L234.45,224.56 L237.12,224.11 L239.79,222.83 L242.46,222.41 L245.13,220.01 L247.81,218.62 L250.48,217.33 L253.15,217.82 L255.82,217.97 L258.49,218.07 L261.16,217.69 L263.84,220.61 L266.51,234.15 L269.18,248.47 L271.85,260.03 L274.52,264.64 L277.19,267.96 L279.87,271.23 L282.54,273.78 L285.21,275.01 L287.88,277.05 L290.55,278.46 L293.22,279.88 L295.9,280.73 L298.57,281.39 L301.24,282.21 L303.91,282.6 L306.58,282.8 L309.25,282.96 L311.92,283.17 L314.6,283.39 L317.27,283.74 L319.94,284 L322.61,284.1 L325.28,284.37 L327.95,284.48 M197.05,246.65 L199.72,251.91 L202.39,254.27 L205.06,249.41 L207.73,241.3 L210.4,233.44 L213.08,227.52 L215.75,223.27 L218.42,218.97 L221.09,220.69 L223.76,222.31 L226.43,225.37 L229.1,226.26 L231.78,226.76 L234.45,226.26 L237.12,225.55 L239.79,224.13 L242.46,221.7 L245.13,220.58 L247.81,219.27 L250.48,218.38 L253.15,216.47 L255.82,214.89 L258.49,214.31 L261.16,213.79 L263.84,217.92 L266.51,231.55 L269.18,245.96 L271.85,257.72 L274.52,264.23 L277.19,267.97 L279.87,270.39 L282.54,272.94 L285.21,275.85 L287.88,277.47 L290.55,278.36 L293.22,279.87 L295.9,280.76 L298.57,281.85 L301.24,282.19 L303.91,282.77 L306.58,283.38 L309.25,283.69 L311.92,283.53 L314.6,283.93 L317.27,284.3 L319.94,284.35 L322.61,284.48 L325.28,284.35 L327.95,284.6 M197.05,245.23 L199.72,249.26 L202.39,249.9 L205.06,244.26 L207.73,237.57 L210.4,230.42 L213.08,224.47 L215.75,218.48 L218.42,215.62 L221.09,217.51 L223.76,220.81 L226.43,221.85 L229.1,221.99 L231.78,218.54 L234.45,219.17 L237.12,216.45 L239.79,218.12 L242.46,218.36 L245.13,218.42 L247.81,217.52 L250.48,217.08 L253.15,217.18 L255.82,216.77 L258.49,216.7 L261.16,216.14 L263.84,219 L266.51,232.34 L269.18,245.78 L271.85,257.19 L274.52,262.95 L277.19,266.45 L279.87,269.4 L282.54,271.73 L285.21,274.43 L287.88,275.61 L290.55,276.18 L293.22,277.17 L295.9,278.91 L298.57,280.77 L301.24,281.58 L303.91,281.96 L306.58,282.18 L309.25,282.71 L311.92,283.16 L314.6,283.1 L317.27,283.62 L319.94,283.56 L322.61,283.6 L325.28,284.11 L327.95,284.17 M197.05,246.36 L199.72,252.63 L202.39,255.17 L205.06,250.25 L207.73,241.48 L210.4,232.66 L213.08,227.57 L215.75,222.62 L218.42,220.21 L221.09,222.8 L223.76,225.91 L226.43,226.44 L229.1,226.43 L231.78,227.28 L234.45,226.42 L237.12,224.6 L239.79,221.94 L242.46,221.43 L245.13,219.71 L247.81,216.74 L250.48,215.78 L253.15,213.9 L255.82,216.29 L258.49,214.96 L261.16,215.03 L263.84,219.13 L266.51,231.96 L269.18,245.59 L271.85,255.68 L274.52,260.18 L277.19,264.19 L279.87,268.46 L282.54,271.95 L285.21,274.13 L287.88,275.75 L290.55,277.66 L293.22,279.04 L295.9,279.68 L298.57,280.4 L301.24,280.07 L303.91,279.8 L306.58,281.11 L309.25,281.96 L311.92,282.93 L314.6,283.57 L317.27,283.71 L319.94,284.04 L322.61,284.35 L325.28,284.45 L327.95,284.43 M197.05,243.65 L199.72,245.98 L202.39,245.88 L205.06,240.77 L207.73,229.83 L210.4,224.49 L213.08,218.14 L215.75,215 L218.42,210.33 L221.09,210.22 L223.76,215.59 L226.43,215.59 L229.1,219.6 L231.78,218.64 L234.45,218.37 L237.12,219.33 L239.79,220.24 L242.46,219.53 L245.13,218.4 L247.81,217.55 L250.48,216.07 L253.15,216.73 L255.82,216.24 L258.49,215.86 L261.16,216.8 L263.84,219.26 L266.51,233.27 L269.18,249.3 L271.85,261.17 L274.52,266.56 L277.19,268.63 L279.87,271.29 L282.54,272.95 L285.21,274.16 L287.88,275.13 L290.55,275.84 L293.22,277.29 L295.9,278.95 L298.57,279.56 L301.24,279.94 L303.91,280.47 L306.58,281.25 L309.25,282.39 L311.92,282.56 L314.6,282.87 L317.27,283.56 L319.94,283.72 L322.61,283.74 L325.28,283.9 L327.95,283.82 M197.05,245.37 L199.72,249.84 L202.39,250.03 L205.06,244.31 L207.73,231.82 L210.4,228.09 L213.08,221.97 L215.75,215.1 L218.42,209.73 L221.09,207.47 L223.76,212.88 L226.43,216.57 L229.1,220.06 L231.78,219.47 L234.45,221.42 L237.12,218.67 L239.79,216.49 L242.46,215.11 L245.13,217.4 L247.81,216.96 L250.48,214.79 L253.15,216.13 L255.82,215.81 L258.49,215.49 L261.16,214.34 L263.84,216.76 L266.51,229.62 L269.18,244.45 L271.85,256 L274.52,261.97 L277.19,264.42 L279.87,267.79 L282.54,269.77 L285.21,273.6 L287.88,274.52 L290.55,276.35 L293.22,277.15 L295.9,278.42 L298.57,278.98 L301.24,279.17 L303.91,280.14 L306.58,280.81 L309.25,281.47 L311.92,281.94 L314.6,282.95 L317.27,283.28 L319.94,283.56 L322.61,283.97 L325.28,284.09 L327.95,284.39 M197.05,243.65 L199.72,244.35 L202.39,247.69 L205.06,245.75 L207.73,236.6 L210.4,230.56 L213.08,224.19 L215.75,220.09 L218.42,218.05 L221.09,218.88 L223.76,220.82 L226.43,220.91 L229.1,221.25 L231.78,223.5 L234.45,222.31 L237.12,222.63 L239.79,221.56 L242.46,221.4 L245.13,220.71 L247.81,218.34 L250.48,217.6 L253.15,217.72 L255.82,217.58 L258.49,217.34 L261.16,216.25 L263.84,219.77 L266.51,233.86 L269.18,247.9 L271.85,260.69 L274.52,266.38 L277.19,268.46 L279.87,270.99 L282.54,273.74 L285.21,275.86 L287.88,277.83 L290.55,279.27 L293.22,280.33 L295.9,280.81 L298.57,281.23 L301.24,281.98 L303.91,282.5 L306.58,282.73 L309.25,283.42 L311.92,283.76 L314.6,284.06 L317.27,284.37 L319.94,284.6 L322.61,284.66 L325.28,284.89 L327.95,285" stroke="#8a8a8a" stroke-opacity="0.55" stroke-width="0.5"/>
<path d="M197.05,243.7 L198.38,246.14 L199.72,247.55 L201.05,248.19 L202.39,248.34 L203.72,247.14 L205.06,244.01 L206.4,239.7 L207.73,234.93 L209.07,230.46 L210.4,227 L211.74,224.16 L213.08,221.23 L214.41,218.44 L215.75,216.06 L217.08,214.36 L218.42,213.57 L219.75,213.96 L221.09,215.3 L222.43,216.92 L223.76,218.18 L225.1,219.06 L226.43,219.94 L227.77,220.74 L229.1,221.38 L230.44,221.79 L231.78,221.89 L233.11,221.79 L234.45,221.57 L235.78,221.26 L237.12,220.87 L238.46,220.44 L239.79,219.98 L241.13,219.53 L242.46,219.11 L243.8,218.66 L245.13,218.11 L246.47,217.54 L247.81,216.97 L249.14,216.47 L250.48,216.07 L251.81,215.83 L253.15,215.65 L254.49,215.48 L255.82,215.33 L257.16,215.2 L258.49,215.09 L259.83,215.01 L261.16,214.95 L262.5,214.94 L263.84,217.99 L265.17,224.71 L266.51,231.51 L267.84,238.6 L269.18,245.89 L270.51,252.11 L271.85,257.63 L273.19,261.03 L274.52,263.27 L275.86,265.04 L277.19,266.54 L278.53,267.99 L279.87,269.5 L281.2,270.93 L282.54,272.24 L283.87,273.4 L285.21,274.43 L286.54,275.36 L287.88,276.21 L289.22,276.97 L290.55,277.66 L291.89,278.31 L293.22,278.91 L294.56,279.46 L295.9,279.95 L297.23,280.36 L298.57,280.71 L299.9,281.03 L301.24,281.32 L302.57,281.58 L303.91,281.82 L305.25,282.04 L306.58,282.26 L307.92,282.46 L309.25,282.66 L310.59,282.85 L311.92,283.03 L313.26,283.19 L314.6,283.35 L315.93,283.48 L317.27,283.61 L318.6,283.72 L319.94,283.83 L321.28,283.93 L322.61,284.02 L323.95,284.11 L325.28,284.19 L326.62,284.25 L327.95,284.3" stroke="#1a1a1a" stroke-width="1.1"/>
<path d="M197.05,243.7 L198.38,246.92 L199.72,248.58 L201.05,249.19 L202.39,249.27 L203.72,247.22 L205.06,243.24 L206.4,238.07 L207.73,232.57 L209.07,228.12 L210.4,224.11 L211.74,220.97 L213.08,218.34 L214.41,215.89 L215.75,214.01 L217.08,213.11 L218.42,213.4 L219.75,214.36 L221.09,215.4 L222.43,216.4 L223.76,217.57 L225.1,218.81 L226.43,219.98 L227.77,220.96 L229.1,221.64 L230.44,221.9 L231.78,221.82 L233.11,221.62 L234.45,221.31 L235.78,220.92 L237.12,220.47 L238.46,220 L239.79,219.52 L241.13,219.06 L242.46,218.65 L243.8,218.23 L245.13,217.75 L246.47,217.24 L247.81,216.74 L249.14,216.28 L250.48,215.88 L251.81,215.58 L253.15,215.4 L254.49,215.3 L255.82,215.21 L257.16,215.13 L258.49,215.07 L259.83,215.01 L261.16,214.97 L262.5,214.94 L263.84,214.94 L265.17,215 L266.51,215.15 L267.84,215.38 L269.18,215.63 L270.51,215.89 L271.85,216.11 L273.19,216.27 L274.52,216.33 L275.86,216.3 L277.19,216.23 L278.53,216.13 L279.87,216 L281.2,215.86 L282.54,215.73 L283.87,215.6 L285.21,215.5 L286.54,215.43 L287.88,215.4 L289.22,215.4 L290.55,215.4 L291.89,215.4 L293.22,215.4 L294.56,215.4 L295.9,215.4 L297.23,215.4 L298.57,215.4 L299.9,215.4 L301.24,215.4 L302.57,215.43 L303.91,215.52 L305.25,215.66 L306.58,215.86 L307.92,216.85 L309.25,217.72 L310.59,216.84 L311.92,215.86 L313.26,215.7 L314.6,215.55 L315.93,215.42 L317.27,215.31 L318.6,215.21 L319.94,215.13 L321.28,215.07 L322.61,215.02 L323.95,214.98 L325.28,214.96 L326.62,214.94 L327.95,214.94" stroke="#ff1f1f" stroke-width="1.15" stroke-dasharray="4.5 3.3"/>
</g>
<path d="M190.5,187.3 V289.4 H334.5" fill="none" stroke="#666" stroke-width="0.8"/>
<line x1="187.1" y1="285" x2="190.5" y2="285" stroke="#666" stroke-width="0.8"/>
<text x="183.3" y="287.4" font-size="7.8" fill="#2a2a2a" stroke="#2a2a2a" stroke-width="0.12" text-anchor="end">0</text>
<line x1="187.1" y1="261.8" x2="190.5" y2="261.8" stroke="#666" stroke-width="0.8"/>
<text x="183.3" y="264.2" font-size="7.8" fill="#2a2a2a" stroke="#2a2a2a" stroke-width="0.12" text-anchor="end">5</text>
<line x1="187.1" y1="238.6" x2="190.5" y2="238.6" stroke="#666" stroke-width="0.8"/>
<text x="183.3" y="241" font-size="7.8" fill="#2a2a2a" stroke="#2a2a2a" stroke-width="0.12" text-anchor="end">10</text>
<line x1="187.1" y1="215.4" x2="190.5" y2="215.4" stroke="#666" stroke-width="0.8"/>
<text x="183.3" y="217.8" font-size="7.8" fill="#2a2a2a" stroke="#2a2a2a" stroke-width="0.12" text-anchor="end">15</text>
<line x1="187.1" y1="192.2" x2="190.5" y2="192.2" stroke="#666" stroke-width="0.8"/>
<text x="183.3" y="194.6" font-size="7.8" fill="#2a2a2a" stroke="#2a2a2a" stroke-width="0.12" text-anchor="end">20</text>
<line x1="205.06" y1="289.4" x2="205.06" y2="292.8" stroke="#666" stroke-width="0.8"/>
<text x="205.06" y="302.3" font-size="7.8" fill="#2a2a2a" stroke="#2a2a2a" stroke-width="0.12" text-anchor="middle">2004</text>
<line x1="234.45" y1="289.4" x2="234.45" y2="292.8" stroke="#666" stroke-width="0.8"/>
<text x="234.45" y="302.3" font-size="7.8" fill="#2a2a2a" stroke="#2a2a2a" stroke-width="0.12" text-anchor="middle">2015</text>
<line x1="263.84" y1="289.4" x2="263.84" y2="292.8" stroke="#666" stroke-width="0.8"/>
<text x="263.84" y="302.3" font-size="7.8" fill="#2a2a2a" stroke="#2a2a2a" stroke-width="0.12" text-anchor="middle">2026</text>
<line x1="295.9" y1="289.4" x2="295.9" y2="292.8" stroke="#666" stroke-width="0.8"/>
<text x="295.9" y="302.3" font-size="7.8" fill="#2a2a2a" stroke="#2a2a2a" stroke-width="0.12" text-anchor="middle">2038</text>
<line x1="327.95" y1="289.4" x2="327.95" y2="292.8" stroke="#666" stroke-width="0.8"/>
<text x="327.95" y="302.3" font-size="7.8" fill="#2a2a2a" stroke="#2a2a2a" stroke-width="0.12" text-anchor="middle">2050</text>
<path d="M197.45,200.57 C197.63,200.32 198.79,199.51 199.29,199.04 C199.79,198.57 201.17,197.12 201.74,196.58 C202.31,196.04 203.63,194.87 204.2,194.44 C204.77,194.01 206.15,193.22 206.65,192.9 C207.15,192.58 207.99,191.93 208.49,191.68 C208.99,191.43 210.37,190.87 210.94,190.76 C211.51,190.65 212.75,190.69 213.39,190.76 C214.03,190.83 215.6,191.23 216.46,191.37 C217.32,191.51 219.96,191.81 220.75,191.99 C221.54,192.17 222.73,192.65 223.2,192.9 C223.67,193.15 224.53,193.81 224.74,194.13 C224.95,194.45 225.08,195.37 225.04,195.66 C225,195.95 224.29,196.4 224.43,196.58 C224.57,196.76 225.7,197.27 226.27,197.2 C226.84,197.13 228.69,196.26 229.33,195.97 C229.97,195.68 231.29,194.95 231.79,194.74 C232.29,194.53 233.49,194.06 233.63,194.13 C233.77,194.2 233.3,194.89 233.01,195.36 C232.72,195.83 231.31,197.48 231.17,198.12 C231.03,198.76 231.61,200.27 231.79,200.88 C231.97,201.49 232.78,203.04 232.71,203.33 C232.64,203.62 231.64,203.51 231.17,203.33 C230.7,203.15 229.36,202.12 228.72,201.8 C228.08,201.48 226.09,200.68 225.66,200.57 C225.23,200.46 225.15,200.67 225.04,200.88 C224.93,201.09 224.95,202.09 224.74,202.41 C224.53,202.73 223.67,203.44 223.2,203.63 C222.73,203.82 221.32,204.01 220.75,204.06 C220.18,204.11 219.02,204.06 218.3,204.06 C217.58,204.06 215.12,203.86 214.62,204.06 C214.12,204.26 214.12,205.4 214.01,205.78 C213.9,206.16 213.91,207.24 213.7,207.31 C213.49,207.38 212.56,206.68 212.17,206.39 C211.78,206.1 210.72,205.18 210.33,204.86 C209.94,204.54 209.3,203.81 208.8,203.63 C208.3,203.45 206.79,203.44 206.04,203.33 C205.29,203.22 203.15,202.89 202.36,202.71 C201.57,202.53 199.83,201.98 199.29,201.8 C198.75,201.62 197.97,201.32 197.76,201.18 C197.55,201.04 197.27,200.82 197.45,200.57Z" fill="#000"/>
<line x1="379.06" y1="187.3" x2="379.06" y2="289.4" stroke="#bbb" stroke-width="1.1" stroke-dasharray="2.8 2.4"/>
<line x1="437.84" y1="187.3" x2="437.84" y2="289.4" stroke="#bbb" stroke-width="1.1" stroke-dasharray="2.8 2.4"/>
<clipPath id="cp12"><rect x="364.5" y="187.3" width="144" height="102.1"/></clipPath>
<g clip-path="url(#cp12)" fill="none" stroke-linejoin="round" stroke-linecap="round">
<path d="M371.05,267.03 L373.72,259.85 L376.39,268.26 L379.06,262.66 L381.73,256.42 L384.4,271.6 L387.08,268.32 L389.75,267.33 L392.42,266.74 L395.09,270.44 L397.76,270.83 L400.43,277.5 L403.1,272.52 L405.78,269.34 L408.45,273.41 L411.12,276.82 L413.79,277.68 L416.46,275 L419.13,273.91 L421.81,274.97 L424.48,273.78 L427.15,279.53 L429.82,284.54 L432.49,274.49 L435.16,266.57 L437.84,276.19 L440.51,275.27 L443.18,269.53 L445.85,265.49 L448.52,265.3 L451.19,258.14 L453.87,258.94 L456.54,256.96 L459.21,256.97 L461.88,259.53 L464.55,253.36 L467.22,252.46 L469.9,251.91 L472.57,257.99 L475.24,255.51 L477.91,266.57 L480.58,260.93 L483.25,272.77 L485.92,271.86 L488.6,258.67 L491.27,256.55 L493.94,247.8 L496.61,253.1 L499.28,242.89 L501.95,234.2 M371.05,267.67 L373.72,264.6 L376.39,266.29 L379.06,264.31 L381.73,266.01 L384.4,256.99 L387.08,265.2 L389.75,277.06 L392.42,271.73 L395.09,268.98 L397.76,267.94 L400.43,277.22 L403.1,267.59 L405.78,269.95 L408.45,270.68 L411.12,278.8 L413.79,273.99 L416.46,273.66 L419.13,267.08 L421.81,273.44 L424.48,279.46 L427.15,275.08 L429.82,276.92 L432.49,270.62 L435.16,277.06 L437.84,274.63 L440.51,272.44 L443.18,269.9 L445.85,272.84 L448.52,275.73 L451.19,269.39 L453.87,266.56 L456.54,259.65 L459.21,256.41 L461.88,259.08 L464.55,249.25 L467.22,240.1 L469.9,233.56 L472.57,232.22 L475.24,221.85 L477.91,216.49 L480.58,224.37 L483.25,211.42 L485.92,219.83 L488.6,209.34 L491.27,210.62 L493.94,215.52 L496.61,213.9 L499.28,222.11 L501.95,222.5 M371.05,245.33 L373.72,256.19 L376.39,259.87 L379.06,265.58 L381.73,258.72 L384.4,264.78 L387.08,261.7 L389.75,270.27 L392.42,267.59 L395.09,268.71 L397.76,263.98 L400.43,268.82 L403.1,273.21 L405.78,269.99 L408.45,275.94 L411.12,277.8 L413.79,272 L416.46,281.09 L419.13,273.18 L421.81,275.84 L424.48,278.64 L427.15,273.96 L429.82,268.76 L432.49,271.49 L435.16,272.79 L437.84,268.06 L440.51,264.57 L443.18,266.19 L445.85,272.05 L448.52,275.65 L451.19,271.61 L453.87,261.28 L456.54,257.05 L459.21,257.33 L461.88,250.75 L464.55,256.42 L467.22,258.39 L469.9,260.89 L472.57,250.83 L475.24,266.71 L477.91,263.27 L480.58,255.74 L483.25,251.05 L485.92,242.54 L488.6,242.55 L491.27,243.41 L493.94,242.5 L496.61,234.97 L499.28,232.57 L501.95,237.88 M371.05,258.01 L373.72,255.06 L376.39,263.97 L379.06,264.18 L381.73,267.35 L384.4,270.2 L387.08,259.2 L389.75,259.99 L392.42,272.37 L395.09,266.82 L397.76,269.84 L400.43,264.44 L403.1,266.48 L405.78,269.63 L408.45,269.19 L411.12,268.17 L413.79,270.89 L416.46,272.49 L419.13,273.28 L421.81,271.35 L424.48,277.29 L427.15,274.26 L429.82,272.19 L432.49,272.29 L435.16,268.65 L437.84,275.75 L440.51,273.06 L443.18,273.5 L445.85,268.94 L448.52,271.74 L451.19,266.59 L453.87,260.22 L456.54,266.52 L459.21,260.71 L461.88,262.11 L464.55,259.18 L467.22,254.02 L469.9,248.86 L472.57,244.08 L475.24,237.88 L477.91,240.45 L480.58,240.18 L483.25,238.76 L485.92,230.42 L488.6,226.01 L491.27,212.83 L493.94,220.86 L496.61,214.45 L499.28,213.44 L501.95,220.12 M371.05,265.74 L373.72,265.44 L376.39,259.67 L379.06,267.27 L381.73,259.52 L384.4,259.39 L387.08,264.97 L389.75,260.63 L392.42,256.27 L395.09,258.76 L397.76,262.82 L400.43,258.01 L403.1,257 L405.78,268.86 L408.45,270.46 L411.12,271.52 L413.79,274.45 L416.46,280.04 L419.13,271.82 L421.81,272.68 L424.48,272.16 L427.15,265.36 L429.82,270.26 L432.49,269.42 L435.16,269.5 L437.84,272.14 L440.51,270.24 L443.18,264.68 L445.85,267.54 L448.52,262.7 L451.19,266.26 L453.87,260.91 L456.54,266.07 L459.21,263.16 L461.88,263.01 L464.55,253.95 L467.22,251.8 L469.9,253.54 L472.57,247.69 L475.24,248.67 L477.91,254.5 L480.58,260.17 L483.25,265.13 L485.92,261.88 L488.6,259.61 L491.27,255.21 L493.94,251.36 L496.61,254.07 L499.28,239.39 L501.95,239.82 M371.05,257.58 L373.72,258.55 L376.39,265.27 L379.06,262.95 L381.73,264.13 L384.4,259.38 L387.08,267.78 L389.75,264.02 L392.42,263.89 L395.09,269.76 L397.76,263.56 L400.43,262.63 L403.1,272.31 L405.78,262.02 L408.45,271.86 L411.12,275.51 L413.79,275.86 L416.46,270.03 L419.13,268.75 L421.81,272.14 L424.48,265.88 L427.15,267.18 L429.82,261.8 L432.49,251.92 L435.16,261.98 L437.84,279.01 L440.51,274.97 L443.18,275.53 L445.85,271.94 L448.52,270.44 L451.19,272.09 L453.87,269.99 L456.54,264.74 L459.21,262.95 L461.88,272.1 L464.55,259.75 L467.22,257.75 L469.9,258.64 L472.57,255.14 L475.24,258.38 L477.91,256.86 L480.58,251.51 L483.25,240.76 L485.92,238.58 L488.6,237.73 L491.27,245.67 L493.94,243.54 L496.61,232.22 L499.28,225.9 L501.95,226.76 M371.05,264.08 L373.72,264.75 L376.39,268.39 L379.06,264.22 L381.73,266.64 L384.4,261.07 L387.08,260.86 L389.75,269.12 L392.42,259.13 L395.09,268.39 L397.76,265.72 L400.43,262.55 L403.1,259.65 L405.78,276.69 L408.45,268.05 L411.12,263.38 L413.79,261.72 L416.46,278.38 L419.13,278.64 L421.81,276.63 L424.48,276.62 L427.15,267.27 L429.82,271.85 L432.49,263.76 L435.16,265.44 L437.84,275.52 L440.51,276.18 L443.18,273.27 L445.85,270.89 L448.52,265.49 L451.19,264.91 L453.87,256.72 L456.54,265.35 L459.21,275.75 L461.88,267.84 L464.55,260.21 L467.22,259.9 L469.9,264.6 L472.57,259.2 L475.24,250.97 L477.91,259.42 L480.58,262.77 L483.25,264.56 L485.92,254.85 L488.6,260.18 L491.27,255.08 L493.94,245.94 L496.61,241.98 L499.28,247.04 L501.95,237.95 M371.05,251.59 L373.72,260 L376.39,257.32 L379.06,258.19 L381.73,258.54 L384.4,268.75 L387.08,264.77 L389.75,266.1 L392.42,263.11 L395.09,264.48 L397.76,260.66 L400.43,264.18 L403.1,263.27 L405.78,260.48 L408.45,264.7 L411.12,262.89 L413.79,267.4 L416.46,267.18 L419.13,272.71 L421.81,269.51 L424.48,265.01 L427.15,268.98 L429.82,265.19 L432.49,264.61 L435.16,273.91 L437.84,270.22 L440.51,262.21 L443.18,266.89 L445.85,277.11 L448.52,272.07 L451.19,269.97 L453.87,251.47 L456.54,248.44 L459.21,245.48 L461.88,244.9 L464.55,234.81 L467.22,230.49 L469.9,217.65 L472.57,216.42 L475.24,209.65 L477.91,201.27 L480.58,196.16 L483.25,200.27 L485.92,196.16 L488.6,196.16 L491.27,198.49 L493.94,201.91 L496.61,205.76 L499.28,206.84 L501.95,226.17 M371.05,263.9 L373.72,264.11 L376.39,260.08 L379.06,258.76 L381.73,265.49 L384.4,265.72 L387.08,265.93 L389.75,269.2 L392.42,268.27 L395.09,270.29 L397.76,272.21 L400.43,270.46 L403.1,274.42 L405.78,270.19 L408.45,270.87 L411.12,275.02 L413.79,276.92 L416.46,276.33 L419.13,274.98 L421.81,273.78 L424.48,273.97 L427.15,276.8 L429.82,265.67 L432.49,262.54 L435.16,266.99 L437.84,264.22 L440.51,264.42 L443.18,266.74 L445.85,267.86 L448.52,256.01 L451.19,254.77 L453.87,251.49 L456.54,254.92 L459.21,248.55 L461.88,235.63 L464.55,233.1 L467.22,227.49 L469.9,227.14 L472.57,228.36 L475.24,237.95 L477.91,222.5 L480.58,224.83 L483.25,218.75 L485.92,202.65 L488.6,209.72 L491.27,205.19 L493.94,209.27 L496.61,205.72 L499.28,208.7 L501.95,217.48 M371.05,257.39 L373.72,268.07 L376.39,267.47 L379.06,264.45 L381.73,262.59 L384.4,264.09 L387.08,266.09 L389.75,270.26 L392.42,270.75 L395.09,266.47 L397.76,264.28 L400.43,264.08 L403.1,261.8 L405.78,260.89 L408.45,274.4 L411.12,274.66 L413.79,274.59 L416.46,276.07 L419.13,269.11 L421.81,268.14 L424.48,270.97 L427.15,270.69 L429.82,263.85 L432.49,267.8 L435.16,271.42 L437.84,266.52 L440.51,264.82 L443.18,258.91 L445.85,263.01 L448.52,263.18 L451.19,265.44 L453.87,265.85 L456.54,259.61 L459.21,264.88 L461.88,249.98 L464.55,238.69 L467.22,232.76 L469.9,237.55 L472.57,230.43 L475.24,224.93 L477.91,214.63 L480.58,222.41 L483.25,228.16 L485.92,220.11 L488.6,218.92 L491.27,224.06 L493.94,249.54 L496.61,249.51 L499.28,257.13 L501.95,243.46 M371.05,263.29 L373.72,257.99 L376.39,257.84 L379.06,250.88 L381.73,259.17 L384.4,270.8 L387.08,264.76 L389.75,261.81 L392.42,270.39 L395.09,275.46 L397.76,270.3 L400.43,266.49 L403.1,273 L405.78,273.26 L408.45,275.06 L411.12,278.11 L413.79,281.66 L416.46,275.54 L419.13,275.68 L421.81,277.89 L424.48,283.92 L427.15,270.33 L429.82,274.25 L432.49,271.51 L435.16,277.04 L437.84,271.62 L440.51,276.58 L443.18,270.59 L445.85,270.97 L448.52,266.02 L451.19,269.38 L453.87,266.27 L456.54,262.85 L459.21,251.12 L461.88,261.24 L464.55,257.04 L467.22,254.24 L469.9,250.8 L472.57,246.01 L475.24,248.54 L477.91,244.29 L480.58,241.2 L483.25,243.42 L485.92,233.57 L488.6,228.69 L491.27,233.36 L493.94,220.71 L496.61,220.2 L499.28,201.92 L501.95,203.81 M371.05,260.82 L373.72,258.23 L376.39,260.75 L379.06,269.04 L381.73,270.59 L384.4,260.83 L387.08,258.82 L389.75,264.94 L392.42,266.99 L395.09,267.17 L397.76,267.28 L400.43,276.6 L403.1,268.07 L405.78,272.65 L408.45,270.5 L411.12,282.31 L413.79,276.38 L416.46,267.56 L419.13,281.04 L421.81,269.99 L424.48,269.16 L427.15,274.07 L429.82,279.08 L432.49,267.59 L435.16,268.71 L437.84,266.94 L440.51,268.68 L443.18,271.35 L445.85,266.36 L448.52,272.93 L451.19,263.06 L453.87,268.37 L456.54,267.15 L459.21,270.01 L461.88,256.57 L464.55,265.76 L467.22,266.02 L469.9,259.18 L472.57,257.78 L475.24,249.52 L477.91,249.48 L480.58,251.74 L483.25,252.1 L485.92,267.73 L488.6,269.98 L491.27,267.64 L493.94,261.54 L496.61,262.41 L499.28,255.98 L501.95,252.34 M371.05,260.22 L373.72,254.02 L376.39,253.56 L379.06,261.65 L381.73,261.45 L384.4,265.09 L387.08,266.77 L389.75,268.99 L392.42,271.24 L395.09,274.88 L397.76,282.75 L400.43,274.7 L403.1,265.87 L405.78,272.96 L408.45,268.99 L411.12,271.79 L413.79,271.39 L416.46,275.64 L419.13,275.24 L421.81,275.22 L424.48,283.92 L427.15,276.89 L429.82,273.56 L432.49,282.65 L435.16,273.7 L437.84,272.27 L440.51,268.9 L443.18,266.02 L445.85,270.21 L448.52,275.4 L451.19,270.71 L453.87,266.02 L456.54,251.12 L459.21,244.81 L461.88,246.69 L464.55,244.11 L467.22,239.47 L469.9,229.58 L472.57,232.65 L475.24,233.29 L477.91,215.69 L480.58,226.51 L483.25,217.69 L485.92,227.42 L488.6,222.6 L491.27,217.08 L493.94,216.34 L496.61,253.03 L499.28,250.56 L501.95,243.2 M371.05,260.65 L373.72,271.12 L376.39,264.66 L379.06,278.22 L381.73,269.7 L384.4,269.28 L387.08,275.15 L389.75,271.29 L392.42,270.87 L395.09,258.4 L397.76,265.75 L400.43,258.53 L403.1,257.53 L405.78,267.94 L408.45,273.25 L411.12,265.42 L413.79,270.6 L416.46,270.69 L419.13,273.23 L421.81,279.82 L424.48,277.82 L427.15,279.37 L429.82,281.63 L432.49,275.87 L435.16,265.01 L437.84,260.26 L440.51,264.83 L443.18,265.31 L445.85,265.4 L448.52,261.38 L451.19,260.73 L453.87,261.88 L456.54,261.91 L459.21,255.28 L461.88,243.44 L464.55,254.76 L467.22,265.96 L469.9,258.42 L472.57,257.88 L475.24,257.6 L477.91,250.55 L480.58,246.85 L483.25,248.86 L485.92,248.61 L488.6,238.25 L491.27,245.21 L493.94,236.41 L496.61,229.27 L499.28,229.12 L501.95,230.49 M371.05,267.9 L373.72,268.47 L376.39,272.5 L379.06,264.72 L381.73,273.5 L384.4,264.01 L387.08,274.07 L389.75,270.95 L392.42,276.48 L395.09,272.35 L397.76,264.77 L400.43,262.04 L403.1,259.41 L405.78,266.2 L408.45,267.9 L411.12,268.34 L413.79,268.16 L416.46,272.35 L419.13,267.22 L421.81,269.51 L424.48,265.63 L427.15,266.75 L429.82,265 L432.49,270.55 L435.16,273.49 L437.84,278.48 L440.51,274.18 L443.18,271.05 L445.85,266.33 L448.52,274.78 L451.19,252.2 L453.87,256.27 L456.54,251.17 L459.21,250.85 L461.88,266.88 L464.55,263.5 L467.22,252.31 L469.9,264.16 L472.57,254.04 L475.24,258.35 L477.91,256.57 L480.58,244.39 L483.25,241.87 L485.92,237.7 L488.6,250.88 L491.27,243.13 L493.94,236.56 L496.61,228.56 L499.28,232.19 L501.95,229.53 M371.05,257.37 L373.72,261.35 L376.39,263.01 L379.06,263.87 L381.73,263.67 L384.4,266.67 L387.08,267.23 L389.75,263.03 L392.42,261.54 L395.09,262.57 L397.76,258.87 L400.43,263.92 L403.1,271.73 L405.78,280.11 L408.45,278.23 L411.12,274.53 L413.79,272.09 L416.46,266.82 L419.13,273.15 L421.81,277.89 L424.48,271.31 L427.15,265.87 L429.82,270.44 L432.49,267.74 L435.16,263.35 L437.84,265.95 L440.51,267.41 L443.18,277.58 L445.85,266.88 L448.52,265.61 L451.19,263.63 L453.87,263.19 L456.54,266.85 L459.21,263.66 L461.88,260.68 L464.55,253.99 L467.22,261.56 L469.9,253.31 L472.57,256.25 L475.24,253.54 L477.91,265.1 L480.58,260.18 L483.25,253.28 L485.92,259.2 L488.6,264.49 L491.27,255.36 L493.94,247.1 L496.61,248.2 L499.28,242.39 L501.95,242.04 M371.05,266.83 L373.72,270.94 L376.39,269.63 L379.06,259.78 L381.73,259.12 L384.4,262.39 L387.08,265.04 L389.75,275.42 L392.42,267.76 L395.09,264.75 L397.76,271.87 L400.43,269.82 L403.1,270.4 L405.78,273.32 L408.45,276.59 L411.12,276.8 L413.79,279.76 L416.46,273.31 L419.13,271.33 L421.81,271.4 L424.48,273.11 L427.15,274.55 L429.82,261.73 L432.49,274.75 L435.16,267.36 L437.84,267.55 L440.51,267.46 L443.18,269.7 L445.85,271 L448.52,276.54 L451.19,276.04 L453.87,266.96 L456.54,270.52 L459.21,260.58 L461.88,253.15 L464.55,273.18 L467.22,268.05 L469.9,255.19 L472.57,249.27 L475.24,248.79 L477.91,247.51 L480.58,237.79 L483.25,233.72 L485.92,231.44 L488.6,232.66 L491.27,227.8 L493.94,225.35 L496.61,220.71 L499.28,231.43 L501.95,234.07 M371.05,255.03 L373.72,252.78 L376.39,258.11 L379.06,255.27 L381.73,260.84 L384.4,263.9 L387.08,273.49 L389.75,274.8 L392.42,273.85 L395.09,265 L397.76,258.28 L400.43,267.03 L403.1,266.29 L405.78,267.47 L408.45,272.84 L411.12,280.28 L413.79,280.34 L416.46,282.99 L419.13,279.05 L421.81,277.15 L424.48,275.66 L427.15,274.47 L429.82,269.44 L432.49,273.55 L435.16,268.34 L437.84,278.04 L440.51,272.2 L443.18,267.34 L445.85,272.77 L448.52,279.34 L451.19,267.19 L453.87,265.76 L456.54,257.82 L459.21,255.21 L461.88,256.31 L464.55,257.45 L467.22,252.09 L469.9,253.77 L472.57,256.84 L475.24,252.91 L477.91,249.84 L480.58,243.38 L483.25,243.69 L485.92,240.17 L488.6,235.38 L491.27,239.51 L493.94,234.33 L496.61,217.23 L499.28,219.51 L501.95,214.51 M371.05,266.34 L373.72,266.33 L376.39,258.53 L379.06,257.17 L381.73,265.02 L384.4,260.27 L387.08,264.84 L389.75,270.44 L392.42,266.84 L395.09,270.95 L397.76,276.99 L400.43,266.75 L403.1,277.05 L405.78,271.04 L408.45,278.14 L411.12,274.26 L413.79,274.88 L416.46,275.56 L419.13,283.39 L421.81,279.64 L424.48,276.08 L427.15,278.26 L429.82,273.9 L432.49,266.03 L435.16,272.93 L437.84,270.53 L440.51,274.8 L443.18,268.57 L445.85,266.23 L448.52,256.25 L451.19,254.71 L453.87,251.58 L456.54,243.3 L459.21,245.86 L461.88,238.11 L464.55,237.98 L467.22,241.78 L469.9,231.48 L472.57,227.83 L475.24,221.54 L477.91,226.07 L480.58,220.91 L483.25,210.55 L485.92,220.3 L488.6,213.9 L491.27,205.55 L493.94,217.53 L496.61,227.88 L499.28,220.12 L501.95,221.78 M371.05,267.17 L373.72,260.58 L376.39,252.69 L379.06,265.03 L381.73,261.18 L384.4,258.88 L387.08,266.1 L389.75,269.21 L392.42,273.29 L395.09,272.95 L397.76,269.13 L400.43,266.22 L403.1,267.02 L405.78,264.83 L408.45,266.61 L411.12,274.39 L413.79,266.69 L416.46,263.74 L419.13,272.06 L421.81,264.48 L424.48,266.57 L427.15,268.68 L429.82,259.71 L432.49,276.44 L435.16,281.64 L437.84,272.03 L440.51,270.77 L443.18,273 L445.85,263.81 L448.52,264.77 L451.19,266.26 L453.87,261.39 L456.54,245.91 L459.21,241.28 L461.88,246.34 L464.55,235.23 L467.22,233.26 L469.9,233.61 L472.57,239.53 L475.24,234.15 L477.91,224.57 L480.58,234.85 L483.25,231.34 L485.92,225.8 L488.6,217.72 L491.27,219.83 L493.94,218.91 L496.61,201.09 L499.28,213.9 L501.95,206.99" stroke="#8a8a8a" stroke-opacity="0.55" stroke-width="0.5"/>
<path d="M371.05,260.98 L375.05,262.06 L378.79,262.52 L385.21,264.23 L389.48,268.88 L395.89,268.11 L403.1,267.49 L410.59,272.75 L416.46,273.22 L425.28,273.69 L431.69,269.5 L438.1,272.75 L442.38,269.5 L448.79,269.5 L454.93,257.88 L463.48,249.35 L472.03,242.06 L476.57,240.82 L482.45,235.56 L491,230.28 L499.55,227.19 L501.95,227.96" stroke="#1a1a1a" stroke-width="1.1"/>
<path d="M371.05,261.75 L376.39,263.3 L384.4,265.16 L391.88,265.78 L397.76,265.47 L403.1,267.95 L408.45,271.82 L412.72,272.91 L417,273.53 L425.28,273.53 L429.82,270.12 L437.84,266.71 L444.51,267.18 L452.8,266.25 L461.88,269.5 L469.9,268.26 L475.24,267.33 L483.25,269.5 L492.34,273.53 L501.95,274.77" stroke="#ff1f1f" stroke-width="1.15" stroke-dasharray="4.5 3.3"/>
</g>
<path d="M364.5,187.3 V289.4 H508.5" fill="none" stroke="#666" stroke-width="0.8"/>
<line x1="361.1" y1="285" x2="364.5" y2="285" stroke="#666" stroke-width="0.8"/>
<text x="357.3" y="287.4" font-size="7.8" fill="#2a2a2a" stroke="#2a2a2a" stroke-width="0.12" text-anchor="end">0</text>
<line x1="361.1" y1="254" x2="364.5" y2="254" stroke="#666" stroke-width="0.8"/>
<text x="357.3" y="256.4" font-size="7.8" fill="#2a2a2a" stroke="#2a2a2a" stroke-width="0.12" text-anchor="end">20</text>
<line x1="361.1" y1="223" x2="364.5" y2="223" stroke="#666" stroke-width="0.8"/>
<text x="357.3" y="225.4" font-size="7.8" fill="#2a2a2a" stroke="#2a2a2a" stroke-width="0.12" text-anchor="end">40</text>
<line x1="361.1" y1="192" x2="364.5" y2="192" stroke="#666" stroke-width="0.8"/>
<text x="357.3" y="194.4" font-size="7.8" fill="#2a2a2a" stroke="#2a2a2a" stroke-width="0.12" text-anchor="end">60</text>
<line x1="379.06" y1="289.4" x2="379.06" y2="292.8" stroke="#666" stroke-width="0.8"/>
<text x="379.06" y="302.3" font-size="7.8" fill="#2a2a2a" stroke="#2a2a2a" stroke-width="0.12" text-anchor="middle">2004</text>
<line x1="408.45" y1="289.4" x2="408.45" y2="292.8" stroke="#666" stroke-width="0.8"/>
<text x="408.45" y="302.3" font-size="7.8" fill="#2a2a2a" stroke="#2a2a2a" stroke-width="0.12" text-anchor="middle">2015</text>
<line x1="437.84" y1="289.4" x2="437.84" y2="292.8" stroke="#666" stroke-width="0.8"/>
<text x="437.84" y="302.3" font-size="7.8" fill="#2a2a2a" stroke="#2a2a2a" stroke-width="0.12" text-anchor="middle">2026</text>
<line x1="469.9" y1="289.4" x2="469.9" y2="292.8" stroke="#666" stroke-width="0.8"/>
<text x="469.9" y="302.3" font-size="7.8" fill="#2a2a2a" stroke="#2a2a2a" stroke-width="0.12" text-anchor="middle">2038</text>
<line x1="501.95" y1="289.4" x2="501.95" y2="292.8" stroke="#666" stroke-width="0.8"/>
<text x="501.95" y="302.3" font-size="7.8" fill="#2a2a2a" stroke="#2a2a2a" stroke-width="0.12" text-anchor="middle">2050</text>
<path d="M379.25,198.04 L376.65,190.13 L376.07,190.28 L377.6,198.46Z M379.83,198.32 L380.3,190.32 L379.71,190.24 L378.15,198.1Z M378.4,198.02 L372.48,192.46 L372.05,192.87 L377.16,199.18Z M380.41,199.09 L384.83,192.88 L384.37,192.5 L379.1,198Z M380.52,199.73 L386.93,195.61 L386.65,195.08 L379.71,198.24Z M377.55,198.51 L369.17,196.99 L369.02,197.57 L377.14,200.16Z M380.23,200.66 L388.25,200.73 L388.3,200.13 L380.36,198.97Z M377.19,199.08 L369.06,200.85 L369.15,201.45 L377.44,200.76Z M379.52,201.27 L386.42,205.55 L386.77,205.06 L380.51,199.89Z M377.12,200.07 L371.1,206.25 L371.51,206.69 L378.26,201.34Z M378.95,201.42 L383.88,207.62 L384.37,207.28 L380.35,200.45Z M377.35,200.63 L373.92,208.32 L374.45,208.6 L378.85,201.42Z M377.92,201.18 L378.26,210.39 L378.86,210.4 L379.62,201.22Z" fill="#222" stroke="#222" stroke-width="0.25" stroke-linejoin="round"/><circle cx="378.8" cy="199.7" r="2.6" fill="#222"/>
<line x1="553.06" y1="187.3" x2="553.06" y2="289.4" stroke="#bbb" stroke-width="1.1" stroke-dasharray="2.8 2.4"/>
<line x1="611.84" y1="187.3" x2="611.84" y2="289.4" stroke="#bbb" stroke-width="1.1" stroke-dasharray="2.8 2.4"/>
<clipPath id="cp13"><rect x="538.5" y="187.3" width="144" height="102.1"/></clipPath>
<g clip-path="url(#cp13)" fill="none" stroke-linejoin="round" stroke-linecap="round">
<path d="M545.05,224.65 L547.72,232.64 L550.39,230.84 L553.06,228.65 L555.73,229.63 L558.4,226.45 L561.08,223.68 L563.75,221.14 L566.42,243.03 L569.09,243.56 L571.76,240.36 L574.43,240.85 L577.1,237.96 L579.78,235.88 L582.45,237.71 L585.12,236.3 L587.79,236.95 L590.46,235.18 L593.13,236.12 L595.81,236.66 L598.48,230.02 L601.15,229.61 L603.82,232.46 L606.49,225.53 L609.16,226.6 L611.84,226.9 L614.51,223.28 L617.18,219.37 L619.85,214.4 L622.52,213.59 L625.19,226.2 L627.87,224.15 L630.54,221.79 L633.21,215.61 L635.88,226.84 L638.55,221.98 L641.22,230.46 L643.9,234.89 L646.57,236.23 L649.24,236.96 L651.91,236.56 L654.58,238.1 L657.25,234.86 L659.92,244.78 L662.6,249.83 L665.27,246.66 L667.94,245.58 L670.61,240.05 L673.28,241.61 L675.95,241.9 M545.05,220.36 L547.72,229.37 L550.39,226.71 L553.06,227.69 L555.73,228.43 L558.4,224.85 L561.08,220.91 L563.75,220.67 L566.42,242.4 L569.09,241.95 L571.76,242.12 L574.43,238.52 L577.1,236.32 L579.78,230.32 L582.45,233.25 L585.12,229.6 L587.79,229.48 L590.46,225.98 L593.13,226.84 L595.81,222.45 L598.48,222.4 L601.15,222.37 L603.82,219 L606.49,214.76 L609.16,212.3 L611.84,215 L614.51,219.49 L617.18,219.68 L619.85,218.68 L622.52,218.74 L625.19,215.82 L627.87,222.64 L630.54,220.56 L633.21,219.65 L635.88,231.11 L638.55,226.42 L641.22,220.86 L643.9,217.18 L646.57,212.67 L649.24,218.39 L651.91,227.1 L654.58,232.15 L657.25,233.24 L659.92,224.58 L662.6,220.18 L665.27,224.84 L667.94,235.12 L670.61,230.9 L673.28,230.12 L675.95,231.21 M545.05,233.63 L547.72,239.9 L550.39,237.31 L553.06,238.32 L555.73,240.31 L558.4,238.34 L561.08,235.17 L563.75,235.48 L566.42,249.15 L569.09,250.82 L571.76,246.3 L574.43,247.51 L577.1,242.75 L579.78,243.25 L582.45,243.78 L585.12,243.99 L587.79,243.78 L590.46,241.23 L593.13,238.24 L595.81,238.34 L598.48,240.62 L601.15,232.57 L603.82,226.88 L606.49,227 L609.16,229.48 L611.84,241.22 L614.51,241.97 L617.18,247.02 L619.85,250.32 L622.52,251.4 L625.19,248.02 L627.87,247.41 L630.54,241.75 L633.21,252.52 L635.88,245.94 L638.55,249.78 L641.22,250.29 L643.9,250.14 L646.57,254.38 L649.24,252 L651.91,251.4 L654.58,249.82 L657.25,250.79 L659.92,253.71 L662.6,250.73 L665.27,245.51 L667.94,254.31 L670.61,251.03 L673.28,262.71 L675.95,258.73 M545.05,227.37 L547.72,232.13 L550.39,232.11 L553.06,231.09 L555.73,231.41 L558.4,233.91 L561.08,232.51 L563.75,232.73 L566.42,248.14 L569.09,247.93 L571.76,248.04 L574.43,245.26 L577.1,243.52 L579.78,240.8 L582.45,240.72 L585.12,238.14 L587.79,236.62 L590.46,235.9 L593.13,236.38 L595.81,234.34 L598.48,237.24 L601.15,236.66 L603.82,231.92 L606.49,231.36 L609.16,230.09 L611.84,228.69 L614.51,236.58 L617.18,244.48 L619.85,245.06 L622.52,240 L625.19,248.48 L627.87,246.23 L630.54,245.83 L633.21,247.64 L635.88,251.59 L638.55,255.3 L641.22,255.5 L643.9,249.33 L646.57,252.65 L649.24,258.09 L651.91,256.77 L654.58,256.81 L657.25,266.04 L659.92,260.45 L662.6,257.83 L665.27,252.74 L667.94,247 L670.61,251.31 L673.28,262.25 L675.95,261.75 M545.05,229.68 L547.72,233.87 L550.39,233.06 L553.06,230.77 L555.73,231.95 L558.4,231.63 L561.08,227.48 L563.75,227.66 L566.42,244.48 L569.09,246.03 L571.76,245.03 L574.43,243.62 L577.1,239.5 L579.78,239.6 L582.45,238.24 L585.12,241.08 L587.79,239.81 L590.46,236.91 L593.13,233.84 L595.81,235.5 L598.48,237.91 L601.15,232.52 L603.82,233.72 L606.49,229.3 L609.16,230.38 L611.84,225.88 L614.51,230.43 L617.18,239.87 L619.85,239.02 L622.52,239.37 L625.19,237.58 L627.87,236.84 L630.54,237.45 L633.21,234.49 L635.88,249.03 L638.55,249.92 L641.22,250.08 L643.9,248.32 L646.57,243.99 L649.24,244.57 L651.91,249.8 L654.58,250.19 L657.25,246.94 L659.92,255.12 L662.6,251.35 L665.27,259.6 L667.94,253.28 L670.61,259.77 L673.28,258.95 L675.95,259.52 M545.05,219.01 L547.72,226.32 L550.39,227.7 L553.06,223.3 L555.73,223.36 L558.4,223.79 L561.08,221.85 L563.75,223.32 L566.42,243.29 L569.09,246.01 L571.76,243.65 L574.43,241.99 L577.1,235.41 L579.78,232.15 L582.45,233.12 L585.12,231.32 L587.79,227.67 L590.46,228.93 L593.13,227.35 L595.81,225.89 L598.48,216.67 L601.15,215.24 L603.82,219.34 L606.49,213.98 L609.16,204.06 L611.84,223.38 L614.51,216.17 L617.18,215.84 L619.85,215.09 L622.52,219.26 L625.19,219.57 L627.87,215.55 L630.54,222.22 L633.21,228.63 L635.88,222.14 L638.55,231.23 L641.22,230.43 L643.9,229.07 L646.57,241.78 L649.24,246.68 L651.91,247.38 L654.58,248.62 L657.25,246.54 L659.92,245.71 L662.6,241.23 L665.27,240.39 L667.94,239.43 L670.61,235.05 L673.28,229.17 L675.95,222.58 M545.05,236.49 L547.72,242.76 L550.39,238.78 L553.06,235.45 L555.73,234.82 L558.4,234.33 L561.08,231.96 L563.75,231.66 L566.42,249.58 L569.09,253.08 L571.76,254.69 L574.43,252.31 L577.1,250.26 L579.78,248.37 L582.45,248.59 L585.12,248.14 L587.79,248.94 L590.46,251.78 L593.13,254.19 L595.81,247.15 L598.48,242.71 L601.15,245.13 L603.82,242.55 L606.49,238.74 L609.16,232.46 L611.84,231.92 L614.51,229.65 L617.18,232.76 L619.85,234.39 L622.52,234.39 L625.19,231.19 L627.87,229.4 L630.54,223.77 L633.21,221.75 L635.88,220.43 L638.55,221.69 L641.22,220.84 L643.9,220.68 L646.57,226.49 L649.24,227.25 L651.91,232.82 L654.58,235.73 L657.25,235.17 L659.92,237.45 L662.6,232.19 L665.27,229.42 L667.94,231.76 L670.61,245.46 L673.28,246.76 L675.95,253.82 M545.05,227.91 L547.72,235.93 L550.39,234.67 L553.06,233.87 L555.73,231.81 L558.4,231.5 L561.08,232.28 L563.75,231.85 L566.42,245.1 L569.09,246.89 L571.76,245.19 L574.43,244.63 L577.1,240.51 L579.78,239.38 L582.45,241.69 L585.12,243.61 L587.79,242.38 L590.46,239.46 L593.13,236.24 L595.81,238.76 L598.48,232.73 L601.15,232.31 L603.82,233.43 L606.49,231.03 L609.16,232.64 L611.84,244.47 L614.51,240.14 L617.18,250.44 L619.85,252.56 L622.52,256.27 L625.19,251.33 L627.87,248.23 L630.54,246.79 L633.21,246.31 L635.88,250.08 L638.55,245.93 L641.22,244.08 L643.9,242.11 L646.57,243.47 L649.24,244.6 L651.91,252.35 L654.58,256.66 L657.25,257.55 L659.92,265.72 L662.6,262.89 L665.27,256.73 L667.94,260.87 L670.61,262.12 L673.28,258.29 L675.95,258.59 M545.05,224.62 L547.72,229.94 L550.39,229.6 L553.06,228.47 L555.73,228.37 L558.4,224.84 L561.08,217.94 L563.75,214.72 L566.42,240.57 L569.09,240.34 L571.76,240.12 L574.43,237.08 L577.1,232.51 L579.78,229.7 L582.45,229.1 L585.12,228.97 L587.79,232.31 L590.46,235.92 L593.13,232.8 L595.81,227.86 L598.48,222.03 L601.15,221.03 L603.82,217.6 L606.49,214.74 L609.16,210.32 L611.84,228.15 L614.51,230.74 L617.18,226.96 L619.85,225.31 L622.52,221.63 L625.19,219.2 L627.87,215.95 L630.54,216.15 L633.21,217.1 L635.88,219.18 L638.55,221.34 L641.22,232.92 L643.9,243.01 L646.57,245.1 L649.24,245.39 L651.91,244.43 L654.58,253.01 L657.25,256.37 L659.92,255.59 L662.6,254.89 L665.27,253.61 L667.94,251.6 L670.61,253.12 L673.28,250 L675.95,258.59 M545.05,231.56 L547.72,235.93 L550.39,234.78 L553.06,233.53 L555.73,235.11 L558.4,234.21 L561.08,233.96 L563.75,228.81 L566.42,245.99 L569.09,246.89 L571.76,244.53 L574.43,243.49 L577.1,241.95 L579.78,240.87 L582.45,243.85 L585.12,245.16 L587.79,245.11 L590.46,241.35 L593.13,241.67 L595.81,240.96 L598.48,240.94 L601.15,236.41 L603.82,227.42 L606.49,230.48 L609.16,228.69 L611.84,227.92 L614.51,231.94 L617.18,227.61 L619.85,232.21 L622.52,232.36 L625.19,225.15 L627.87,225.99 L630.54,221.23 L633.21,219.27 L635.88,216.61 L638.55,232.05 L641.22,234.32 L643.9,248.21 L646.57,245.19 L649.24,247.14 L651.91,256.45 L654.58,256.77 L657.25,252.65 L659.92,249.08 L662.6,245.92 L665.27,243.24 L667.94,243.77 L670.61,239.16 L673.28,237.51 L675.95,237.25 M545.05,229.92 L547.72,238.09 L550.39,236.94 L553.06,233.25 L555.73,230.94 L558.4,234.02 L561.08,232.11 L563.75,233.67 L566.42,248.59 L569.09,243.86 L571.76,242.7 L574.43,242 L577.1,241.48 L579.78,242.22 L582.45,246.75 L585.12,245.03 L587.79,243.44 L590.46,238.56 L593.13,241.46 L595.81,237.77 L598.48,232.47 L601.15,237.15 L603.82,231.48 L606.49,235.14 L609.16,231.58 L611.84,225.91 L614.51,234.52 L617.18,237.65 L619.85,250.16 L622.52,251.53 L625.19,250.27 L627.87,251.29 L630.54,249.41 L633.21,243.81 L635.88,248.09 L638.55,245.02 L641.22,243.36 L643.9,233.74 L646.57,230.27 L649.24,226.99 L651.91,226.56 L654.58,226.84 L657.25,230.01 L659.92,231.52 L662.6,232.73 L665.27,239.58 L667.94,232.21 L670.61,229.62 L673.28,236.96 L675.95,234.02 M545.05,236.75 L547.72,241.75 L550.39,237.83 L553.06,236.73 L555.73,235.35 L558.4,235.65 L561.08,235.49 L563.75,235.49 L566.42,249.77 L569.09,250.3 L571.76,249.05 L574.43,245.47 L577.1,245.8 L579.78,247.97 L582.45,246.91 L585.12,246.82 L587.79,245.31 L590.46,238.24 L593.13,233.95 L595.81,232.35 L598.48,230.35 L601.15,230.15 L603.82,226.1 L606.49,228.72 L609.16,232.1 L611.84,226.48 L614.51,223.29 L617.18,216.91 L619.85,219.55 L622.52,220.3 L625.19,219.85 L627.87,219.2 L630.54,221.72 L633.21,230.14 L635.88,231.41 L638.55,231.07 L641.22,228.87 L643.9,224.36 L646.57,224.59 L649.24,235.61 L651.91,231.2 L654.58,236.25 L657.25,235.9 L659.92,237.89 L662.6,240 L665.27,236.87 L667.94,234.19 L670.61,236.15 L673.28,236.28 L675.95,253.63 M545.05,234.99 L547.72,241.56 L550.39,242.08 L553.06,240.55 L555.73,243.96 L558.4,241.79 L561.08,239.62 L563.75,238.47 L566.42,248.81 L569.09,249.7 L571.76,249.84 L574.43,250.21 L577.1,248.74 L579.78,245.39 L582.45,248.42 L585.12,250.38 L587.79,246.86 L590.46,246.87 L593.13,246.02 L595.81,239.08 L598.48,243.44 L601.15,241.72 L603.82,245.63 L606.49,244.64 L609.16,241.71 L611.84,228.68 L614.51,230.01 L617.18,230.6 L619.85,223.51 L622.52,225.93 L625.19,231.98 L627.87,231.09 L630.54,230.89 L633.21,242.67 L635.88,238.93 L638.55,244.92 L641.22,241.25 L643.9,235.63 L646.57,249.2 L649.24,260.19 L651.91,258.13 L654.58,259.2 L657.25,260.2 L659.92,260.99 L662.6,255.16 L665.27,253.4 L667.94,252.98 L670.61,249.21 L673.28,246.78 L675.95,257.36 M545.05,229.34 L547.72,235.78 L550.39,234.85 L553.06,230.27 L555.73,231.6 L558.4,231.57 L561.08,230.47 L563.75,231.1 L566.42,248.62 L569.09,249.36 L571.76,248.75 L574.43,245.28 L577.1,245.35 L579.78,244.08 L582.45,243.37 L585.12,242.72 L587.79,240.06 L590.46,237.75 L593.13,241.19 L595.81,240.24 L598.48,241.5 L601.15,234.46 L603.82,232.24 L606.49,229.04 L609.16,223.08 L611.84,227.67 L614.51,226.19 L617.18,235.39 L619.85,233.46 L622.52,230.44 L625.19,238.76 L627.87,240.54 L630.54,251.96 L633.21,250.34 L635.88,251.21 L638.55,248.22 L641.22,250.3 L643.9,253.23 L646.57,251.96 L649.24,256.46 L651.91,257.32 L654.58,253.63 L657.25,251.38 L659.92,244.42 L662.6,236.98 L665.27,233.6 L667.94,231.11 L670.61,228.05 L673.28,229.23 L675.95,236.78 M545.05,236.72 L547.72,244.12 L550.39,239.4 L553.06,237.28 L555.73,239.36 L558.4,238.91 L561.08,238.93 L563.75,243.24 L566.42,251.01 L569.09,249.77 L571.76,250.65 L574.43,250.06 L577.1,247.7 L579.78,246.78 L582.45,249.53 L585.12,249.52 L587.79,248.27 L590.46,248.85 L593.13,246.29 L595.81,245.03 L598.48,245.98 L601.15,243.46 L603.82,245.65 L606.49,237.99 L609.16,243.65 L611.84,232.37 L614.51,235.52 L617.18,235.39 L619.85,232.21 L622.52,225.88 L625.19,224.27 L627.87,224.27 L630.54,225.34 L633.21,224.86 L635.88,223.88 L638.55,222.16 L641.22,222.71 L643.9,223.66 L646.57,238.5 L649.24,237.06 L651.91,240.21 L654.58,243.13 L657.25,240.6 L659.92,239.11 L662.6,236.07 L665.27,229.68 L667.94,242.41 L670.61,248.18 L673.28,245.79 L675.95,244.51 M545.05,236.76 L547.72,241.53 L550.39,238.14 L553.06,236.69 L555.73,237.72 L558.4,239.72 L561.08,237.52 L563.75,235.9 L566.42,247.95 L569.09,248.91 L571.76,248.81 L574.43,247.87 L577.1,247.39 L579.78,246.59 L582.45,252.4 L585.12,254.5 L587.79,254.84 L590.46,252.07 L593.13,250.07 L595.81,247.51 L598.48,243 L601.15,244.85 L603.82,238.52 L606.49,236.53 L609.16,239.59 L611.84,229.67 L614.51,230.05 L617.18,229.5 L619.85,224.75 L622.52,225.59 L625.19,236.95 L627.87,242.86 L630.54,238.16 L633.21,234.96 L635.88,229.99 L638.55,226.21 L641.22,225.52 L643.9,233.2 L646.57,233.19 L649.24,236.36 L651.91,236.24 L654.58,252.52 L657.25,266.69 L659.92,265.27 L662.6,259.21 L665.27,267.42 L667.94,265.96 L670.61,261.05 L673.28,256.2 L675.95,256.73 M545.05,230.7 L547.72,238.96 L550.39,237.68 L553.06,234.67 L555.73,234.17 L558.4,234.89 L561.08,229.98 L563.75,230.59 L566.42,245.56 L569.09,246.41 L571.76,244.66 L574.43,244.67 L577.1,242.51 L579.78,242.05 L582.45,246.09 L585.12,244.27 L587.79,242.12 L590.46,238.99 L593.13,236.57 L595.81,237.61 L598.48,237.77 L601.15,242.42 L603.82,240.96 L606.49,232.68 L609.16,226.08 L611.84,222.8 L614.51,239.83 L617.18,238.48 L619.85,247.33 L622.52,248.37 L625.19,253.19 L627.87,251.5 L630.54,251.1 L633.21,250.28 L635.88,249.48 L638.55,245.46 L641.22,242.98 L643.9,243.22 L646.57,246.69 L649.24,248.23 L651.91,246.45 L654.58,244.58 L657.25,242.54 L659.92,247.79 L662.6,261.91 L665.27,256.93 L667.94,257.41 L670.61,250.97 L673.28,253.03 L675.95,250.37 M545.05,228.16 L547.72,233.07 L550.39,229.62 L553.06,229.57 L555.73,223.67 L558.4,224.88 L561.08,223.25 L563.75,224.52 L566.42,243.76 L569.09,244.39 L571.76,244.93 L574.43,245.27 L577.1,242.19 L579.78,240.18 L582.45,246.02 L585.12,248.37 L587.79,245.57 L590.46,243.45 L593.13,238.8 L595.81,239.53 L598.48,235.34 L601.15,233.52 L603.82,231.51 L606.49,229.34 L609.16,224.59 L611.84,231.13 L614.51,242.95 L617.18,245.01 L619.85,248.03 L622.52,248.31 L625.19,244.71 L627.87,252.38 L630.54,253.83 L633.21,251.17 L635.88,247.55 L638.55,241.35 L641.22,247.64 L643.9,246.83 L646.57,249.13 L649.24,249.83 L651.91,252.69 L654.58,249.14 L657.25,248.78 L659.92,250.62 L662.6,249.45 L665.27,251.44 L667.94,244.98 L670.61,241.99 L673.28,240.03 L675.95,237.92 M545.05,227.84 L547.72,231.48 L550.39,231.06 L553.06,232.65 L555.73,229.01 L558.4,228.88 L561.08,228.62 L563.75,227.48 L566.42,245.59 L569.09,248.24 L571.76,246.85 L574.43,247.26 L577.1,244.59 L579.78,242.85 L582.45,241.41 L585.12,241.11 L587.79,239.04 L590.46,239.69 L593.13,239.29 L595.81,241.34 L598.48,236.67 L601.15,234.23 L603.82,233.46 L606.49,230.92 L609.16,231.88 L611.84,231.3 L614.51,228.99 L617.18,223.14 L619.85,224.06 L622.52,225.63 L625.19,222.03 L627.87,219.41 L630.54,222.05 L633.21,234.27 L635.88,242.43 L638.55,234.98 L641.22,229.47 L643.9,231.19 L646.57,233.43 L649.24,231.21 L651.91,234.41 L654.58,235.92 L657.25,244.27 L659.92,243.78 L662.6,246.37 L665.27,240.53 L667.94,235.4 L670.61,237.57 L673.28,251.37 L675.95,255.39 M545.05,221.43 L547.72,225.94 L550.39,226.12 L553.06,223.59 L555.73,224.05 L558.4,226.16 L561.08,221.2 L563.75,222.74 L566.42,241.58 L569.09,241.9 L571.76,241.19 L574.43,240.15 L577.1,238.63 L579.78,237.48 L582.45,236.76 L585.12,238.93 L587.79,232.98 L590.46,229.63 L593.13,224.14 L595.81,225.44 L598.48,230.65 L601.15,228.81 L603.82,224.68 L606.49,220.36 L609.16,220.47 L611.84,221.69 L614.51,220.02 L617.18,220.87 L619.85,218.02 L622.52,230.75 L625.19,226.62 L627.87,235.41 L630.54,239.09 L633.21,237.52 L635.88,228.33 L638.55,241.66 L641.22,239.24 L643.9,237.06 L646.57,238.2 L649.24,239.49 L651.91,243.95 L654.58,245.48 L657.25,242.06 L659.92,242.45 L662.6,237.26 L665.27,231.81 L667.94,232.07 L670.61,241.75 L673.28,247.16 L675.95,242.24" stroke="#8a8a8a" stroke-opacity="0.55" stroke-width="0.5"/>
<path d="M545.05,230.27 L547.72,236.21 L553.06,232.93 L559.21,232.72 L563.48,227.81 L565.62,246.25 L569.09,247.07 L573.9,245.23 L579.24,240.93 L583.52,243.38 L593.13,238.88 L601.42,234.57 L607.83,229.24 L611.84,229.24 L615.31,231.91 L622.79,234.57 L633.21,236.21 L643.9,237.24 L650.31,242.97 L655.38,247.69 L660.73,248.31 L664.73,245.23 L671.15,245.64 L675.95,248.31" stroke="#1a1a1a" stroke-width="1.1"/>
<path d="M545.05,230.27 L547.72,235.8 L553.06,232.93 L558.4,232.72 L563.48,227.6 L565.62,247.07 L569.09,247.07 L573.9,245.23 L579.24,240.93 L583.52,245.03 L593.13,238.88 L601.15,234.16 L607.83,229.24 L611.84,228.62 L615.31,231.91 L622.52,233.13 L633.21,235.8 L643.9,237.24 L650.57,240.93 L657.25,242.36 L665.27,239.9 L670.61,238.88 L675.95,242.36" stroke="#ff1f1f" stroke-width="1.15" stroke-dasharray="4.5 3.3"/>
</g>
<path d="M538.5,187.3 V289.4 H682.5" fill="none" stroke="#666" stroke-width="0.8"/>
<line x1="535.1" y1="285" x2="538.5" y2="285" stroke="#666" stroke-width="0.8"/>
<text x="531.3" y="287.4" font-size="7.8" fill="#2a2a2a" stroke="#2a2a2a" stroke-width="0.12" text-anchor="end">0</text>
<line x1="535.1" y1="264.5" x2="538.5" y2="264.5" stroke="#666" stroke-width="0.8"/>
<text x="531.3" y="266.9" font-size="7.8" fill="#2a2a2a" stroke="#2a2a2a" stroke-width="0.12" text-anchor="end">10</text>
<line x1="535.1" y1="244" x2="538.5" y2="244" stroke="#666" stroke-width="0.8"/>
<text x="531.3" y="246.4" font-size="7.8" fill="#2a2a2a" stroke="#2a2a2a" stroke-width="0.12" text-anchor="end">20</text>
<line x1="535.1" y1="223.5" x2="538.5" y2="223.5" stroke="#666" stroke-width="0.8"/>
<text x="531.3" y="225.9" font-size="7.8" fill="#2a2a2a" stroke="#2a2a2a" stroke-width="0.12" text-anchor="end">30</text>
<line x1="535.1" y1="203" x2="538.5" y2="203" stroke="#666" stroke-width="0.8"/>
<text x="531.3" y="205.4" font-size="7.8" fill="#2a2a2a" stroke="#2a2a2a" stroke-width="0.12" text-anchor="end">40</text>
<line x1="553.06" y1="289.4" x2="553.06" y2="292.8" stroke="#666" stroke-width="0.8"/>
<text x="553.06" y="302.3" font-size="7.8" fill="#2a2a2a" stroke="#2a2a2a" stroke-width="0.12" text-anchor="middle">2004</text>
<line x1="582.45" y1="289.4" x2="582.45" y2="292.8" stroke="#666" stroke-width="0.8"/>
<text x="582.45" y="302.3" font-size="7.8" fill="#2a2a2a" stroke="#2a2a2a" stroke-width="0.12" text-anchor="middle">2015</text>
<line x1="611.84" y1="289.4" x2="611.84" y2="292.8" stroke="#666" stroke-width="0.8"/>
<text x="611.84" y="302.3" font-size="7.8" fill="#2a2a2a" stroke="#2a2a2a" stroke-width="0.12" text-anchor="middle">2026</text>
<line x1="643.9" y1="289.4" x2="643.9" y2="292.8" stroke="#666" stroke-width="0.8"/>
<text x="643.9" y="302.3" font-size="7.8" fill="#2a2a2a" stroke="#2a2a2a" stroke-width="0.12" text-anchor="middle">2038</text>
<line x1="675.95" y1="289.4" x2="675.95" y2="292.8" stroke="#666" stroke-width="0.8"/>
<text x="675.95" y="302.3" font-size="7.8" fill="#2a2a2a" stroke="#2a2a2a" stroke-width="0.12" text-anchor="middle">2050</text>
<path d="M548.2,206.8 L550.6,206 L552.6,207.6 M556.8,208.6 L559.5,207.6 L561.6,206.6" fill="none" stroke="#999" stroke-width="0.6"/><path d="M555.38,196.23 a0.6,0.6 0 1,0 1.2,0 a0.6,0.6 0 1,0 -1.2,0Z M554.13,194.64 a0.6,0.6 0 1,0 1.2,0 a0.6,0.6 0 1,0 -1.2,0Z M555.55,196.91 a0.6,0.6 0 1,0 1.2,0 a0.6,0.6 0 1,0 -1.2,0Z M555.05,195.3 a0.6,0.6 0 1,0 1.2,0 a0.6,0.6 0 1,0 -1.2,0Z M555.89,194.25 a0.6,0.6 0 1,0 1.2,0 a0.6,0.6 0 1,0 -1.2,0Z M553.43,196.26 a0.6,0.6 0 1,0 1.2,0 a0.6,0.6 0 1,0 -1.2,0Z M553.85,193.74 a0.6,0.6 0 1,0 1.2,0 a0.6,0.6 0 1,0 -1.2,0Z M555.55,196.66 a0.6,0.6 0 1,0 1.2,0 a0.6,0.6 0 1,0 -1.2,0Z M553.71,193.27 a0.6,0.6 0 1,0 1.2,0 a0.6,0.6 0 1,0 -1.2,0Z M555,193.14 a0.6,0.6 0 1,0 1.2,0 a0.6,0.6 0 1,0 -1.2,0Z M555.6,194.81 L557.58,194.5 M555.17,195.65 L555.73,198.14 M554.43,194.64 L552.55,193.78 M554.4,194.98 L552.41,195.25 M554.64,195.52 L553.43,197.59 M554.5,194.48 L552.82,193.06 M548.81,200.08 a0.6,0.6 0 1,0 1.2,0 a0.6,0.6 0 1,0 -1.2,0Z M549.23,196.6 a0.6,0.6 0 1,0 1.2,0 a0.6,0.6 0 1,0 -1.2,0Z M547.26,197.72 a0.6,0.6 0 1,0 1.2,0 a0.6,0.6 0 1,0 -1.2,0Z M550.73,198.82 a0.6,0.6 0 1,0 1.2,0 a0.6,0.6 0 1,0 -1.2,0Z M547.7,197.89 a0.6,0.6 0 1,0 1.2,0 a0.6,0.6 0 1,0 -1.2,0Z M548.06,196.2 a0.6,0.6 0 1,0 1.2,0 a0.6,0.6 0 1,0 -1.2,0Z M549.59,196.59 a0.6,0.6 0 1,0 1.2,0 a0.6,0.6 0 1,0 -1.2,0Z M549.74,197.68 a0.6,0.6 0 1,0 1.2,0 a0.6,0.6 0 1,0 -1.2,0Z M547.59,199.09 a0.6,0.6 0 1,0 1.2,0 a0.6,0.6 0 1,0 -1.2,0Z M550.4,196.01 a0.6,0.6 0 1,0 1.2,0 a0.6,0.6 0 1,0 -1.2,0Z M548.42,197.73 a0.6,0.6 0 1,0 1.2,0 a0.6,0.6 0 1,0 -1.2,0Z M549.99,199.93 a0.6,0.6 0 1,0 1.2,0 a0.6,0.6 0 1,0 -1.2,0Z M546.51,198.02 a0.6,0.6 0 1,0 1.2,0 a0.6,0.6 0 1,0 -1.2,0Z M549.93,197.7 L552.38,198.71 M549.96,197.59 L552.5,198.23 M549.64,196.66 L551.12,194.19 M548.54,196.93 L546.32,195.35 M548.92,198.24 L547.98,201.04 M548.88,198.22 L547.81,200.96 M559.95,198.63 a0.6,0.6 0 1,0 1.2,0 a0.6,0.6 0 1,0 -1.2,0Z M561.44,198.37 a0.6,0.6 0 1,0 1.2,0 a0.6,0.6 0 1,0 -1.2,0Z M558.06,198.15 a0.6,0.6 0 1,0 1.2,0 a0.6,0.6 0 1,0 -1.2,0Z M558.92,196.44 a0.6,0.6 0 1,0 1.2,0 a0.6,0.6 0 1,0 -1.2,0Z M560.93,198.87 a0.6,0.6 0 1,0 1.2,0 a0.6,0.6 0 1,0 -1.2,0Z M559.35,197.57 a0.6,0.6 0 1,0 1.2,0 a0.6,0.6 0 1,0 -1.2,0Z M559.4,196.55 a0.6,0.6 0 1,0 1.2,0 a0.6,0.6 0 1,0 -1.2,0Z M559.3,198.14 a0.6,0.6 0 1,0 1.2,0 a0.6,0.6 0 1,0 -1.2,0Z M558.39,200.61 a0.6,0.6 0 1,0 1.2,0 a0.6,0.6 0 1,0 -1.2,0Z M556.51,198.03 a0.6,0.6 0 1,0 1.2,0 a0.6,0.6 0 1,0 -1.2,0Z M559.31,199.71 a0.6,0.6 0 1,0 1.2,0 a0.6,0.6 0 1,0 -1.2,0Z M558.86,201.16 a0.6,0.6 0 1,0 1.2,0 a0.6,0.6 0 1,0 -1.2,0Z M560.47,197.2 a0.6,0.6 0 1,0 1.2,0 a0.6,0.6 0 1,0 -1.2,0Z M557.61,198.62 a0.6,0.6 0 1,0 1.2,0 a0.6,0.6 0 1,0 -1.2,0Z M558.99,197.24 a0.6,0.6 0 1,0 1.2,0 a0.6,0.6 0 1,0 -1.2,0Z M560.34,198.31 L562.8,199.66 M558.93,198.46 L556.71,200.33 M559.62,198.89 L559.71,202.19 M560.06,197.08 L561.58,194.36 M559.56,196.91 L559.42,193.62 M558.82,197.62 L556.23,196.68 M544.39,201.25 a0.6,0.6 0 1,0 1.2,0 a0.6,0.6 0 1,0 -1.2,0Z M546.4,200.56 a0.6,0.6 0 1,0 1.2,0 a0.6,0.6 0 1,0 -1.2,0Z M547.29,205.15 a0.6,0.6 0 1,0 1.2,0 a0.6,0.6 0 1,0 -1.2,0Z M547.12,204.82 a0.6,0.6 0 1,0 1.2,0 a0.6,0.6 0 1,0 -1.2,0Z M546.48,200.63 a0.6,0.6 0 1,0 1.2,0 a0.6,0.6 0 1,0 -1.2,0Z M545.83,202.76 a0.6,0.6 0 1,0 1.2,0 a0.6,0.6 0 1,0 -1.2,0Z M544.98,204.21 a0.6,0.6 0 1,0 1.2,0 a0.6,0.6 0 1,0 -1.2,0Z M547.01,203.29 a0.6,0.6 0 1,0 1.2,0 a0.6,0.6 0 1,0 -1.2,0Z M545.87,205.03 a0.6,0.6 0 1,0 1.2,0 a0.6,0.6 0 1,0 -1.2,0Z M548.57,204.31 a0.6,0.6 0 1,0 1.2,0 a0.6,0.6 0 1,0 -1.2,0Z M544.96,202.42 a0.6,0.6 0 1,0 1.2,0 a0.6,0.6 0 1,0 -1.2,0Z M544.9,203.31 a0.6,0.6 0 1,0 1.2,0 a0.6,0.6 0 1,0 -1.2,0Z M544.62,202.4 a0.6,0.6 0 1,0 1.2,0 a0.6,0.6 0 1,0 -1.2,0Z M546.85,203.54 a0.6,0.6 0 1,0 1.2,0 a0.6,0.6 0 1,0 -1.2,0Z M543.4,202.51 a0.6,0.6 0 1,0 1.2,0 a0.6,0.6 0 1,0 -1.2,0Z M545.97,204.08 L544.52,206.66 M545.8,202.62 L543.82,200.34 M545.83,204 L543.91,206.32 M547.05,203.94 L549.24,206.06 M546.02,204.1 L544.74,206.76 M545.64,203.83 L543.11,205.61 M560.8,204.49 a0.6,0.6 0 1,0 1.2,0 a0.6,0.6 0 1,0 -1.2,0Z M561.64,205.79 a0.6,0.6 0 1,0 1.2,0 a0.6,0.6 0 1,0 -1.2,0Z M562.33,204.4 a0.6,0.6 0 1,0 1.2,0 a0.6,0.6 0 1,0 -1.2,0Z M559.91,204.33 a0.6,0.6 0 1,0 1.2,0 a0.6,0.6 0 1,0 -1.2,0Z M560.79,203.12 a0.6,0.6 0 1,0 1.2,0 a0.6,0.6 0 1,0 -1.2,0Z M561.11,206.13 a0.6,0.6 0 1,0 1.2,0 a0.6,0.6 0 1,0 -1.2,0Z M562.15,205.53 a0.6,0.6 0 1,0 1.2,0 a0.6,0.6 0 1,0 -1.2,0Z M559.68,202.88 a0.6,0.6 0 1,0 1.2,0 a0.6,0.6 0 1,0 -1.2,0Z M560.18,203.71 a0.6,0.6 0 1,0 1.2,0 a0.6,0.6 0 1,0 -1.2,0Z M560.4,203.79 a0.6,0.6 0 1,0 1.2,0 a0.6,0.6 0 1,0 -1.2,0Z M561.17,205.43 L562.72,207.18 M560.14,205.34 L558.29,206.8 M559.98,204.91 L557.58,204.94 M560.54,205.57 L560,207.81 M560.13,204.47 L558.24,203.06 M560.12,204.49 L558.21,203.1 M553.5,201.01 a0.6,0.6 0 1,0 1.2,0 a0.6,0.6 0 1,0 -1.2,0Z M552.38,200.74 a0.6,0.6 0 1,0 1.2,0 a0.6,0.6 0 1,0 -1.2,0Z M552.97,201.19 a0.6,0.6 0 1,0 1.2,0 a0.6,0.6 0 1,0 -1.2,0Z M552.18,200.07 a0.6,0.6 0 1,0 1.2,0 a0.6,0.6 0 1,0 -1.2,0Z M552.77,197.73 a0.6,0.6 0 1,0 1.2,0 a0.6,0.6 0 1,0 -1.2,0Z M553.31,201.47 a0.6,0.6 0 1,0 1.2,0 a0.6,0.6 0 1,0 -1.2,0Z M554.29,199.94 a0.6,0.6 0 1,0 1.2,0 a0.6,0.6 0 1,0 -1.2,0Z M553.09,199.08 a0.6,0.6 0 1,0 1.2,0 a0.6,0.6 0 1,0 -1.2,0Z M554.36,200.9 a0.6,0.6 0 1,0 1.2,0 a0.6,0.6 0 1,0 -1.2,0Z M554.12,198.53 L554.52,196.28 M553.63,198.68 L552.39,196.93 M554.46,198.8 L556.01,197.47 M554.02,198.51 L554.09,196.21 M553.83,199.86 L553.25,202.05 M553.65,198.66 L552.48,196.84 M550.44,196.52 a0.6,0.6 0 1,0 1.2,0 a0.6,0.6 0 1,0 -1.2,0Z M550.65,195.86 a0.6,0.6 0 1,0 1.2,0 a0.6,0.6 0 1,0 -1.2,0Z M551.71,194.69 a0.6,0.6 0 1,0 1.2,0 a0.6,0.6 0 1,0 -1.2,0Z M550.97,194.45 a0.6,0.6 0 1,0 1.2,0 a0.6,0.6 0 1,0 -1.2,0Z M551.17,194.58 a0.6,0.6 0 1,0 1.2,0 a0.6,0.6 0 1,0 -1.2,0Z M550.73,195.36 a0.6,0.6 0 1,0 1.2,0 a0.6,0.6 0 1,0 -1.2,0Z M551.26,195.36 L550.13,194.88 M551.74,195.11 L552.22,193.83 M551.5,195.1 L551.17,193.75 M551.72,195.1 L552.11,193.78 M551.24,195.51 L550.04,195.54 M551.86,195.22 L552.75,194.27" fill="#141414" stroke="#141414" stroke-width="0.5" stroke-linecap="round"/><path d="M552.7,213.6 L552.9,210 L553.1,207.3 M553.1,207.3 L550.6,205.3 L548,204 M553.1,207.3 L556.8,205.6 L560,204.8 M553.1,207.3 L552.6,202.5 L551,198 M553.1,207.3 L555.6,201.2 L559,198.3 M553.3,204 L554.6,199 L555,195.5 M548,204 L545.2,201.2 M551,198 L548.8,195.2 M559,198.3 L561.2,195.6" fill="none" stroke="#141414" stroke-width="1.0" stroke-linecap="round" stroke-linejoin="round"/><circle cx="551.6" cy="202.6" r="1.15" fill="#fff"/><circle cx="556.4" cy="202" r="0.8" fill="#fff"/><circle cx="548.3" cy="203" r="0.55" fill="#fff"/><circle cx="549.8" cy="198.4" r="0.5" fill="#fff"/><circle cx="559.9" cy="199.3" r="0.55" fill="#fff"/><circle cx="545.2" cy="204.4" r="0.5" fill="#fff"/><circle cx="555.6" cy="195.4" r="0.45" fill="#fff"/><circle cx="561.3" cy="205.6" r="0.5" fill="#fff"/><circle cx="558.3" cy="196.6" r="0.45" fill="#fff"/><circle cx="547.4" cy="196.9" r="0.45" fill="#fff"/><circle cx="544.4" cy="202.3" r="0.4" fill="#fff"/><circle cx="562" cy="198" r="0.4" fill="#fff"/><circle cx="553.6" cy="194" r="0.4" fill="#fff"/><circle cx="550" cy="200.3" r="0.6" fill="#fff"/><circle cx="557.5" cy="200" r="0.5" fill="#fff"/><circle cx="559.5" cy="204" r="0.4" fill="#fff"/><circle cx="546.7" cy="205.6" r="0.45" fill="#fff"/>
<line x1="31.06" y1="345.3" x2="31.06" y2="447.4" stroke="#bbb" stroke-width="1.1" stroke-dasharray="2.8 2.4"/>
<line x1="89.84" y1="345.3" x2="89.84" y2="447.4" stroke="#bbb" stroke-width="1.1" stroke-dasharray="2.8 2.4"/>
<clipPath id="cp20"><rect x="16.5" y="345.3" width="144" height="102.1"/></clipPath>
<g clip-path="url(#cp20)" fill="none" stroke-linejoin="round" stroke-linecap="round">
<path d="M23.05,396.28 L25.72,399.91 L28.39,404.48 L31.06,402.87 L33.73,402.49 L36.4,402.67 L39.08,408.02 L41.75,410.65 L44.42,413.35 L47.09,416.6 L49.76,420.18 L52.43,425.24 L55.1,429.11 L57.78,433.2 L60.45,434.71 L63.12,435.29 L65.79,436.74 L68.46,437.65 L71.13,438.32 L73.81,438.66 L76.48,438.7 L79.15,439.1 L81.82,439.37 L84.49,440 L87.16,440.3 L89.84,440.39 L92.51,440.8 L95.18,441.08 L97.85,441.41 L100.52,441.33 L103.19,441.47 L105.87,441.7 L108.54,441.71 L111.21,441.68 L113.88,441.68 L116.55,441.68 L119.22,441.76 L121.9,441.88 L124.57,442.01 L127.24,442.11 L129.91,442.24 L132.58,442.24 L135.25,442.31 L137.92,442.34 L140.6,442.35 L143.27,442.39 L145.94,442.56 L148.61,442.64 L151.28,442.73 L153.95,442.88 M23.05,403.4 L25.72,406.18 L28.39,409.15 L31.06,409.45 L33.73,411.74 L36.4,411.71 L39.08,413.77 L41.75,417.46 L44.42,419.62 L47.09,421.59 L49.76,425.11 L52.43,429.75 L55.1,433.35 L57.78,436.78 L60.45,437.5 L63.12,437.66 L65.79,436.94 L68.46,436.97 L71.13,437.35 L73.81,437.61 L76.48,438.17 L79.15,438.05 L81.82,438.33 L84.49,438.37 L87.16,438.84 L89.84,439.23 L92.51,439.5 L95.18,439.9 L97.85,440.22 L100.52,440.68 L103.19,440.73 L105.87,440.97 L108.54,441.07 L111.21,441.32 L113.88,441.65 L116.55,441.72 L119.22,441.71 L121.9,441.97 L124.57,442.16 L127.24,442.23 L129.91,442.32 L132.58,442.51 L135.25,442.4 L137.92,442.36 L140.6,442.47 L143.27,442.66 L145.94,442.66 L148.61,442.52 L151.28,442.48 L153.95,442.41 M23.05,395.97 L25.72,399.39 L28.39,397.71 L31.06,399.12 L33.73,404.98 L36.4,410.13 L39.08,411.03 L41.75,413.57 L44.42,417.39 L47.09,419.23 L49.76,419.3 L52.43,422.33 L55.1,429.22 L57.78,431.99 L60.45,434.83 L63.12,436.4 L65.79,436.75 L68.46,437.6 L71.13,438.56 L73.81,438.86 L76.48,439.41 L79.15,439.56 L81.82,439.87 L84.49,440.02 L87.16,440.29 L89.84,440.4 L92.51,440.67 L95.18,440.91 L97.85,441.2 L100.52,441.32 L103.19,441.65 L105.87,441.39 L108.54,441.61 L111.21,441.72 L113.88,441.83 L116.55,441.97 L119.22,441.99 L121.9,442.12 L124.57,442.21 L127.24,442.37 L129.91,442.49 L132.58,442.6 L135.25,442.46 L137.92,442.6 L140.6,442.72 L143.27,442.69 L145.94,442.59 L148.61,442.75 L151.28,442.86 L153.95,442.83 M23.05,399.71 L25.72,403.15 L28.39,405.72 L31.06,406.03 L33.73,407.67 L36.4,407.91 L39.08,409.8 L41.75,412.53 L44.42,414.47 L47.09,417.75 L49.76,421.05 L52.43,425.72 L55.1,429.96 L57.78,431.61 L60.45,433.23 L63.12,435.09 L65.79,435.54 L68.46,436.28 L71.13,437 L73.81,437.91 L76.48,438.1 L79.15,437.99 L81.82,438.78 L84.49,439.53 L87.16,439.96 L89.84,440.39 L92.51,440.84 L95.18,441.22 L97.85,441.23 L100.52,441.23 L103.19,441.09 L105.87,441.16 L108.54,441.37 L111.21,441.37 L113.88,441.53 L116.55,441.68 L119.22,441.9 L121.9,441.85 L124.57,441.82 L127.24,441.93 L129.91,442.04 L132.58,442.09 L135.25,442.13 L137.92,442.12 L140.6,442.18 L143.27,442.19 L145.94,442.38 L148.61,442.44 L151.28,442.59 L153.95,442.44 M23.05,397.17 L25.72,396.75 L28.39,395.57 L31.06,396.88 L33.73,402.4 L36.4,405.27 L39.08,411.96 L41.75,416.58 L44.42,422.31 L47.09,425.29 L49.76,427.94 L52.43,432 L55.1,434.97 L57.78,436.23 L60.45,437.03 L63.12,437.61 L65.79,439.58 L68.46,439.9 L71.13,439.57 L73.81,439.59 L76.48,440.26 L79.15,440.48 L81.82,440.51 L84.49,440.85 L87.16,440.84 L89.84,441.18 L92.51,441.42 L95.18,441.59 L97.85,441.39 L100.52,441.58 L103.19,441.74 L105.87,441.76 L108.54,441.92 L111.21,442 L113.88,442.31 L116.55,442.32 L119.22,442.36 L121.9,442.54 L124.57,442.42 L127.24,442.46 L129.91,442.52 L132.58,442.66 L135.25,442.83 L137.92,442.88 L140.6,443.02 L143.27,442.95 L145.94,442.89 L148.61,442.94 L151.28,443.05 L153.95,443.06 M23.05,396.4 L25.72,397.24 L28.39,399.66 L31.06,401.8 L33.73,402.21 L36.4,401.49 L39.08,404.89 L41.75,406.89 L44.42,411.18 L47.09,416.85 L49.76,418.64 L52.43,421.82 L55.1,425.99 L57.78,428.84 L60.45,431.21 L63.12,434.06 L65.79,434.18 L68.46,435.19 L71.13,436.12 L73.81,436.63 L76.48,437.05 L79.15,437.98 L81.82,438.48 L84.49,439.08 L87.16,439.35 L89.84,439.77 L92.51,439.71 L95.18,440.14 L97.85,440.38 L100.52,440.58 L103.19,440.82 L105.87,440.91 L108.54,441.13 L111.21,441.37 L113.88,441.48 L116.55,441.7 L119.22,441.68 L121.9,441.73 L124.57,441.74 L127.24,441.96 L129.91,442.03 L132.58,442.16 L135.25,442.22 L137.92,442.17 L140.6,442.23 L143.27,442.29 L145.94,442.27 L148.61,442.24 L151.28,442.13 L153.95,442.34 M23.05,401.47 L25.72,403.9 L28.39,405.28 L31.06,409.37 L33.73,415.08 L36.4,418.24 L39.08,420.28 L41.75,419.43 L44.42,424.01 L47.09,429.1 L49.76,435.66 L52.43,437.45 L55.1,439.29 L57.78,439.84 L60.45,441.25 L63.12,441.18 L65.79,441.98 L68.46,441.32 L71.13,441.76 L73.81,442.44 L76.48,441.56 L79.15,441.25 L81.82,441.09 L84.49,441.04 L87.16,441.33 L89.84,441.27 L92.51,441.62 L95.18,441.44 L97.85,441.57 L100.52,441.97 L103.19,441.87 L105.87,441.7 L108.54,441.85 L111.21,441.84 L113.88,441.93 L116.55,442.1 L119.22,442.45 L121.9,442.36 L124.57,442.45 L127.24,442.42 L129.91,442.58 L132.58,442.68 L135.25,442.6 L137.92,442.67 L140.6,442.74 L143.27,442.85 L145.94,442.86 L148.61,442.8 L151.28,442.83 L153.95,442.85 M23.05,391.6 L25.72,393.99 L28.39,396.16 L31.06,395.86 L33.73,398.81 L36.4,403.95 L39.08,407.83 L41.75,411.53 L44.42,411.58 L47.09,414.72 L49.76,419.48 L52.43,421.71 L55.1,424.11 L57.78,428.76 L60.45,429.33 L63.12,430.99 L65.79,432.93 L68.46,436.04 L71.13,436.78 L73.81,436.95 L76.48,437.79 L79.15,437.84 L81.82,438.48 L84.49,439.21 L87.16,439.46 L89.84,439.76 L92.51,439.96 L95.18,440.33 L97.85,440.41 L100.52,440.75 L103.19,440.89 L105.87,441.27 L108.54,441.52 L111.21,441.63 L113.88,441.77 L116.55,441.91 L119.22,442.01 L121.9,442.05 L124.57,442.03 L127.24,442 L129.91,441.99 L132.58,442.03 L135.25,442.17 L137.92,442.36 L140.6,442.45 L143.27,442.54 L145.94,442.72 L148.61,442.59 L151.28,442.74 L153.95,442.7 M23.05,402.06 L25.72,399.1 L28.39,401.09 L31.06,404.97 L33.73,404.33 L36.4,408.27 L39.08,413.3 L41.75,418.37 L44.42,423.03 L47.09,426.03 L49.76,428.85 L52.43,433.94 L55.1,435.71 L57.78,434.36 L60.45,436.33 L63.12,437.16 L65.79,437.23 L68.46,437.36 L71.13,438.34 L73.81,439.18 L76.48,439.82 L79.15,439.79 L81.82,439.85 L84.49,440.6 L87.16,441.19 L89.84,441.58 L92.51,441.98 L95.18,442.01 L97.85,442.07 L100.52,441.84 L103.19,441.77 L105.87,441.88 L108.54,441.83 L111.21,442.07 L113.88,442.27 L116.55,442.33 L119.22,442.27 L121.9,442.51 L124.57,442.45 L127.24,442.39 L129.91,442.5 L132.58,442.51 L135.25,442.59 L137.92,442.62 L140.6,442.6 L143.27,442.69 L145.94,442.65 L148.61,442.61 L151.28,442.56 L153.95,442.76 M23.05,394.44 L25.72,396.6 L28.39,399.47 L31.06,403 L33.73,407.36 L36.4,409.67 L39.08,412.8 L41.75,416.74 L44.42,418.85 L47.09,424.05 L49.76,425.13 L52.43,431.6 L55.1,430.16 L57.78,434.35 L60.45,434.56 L63.12,434.7 L65.79,435.81 L68.46,436.43 L71.13,437.24 L73.81,438.54 L76.48,438.8 L79.15,438.93 L81.82,439.47 L84.49,440.14 L87.16,440.46 L89.84,440.62 L92.51,440.79 L95.18,440.83 L97.85,440.96 L100.52,441.06 L103.19,441.47 L105.87,441.29 L108.54,441.43 L111.21,441.47 L113.88,441.6 L116.55,441.74 L119.22,441.83 L121.9,441.76 L124.57,441.71 L127.24,441.74 L129.91,441.67 L132.58,441.81 L135.25,441.88 L137.92,442.01 L140.6,442 L143.27,442.07 L145.94,442.08 L148.61,442 L151.28,442.24 L153.95,442.1 M23.05,403.14 L25.72,407.3 L28.39,409.28 L31.06,415.21 L33.73,416.73 L36.4,418.68 L39.08,417.1 L41.75,420.72 L44.42,421.99 L47.09,422.99 L49.76,423.04 L52.43,427.05 L55.1,429.66 L57.78,434.61 L60.45,437.03 L63.12,437.82 L65.79,438.21 L68.46,439.42 L71.13,439.82 L73.81,439.66 L76.48,440.02 L79.15,440.3 L81.82,440.68 L84.49,440.52 L87.16,440.38 L89.84,440.62 L92.51,440.93 L95.18,440.9 L97.85,441.08 L100.52,441.4 L103.19,441.71 L105.87,441.92 L108.54,441.74 L111.21,441.96 L113.88,441.67 L116.55,441.81 L119.22,441.96 L121.9,441.94 L124.57,442.07 L127.24,442.1 L129.91,442.31 L132.58,442.48 L135.25,442.61 L137.92,442.62 L140.6,442.73 L143.27,442.92 L145.94,442.9 L148.61,442.92 L151.28,442.94 L153.95,442.99 M23.05,396.1 L25.72,398.46 L28.39,399.7 L31.06,400.08 L33.73,400.91 L36.4,403.38 L39.08,406.21 L41.75,409.39 L44.42,411.82 L47.09,414.84 L49.76,420.61 L52.43,423.81 L55.1,427.63 L57.78,430.04 L60.45,432.02 L63.12,432.73 L65.79,434.51 L68.46,435.58 L71.13,436.65 L73.81,437.75 L76.48,438.73 L79.15,439.32 L81.82,439.58 L84.49,439.67 L87.16,440.03 L89.84,440.46 L92.51,440.85 L95.18,440.89 L97.85,441.13 L100.52,441.41 L103.19,441.42 L105.87,441.77 L108.54,441.88 L111.21,442.01 L113.88,442.07 L116.55,442.3 L119.22,442.24 L121.9,442.14 L124.57,442.35 L127.24,442.38 L129.91,442.38 L132.58,442.21 L135.25,442.34 L137.92,442.49 L140.6,442.56 L143.27,442.42 L145.94,442.49 L148.61,442.52 L151.28,442.41 L153.95,442.64 M23.05,394.07 L25.72,394.1 L28.39,398.34 L31.06,399.82 L33.73,402.05 L36.4,403.9 L39.08,407.65 L41.75,411.61 L44.42,416.75 L47.09,419.79 L49.76,423.97 L52.43,423.95 L55.1,426.92 L57.78,432.12 L60.45,433.05 L63.12,433.15 L65.79,434.55 L68.46,435.33 L71.13,436.36 L73.81,436.9 L76.48,437.99 L79.15,438.42 L81.82,439.28 L84.49,439.36 L87.16,440 L89.84,440.68 L92.51,440.8 L95.18,441.05 L97.85,441.22 L100.52,441.3 L103.19,441.39 L105.87,441.65 L108.54,441.72 L111.21,441.79 L113.88,441.77 L116.55,441.64 L119.22,441.84 L121.9,441.93 L124.57,441.95 L127.24,442.05 L129.91,442.25 L132.58,442.34 L135.25,442.29 L137.92,442.36 L140.6,442.36 L143.27,442.46 L145.94,442.47 L148.61,442.56 L151.28,442.63 L153.95,442.63 M23.05,393.74 L25.72,397.82 L28.39,398.84 L31.06,398.61 L33.73,398.84 L36.4,402.2 L39.08,406.05 L41.75,410.41 L44.42,413.59 L47.09,416.86 L49.76,420.53 L52.43,423.17 L55.1,429.06 L57.78,433.36 L60.45,435.98 L63.12,437.85 L65.79,438.14 L68.46,438.42 L71.13,437.56 L73.81,437.93 L76.48,438.48 L79.15,438.64 L81.82,439.32 L84.49,439.62 L87.16,439.75 L89.84,439.95 L92.51,440.22 L95.18,440.6 L97.85,441.07 L100.52,441.27 L103.19,441.46 L105.87,441.51 L108.54,441.66 L111.21,441.73 L113.88,441.99 L116.55,441.95 L119.22,442.13 L121.9,442.37 L124.57,442.54 L127.24,442.6 L129.91,442.51 L132.58,442.45 L135.25,442.61 L137.92,442.62 L140.6,442.66 L143.27,442.81 L145.94,442.91 L148.61,443.07 L151.28,443.1 L153.95,443.1 M23.05,402.3 L25.72,404.42 L28.39,407.13 L31.06,407.05 L33.73,409.58 L36.4,411 L39.08,411.55 L41.75,412.88 L44.42,415.13 L47.09,419.69 L49.76,425.72 L52.43,429.82 L55.1,433.43 L57.78,435.28 L60.45,436.15 L63.12,435.78 L65.79,436.71 L68.46,436.56 L71.13,436.85 L73.81,437.79 L76.48,438.09 L79.15,439.56 L81.82,439.52 L84.49,439.76 L87.16,439.98 L89.84,440.6 L92.51,440.4 L95.18,440.74 L97.85,441.01 L100.52,441.03 L103.19,441.2 L105.87,441.5 L108.54,441.55 L111.21,441.82 L113.88,441.78 L116.55,441.88 L119.22,441.85 L121.9,442.08 L124.57,442.02 L127.24,442.05 L129.91,441.96 L132.58,442.1 L135.25,442.02 L137.92,442.05 L140.6,442.08 L143.27,442.22 L145.94,442.25 L148.61,442.26 L151.28,442.38 L153.95,442.51 M23.05,391.53 L25.72,392.68 L28.39,393.14 L31.06,395.34 L33.73,397.72 L36.4,399.83 L39.08,403.09 L41.75,404.17 L44.42,407.81 L47.09,411.25 L49.76,418.63 L52.43,421.86 L55.1,427.18 L57.78,430.85 L60.45,431.34 L63.12,434.16 L65.79,435.56 L68.46,436.3 L71.13,436.52 L73.81,437.5 L76.48,438.01 L79.15,438.56 L81.82,439.32 L84.49,440.11 L87.16,440.69 L89.84,440.76 L92.51,440.94 L95.18,441.36 L97.85,441.6 L100.52,441.75 L103.19,441.81 L105.87,441.89 L108.54,441.66 L111.21,441.87 L113.88,441.89 L116.55,442.05 L119.22,442.17 L121.9,442.32 L124.57,442.36 L127.24,442.42 L129.91,442.42 L132.58,442.41 L135.25,442.52 L137.92,442.37 L140.6,442.52 L143.27,442.51 L145.94,442.36 L148.61,442.46 L151.28,442.36 L153.95,442.27 M23.05,402.51 L25.72,400.76 L28.39,401.92 L31.06,404.77 L33.73,404.34 L36.4,407.52 L39.08,407.43 L41.75,411.41 L44.42,413.68 L47.09,419.02 L49.76,423.44 L52.43,427.84 L55.1,431.92 L57.78,433.59 L60.45,434.74 L63.12,435.41 L65.79,435.36 L68.46,436.54 L71.13,438.11 L73.81,438.59 L76.48,438.9 L79.15,439.01 L81.82,439.13 L84.49,439.3 L87.16,439.68 L89.84,439.88 L92.51,440.45 L95.18,440.49 L97.85,440.67 L100.52,440.81 L103.19,441 L105.87,441.18 L108.54,441.42 L111.21,441.49 L113.88,441.73 L116.55,441.71 L119.22,441.74 L121.9,441.63 L124.57,441.74 L127.24,441.83 L129.91,441.91 L132.58,441.98 L135.25,442.07 L137.92,442.24 L140.6,442.39 L143.27,442.47 L145.94,442.53 L148.61,442.65 L151.28,442.73 L153.95,442.74 M23.05,398.23 L25.72,398.14 L28.39,398.22 L31.06,399.32 L33.73,402.42 L36.4,405.37 L39.08,410.96 L41.75,415.14 L44.42,417.44 L47.09,422.65 L49.76,423.52 L52.43,424.05 L55.1,428.54 L57.78,430.09 L60.45,433.59 L63.12,435.78 L65.79,436.83 L68.46,437.59 L71.13,438.17 L73.81,438.91 L76.48,438.54 L79.15,438.98 L81.82,439.31 L84.49,439.52 L87.16,439.81 L89.84,440.16 L92.51,440.56 L95.18,441.09 L97.85,441.03 L100.52,441.35 L103.19,441.67 L105.87,441.88 L108.54,442.16 L111.21,441.96 L113.88,441.94 L116.55,441.85 L119.22,441.78 L121.9,441.83 L124.57,441.86 L127.24,442 L129.91,442.1 L132.58,442.21 L135.25,442.27 L137.92,442.39 L140.6,442.33 L143.27,442.31 L145.94,442.38 L148.61,442.56 L151.28,442.51 L153.95,442.46 M23.05,399.77 L25.72,399.73 L28.39,399.32 L31.06,404.61 L33.73,405.34 L36.4,410.31 L39.08,411.72 L41.75,411.01 L44.42,414.09 L47.09,416.28 L49.76,420.84 L52.43,424.06 L55.1,424.2 L57.78,425.94 L60.45,429 L63.12,431.77 L65.79,433.68 L68.46,434.03 L71.13,435.19 L73.81,435.79 L76.48,436.92 L79.15,438.15 L81.82,438.39 L84.49,438.93 L87.16,439.47 L89.84,439.93 L92.51,440.35 L95.18,440.71 L97.85,441.18 L100.52,441.13 L103.19,441.16 L105.87,441.18 L108.54,441.38 L111.21,441.47 L113.88,441.53 L116.55,441.51 L119.22,441.54 L121.9,441.62 L124.57,441.8 L127.24,441.98 L129.91,442.13 L132.58,442.23 L135.25,442.33 L137.92,442.47 L140.6,442.36 L143.27,442.36 L145.94,442.58 L148.61,442.68 L151.28,442.77 L153.95,442.73 M23.05,399.3 L25.72,399.05 L28.39,400.93 L31.06,400.99 L33.73,400.69 L36.4,402.31 L39.08,403.23 L41.75,406.48 L44.42,410.87 L47.09,416.6 L49.76,419.96 L52.43,423.51 L55.1,427.96 L57.78,430.81 L60.45,432.62 L63.12,434.97 L65.79,436.3 L68.46,436.52 L71.13,437.32 L73.81,437.32 L76.48,438.34 L79.15,439.26 L81.82,439.54 L84.49,439.66 L87.16,440.06 L89.84,440.2 L92.51,440.31 L95.18,440.4 L97.85,440.69 L100.52,440.9 L103.19,441.27 L105.87,441.41 L108.54,441.49 L111.21,441.45 L113.88,441.68 L116.55,441.87 L119.22,442.05 L121.9,442.02 L124.57,442.33 L127.24,442.44 L129.91,442.26 L132.58,442.23 L135.25,442.4 L137.92,442.43 L140.6,442.4 L143.27,442.37 L145.94,442.44 L148.61,442.53 L151.28,442.46 L153.95,442.48" stroke="#8a8a8a" stroke-opacity="0.55" stroke-width="0.5"/>
<path d="M23.05,397.85 L24.38,398.51 L25.72,399.24 L27.05,400.02 L28.39,400.86 L29.72,401.75 L31.06,402.67 L32.4,403.65 L33.73,404.72 L35.07,405.85 L36.4,407.05 L37.74,408.32 L39.08,409.67 L40.41,411.1 L41.75,412.61 L43.08,414.17 L44.42,415.78 L45.75,417.52 L47.09,419.33 L48.43,421.15 L49.76,422.93 L51.1,424.61 L52.43,426.33 L53.77,428.09 L55.1,429.76 L56.44,431.26 L57.78,432.46 L59.11,433.33 L60.45,434.07 L61.78,434.73 L63.12,435.3 L64.46,435.81 L65.79,436.25 L67.13,436.64 L68.46,437 L69.8,437.33 L71.13,437.64 L72.47,437.93 L73.81,438.19 L75.14,438.43 L76.48,438.66 L77.81,438.86 L79.15,439.06 L80.49,439.24 L81.82,439.42 L83.16,439.6 L84.49,439.76 L85.83,439.93 L87.16,440.08 L88.5,440.23 L89.84,440.38 L91.17,440.51 L92.51,440.64 L93.84,440.76 L95.18,440.87 L96.51,440.98 L97.85,441.07 L99.19,441.16 L100.52,441.23 L101.86,441.3 L103.19,441.37 L104.53,441.43 L105.87,441.49 L107.2,441.55 L108.54,441.6 L109.87,441.66 L111.21,441.71 L112.54,441.75 L113.88,441.8 L115.22,441.84 L116.55,441.88 L117.89,441.92 L119.22,441.96 L120.56,442 L121.9,442.04 L123.23,442.07 L124.57,442.1 L125.9,442.14 L127.24,442.17 L128.57,442.2 L129.91,442.23 L131.25,442.26 L132.58,442.29 L133.92,442.32 L135.25,442.34 L136.59,442.37 L137.92,442.4 L139.26,442.42 L140.6,442.45 L141.93,442.47 L143.27,442.5 L144.6,442.52 L145.94,442.54 L147.28,442.56 L148.61,442.58 L149.95,442.59 L151.28,442.61 L152.62,442.62 L153.95,442.63" stroke="#1a1a1a" stroke-width="1.1"/>
<path d="M23.05,398.94 L24.38,400.71 L25.72,401.86 L27.05,402.48 L28.39,402.67 L29.72,402.03 L31.06,400.39 L32.4,398.23 L33.73,395.99 L35.07,394.12 L36.4,392.49 L37.74,390.77 L39.08,389.1 L40.41,387.62 L41.75,386.5 L43.08,385.88 L44.42,385.58 L45.75,385.34 L47.09,385.14 L48.43,384.97 L49.76,384.84 L51.1,384.71 L52.43,384.6 L53.77,384.48 L55.1,384.35 L56.44,384.2 L57.78,384.01 L59.11,383.79 L60.45,383.56 L61.78,383.3 L63.12,383.03 L64.46,382.75 L65.79,382.47 L67.13,382.19 L68.46,381.91 L69.8,381.63 L71.13,381.37 L72.47,381.13 L73.81,380.9 L75.14,380.7 L76.48,380.51 L77.81,380.33 L79.15,380.17 L80.49,380.01 L81.82,379.85 L83.16,379.68 L84.49,379.5 L85.83,379.31 L87.16,379.11 L88.5,378.88 L89.84,378.57 L91.17,378.17 L92.51,377.72 L93.84,377.29 L95.18,376.91 L96.51,376.65 L97.85,376.55 L99.19,376.57 L100.52,376.65 L101.86,376.75 L103.19,376.85 L104.53,376.95 L105.87,377.01 L107.2,377.06 L108.54,377.1 L109.87,377.15 L111.21,377.19 L112.54,377.23 L113.88,377.27 L115.22,377.3 L116.55,377.34 L117.89,377.37 L119.22,377.4 L120.56,377.42 L121.9,377.44 L123.23,377.46 L124.57,377.47 L125.9,377.48 L127.24,377.48 L128.57,377.48 L129.91,377.48 L131.25,377.48 L132.58,377.48 L133.92,377.48 L135.25,377.48 L136.59,377.48 L137.92,377.48 L139.26,377.48 L140.6,377.48 L141.93,377.48 L143.27,377.48 L144.6,377.48 L145.94,377.48 L147.28,377.48 L148.61,377.48 L149.95,377.48 L151.28,377.48 L152.62,377.48 L153.95,377.48" stroke="#ff1f1f" stroke-width="1.15" stroke-dasharray="4.5 3.3"/>
</g>
<path d="M16.5,345.3 V447.4 H160.5" fill="none" stroke="#666" stroke-width="0.8"/>
<line x1="13.1" y1="443.1" x2="16.5" y2="443.1" stroke="#666" stroke-width="0.8"/>
<text x="9.3" y="445.5" font-size="7.8" fill="#2a2a2a" stroke="#2a2a2a" stroke-width="0.12" text-anchor="end">0</text>
<line x1="13.1" y1="412" x2="16.5" y2="412" stroke="#666" stroke-width="0.8"/>
<text x="9.3" y="414.4" font-size="7.8" fill="#2a2a2a" stroke="#2a2a2a" stroke-width="0.12" text-anchor="end">20</text>
<line x1="13.1" y1="380.9" x2="16.5" y2="380.9" stroke="#666" stroke-width="0.8"/>
<text x="9.3" y="383.3" font-size="7.8" fill="#2a2a2a" stroke="#2a2a2a" stroke-width="0.12" text-anchor="end">40</text>
<line x1="13.1" y1="349.8" x2="16.5" y2="349.8" stroke="#666" stroke-width="0.8"/>
<text x="9.3" y="352.2" font-size="7.8" fill="#2a2a2a" stroke="#2a2a2a" stroke-width="0.12" text-anchor="end">60</text>
<line x1="31.06" y1="447.4" x2="31.06" y2="450.8" stroke="#666" stroke-width="0.8"/>
<text x="31.06" y="460.3" font-size="7.8" fill="#2a2a2a" stroke="#2a2a2a" stroke-width="0.12" text-anchor="middle">2004</text>
<line x1="60.45" y1="447.4" x2="60.45" y2="450.8" stroke="#666" stroke-width="0.8"/>
<text x="60.45" y="460.3" font-size="7.8" fill="#2a2a2a" stroke="#2a2a2a" stroke-width="0.12" text-anchor="middle">2015</text>
<line x1="89.84" y1="447.4" x2="89.84" y2="450.8" stroke="#666" stroke-width="0.8"/>
<text x="89.84" y="460.3" font-size="7.8" fill="#2a2a2a" stroke="#2a2a2a" stroke-width="0.12" text-anchor="middle">2026</text>
<line x1="121.9" y1="447.4" x2="121.9" y2="450.8" stroke="#666" stroke-width="0.8"/>
<text x="121.9" y="460.3" font-size="7.8" fill="#2a2a2a" stroke="#2a2a2a" stroke-width="0.12" text-anchor="middle">2038</text>
<line x1="153.95" y1="447.4" x2="153.95" y2="450.8" stroke="#666" stroke-width="0.8"/>
<text x="153.95" y="460.3" font-size="7.8" fill="#2a2a2a" stroke="#2a2a2a" stroke-width="0.12" text-anchor="middle">2050</text>
<path d="M23.1,358.45 C23.11,358.33 24.24,358.12 24.6,358 C24.96,357.88 26.19,357.63 26.2,357.45 C26.21,357.27 24.75,356.71 24.7,356.45 C24.65,356.19 25.4,355.47 25.8,355.2 C26.2,354.93 27.58,354.31 28.1,354.1 C28.62,353.89 29.77,353.51 30.3,353.4 C30.83,353.29 32.03,353.26 32.68,353.14 C33.33,353.02 35.45,352.57 35.89,352.38 C36.33,352.19 36.16,351.67 36.47,351.5 C36.78,351.33 37.94,351.02 38.52,350.92 C39.1,350.82 40.62,350.64 41.44,350.63 C42.26,350.62 44.64,350.75 45.53,350.8 C46.42,350.85 48.28,350.92 49.03,351.04 C49.78,351.16 51.51,351.51 51.95,351.8 C52.39,352.09 52.75,353.18 52.82,353.55 C52.89,353.92 52.46,354.77 52.53,355.01 C52.6,355.25 53.07,355.62 53.41,355.59 C53.75,355.56 55.08,354.92 55.45,354.72 C55.82,354.52 56.28,353.91 56.62,353.84 C56.96,353.77 58.06,353.93 58.37,354.13 C58.68,354.33 59.11,355.15 59.25,355.59 C59.39,356.03 59.57,357.39 59.54,357.93 C59.51,358.47 59.16,359.89 58.96,360.26 C58.76,360.63 58.13,361.11 57.79,361.14 C57.45,361.17 56.52,360.72 56.04,360.55 C55.56,360.38 54.08,359.75 53.7,359.68 C53.32,359.61 52.92,359.77 52.82,359.97 C52.72,360.17 52.92,361.09 52.82,361.43 C52.72,361.77 52.39,362.65 51.95,362.89 C51.51,363.13 49.64,363.44 49.03,363.47 C48.42,363.5 47.1,363.32 46.69,363.18 C46.28,363.04 45.94,362.41 45.53,362.31 C45.12,362.21 44.01,362.31 43.19,362.31 C42.37,362.31 39.13,362.24 38.52,362.31 C37.91,362.38 37.96,362.62 37.93,362.89 C37.9,363.16 38.33,364.33 38.23,364.64 C38.13,364.95 37.33,365.49 37.06,365.52 C36.79,365.55 36.09,365.17 35.89,364.93 C35.69,364.69 35.41,363.78 35.31,363.47 C35.21,363.16 35.32,362.51 35.01,362.31 C34.7,362.11 33.28,361.91 32.68,361.72 C32.08,361.53 30.6,360.92 29.9,360.7 C29.2,360.48 27.33,360 26.7,359.8 C26.07,359.6 24.92,359.16 24.5,359 C24.08,358.84 23.09,358.57 23.1,358.45Z" fill="#000"/>
<line x1="205.06" y1="345.3" x2="205.06" y2="447.4" stroke="#bbb" stroke-width="1.1" stroke-dasharray="2.8 2.4"/>
<line x1="263.84" y1="345.3" x2="263.84" y2="447.4" stroke="#bbb" stroke-width="1.1" stroke-dasharray="2.8 2.4"/>
<clipPath id="cp21"><rect x="190.5" y="345.3" width="144" height="102.1"/></clipPath>
<g clip-path="url(#cp21)" fill="none" stroke-linejoin="round" stroke-linecap="round">
<path d="M197.05,400.04 L199.72,402.29 L202.39,401.82 L205.06,406.56 L207.73,411.8 L210.4,417.78 L213.08,422.19 L215.75,426.54 L218.42,430.16 L221.09,432.05 L223.76,432.78 L226.43,432.79 L229.1,433.96 L231.78,435.84 L234.45,436.74 L237.12,437.85 L239.79,438.33 L242.46,439.38 L245.13,439.63 L247.81,440.28 L250.48,440.46 L253.15,440.82 L255.82,440.9 L258.49,441.21 L261.16,441.73 L263.84,442.03 L266.51,442.17 L269.18,442.25 L271.85,442.58 L274.52,442.78 L277.19,442.89 L279.87,442.89 L282.54,442.85 L285.21,442.9 L287.88,443 L290.55,442.98 L293.22,442.99 L295.9,442.87 L298.57,442.91 L301.24,442.84 L303.91,442.92 L306.58,442.88 L309.25,442.86 L311.92,442.8 L314.6,442.88 L317.27,442.87 L319.94,442.91 L322.61,442.91 L325.28,442.86 L327.95,442.6 M197.05,398.57 L199.72,399.85 L202.39,400.09 L205.06,403.23 L207.73,407.67 L210.4,412.42 L213.08,413.47 L215.75,416.97 L218.42,423.77 L221.09,426.99 L223.76,430.1 L226.43,434.05 L229.1,436.48 L231.78,437.85 L234.45,439.15 L237.12,439.63 L239.79,440.61 L242.46,440.68 L245.13,440.91 L247.81,441.16 L250.48,441.52 L253.15,441.63 L255.82,441.85 L258.49,441.76 L261.16,441.79 L263.84,441.59 L266.51,441.8 L269.18,441.73 L271.85,441.89 L274.52,442.04 L277.19,442.3 L279.87,442.28 L282.54,442.36 L285.21,442.31 L287.88,442.21 L290.55,442.28 L293.22,442.31 L295.9,442.28 L298.57,442.34 L301.24,442.45 L303.91,442.46 L306.58,442.46 L309.25,442.43 L311.92,442.38 L314.6,442.48 L317.27,442.47 L319.94,442.38 L322.61,442.45 L325.28,442.48 L327.95,442.54 M197.05,392.94 L199.72,394.19 L202.39,398.35 L205.06,401.65 L207.73,407.52 L210.4,410.78 L213.08,417.96 L215.75,423.85 L218.42,427.03 L221.09,431.49 L223.76,432.4 L226.43,435.56 L229.1,437.53 L231.78,439.12 L234.45,439.97 L237.12,439.94 L239.79,440.13 L242.46,440.23 L245.13,440.53 L247.81,441.34 L250.48,441.52 L253.15,441.97 L255.82,442.13 L258.49,442.26 L261.16,442.38 L263.84,442.32 L266.51,442.48 L269.18,442.25 L271.85,442.16 L274.52,442.07 L277.19,442.07 L279.87,442.03 L282.54,442.13 L285.21,441.94 L287.88,442.16 L290.55,442.17 L293.22,442.24 L295.9,442.31 L298.57,442.33 L301.24,442.44 L303.91,442.4 L306.58,442.37 L309.25,442.4 L311.92,442.35 L314.6,442.48 L317.27,442.65 L319.94,442.67 L322.61,442.69 L325.28,442.51 L327.95,442.53 M197.05,399.69 L199.72,397.65 L202.39,400.02 L205.06,402.99 L207.73,409.84 L210.4,416.58 L213.08,422.55 L215.75,427.72 L218.42,428.46 L221.09,430.76 L223.76,433.29 L226.43,434.74 L229.1,436.87 L231.78,437.94 L234.45,438.95 L237.12,439.34 L239.79,439.68 L242.46,440.55 L245.13,440.94 L247.81,440.98 L250.48,441.53 L253.15,441.71 L255.82,441.81 L258.49,441.76 L261.16,441.79 L263.84,441.96 L266.51,442.01 L269.18,441.98 L271.85,441.98 L274.52,441.86 L277.19,441.96 L279.87,442.2 L282.54,442.39 L285.21,442.43 L287.88,442.51 L290.55,442.48 L293.22,442.5 L295.9,442.37 L298.57,442.35 L301.24,442.27 L303.91,442.42 L306.58,442.51 L309.25,442.49 L311.92,442.5 L314.6,442.49 L317.27,442.51 L319.94,442.57 L322.61,442.45 L325.28,442.42 L327.95,442.58 M197.05,403.14 L199.72,403.43 L202.39,405.73 L205.06,411.8 L207.73,415.99 L210.4,420.84 L213.08,422.6 L215.75,426.2 L218.42,427.82 L221.09,429.66 L223.76,431.47 L226.43,433.8 L229.1,435.07 L231.78,436.5 L234.45,438.46 L237.12,439.37 L239.79,440.04 L242.46,440.33 L245.13,440.65 L247.81,441.29 L250.48,441.43 L253.15,441.59 L255.82,441.95 L258.49,441.92 L261.16,442.17 L263.84,442.45 L266.51,442.38 L269.18,442.32 L271.85,442.43 L274.52,442.35 L277.19,442.31 L279.87,442.44 L282.54,442.26 L285.21,442.32 L287.88,442.36 L290.55,442.67 L293.22,442.64 L295.9,442.72 L298.57,442.69 L301.24,442.87 L303.91,442.77 L306.58,442.65 L309.25,442.51 L311.92,442.78 L314.6,442.74 L317.27,442.72 L319.94,442.96 L322.61,443 L325.28,443 L327.95,442.87 M197.05,400.2 L199.72,401.62 L202.39,403.02 L205.06,407.35 L207.73,411.59 L210.4,414.71 L213.08,421.33 L215.75,423.75 L218.42,427.92 L221.09,430.81 L223.76,431.97 L226.43,433.56 L229.1,435.09 L231.78,436.1 L234.45,437.28 L237.12,438.54 L239.79,439.57 L242.46,439.87 L245.13,440.2 L247.81,440.54 L250.48,440.95 L253.15,440.96 L255.82,441.19 L258.49,441.64 L261.16,441.72 L263.84,441.76 L266.51,441.77 L269.18,442.03 L271.85,442.17 L274.52,442.2 L277.19,442.35 L279.87,442.4 L282.54,442.33 L285.21,442.31 L287.88,442.16 L290.55,442.2 L293.22,442.1 L295.9,442.07 L298.57,441.91 L301.24,442.01 L303.91,442.11 L306.58,442.07 L309.25,442.19 L311.92,442.28 L314.6,442.31 L317.27,442.32 L319.94,442.45 L322.61,442.45 L325.28,442.52 L327.95,442.53 M197.05,404.59 L199.72,404.12 L202.39,405.37 L205.06,409.36 L207.73,415.11 L210.4,417.91 L213.08,420.8 L215.75,423.31 L218.42,426.95 L221.09,429.76 L223.76,430.46 L226.43,432.63 L229.1,433.72 L231.78,435.14 L234.45,437.11 L237.12,438.76 L239.79,439.33 L242.46,440.05 L245.13,440.72 L247.81,441.48 L250.48,441.5 L253.15,441.6 L255.82,441.75 L258.49,441.83 L261.16,441.91 L263.84,442.01 L266.51,442.05 L269.18,442.2 L271.85,442.59 L274.52,442.53 L277.19,442.54 L279.87,442.56 L282.54,442.42 L285.21,442.6 L287.88,442.94 L290.55,442.77 L293.22,442.74 L295.9,442.9 L298.57,442.93 L301.24,442.86 L303.91,442.97 L306.58,442.91 L309.25,442.72 L311.92,442.6 L314.6,442.63 L317.27,442.62 L319.94,442.7 L322.61,442.7 L325.28,442.76 L327.95,442.83 M197.05,398.64 L199.72,400.31 L202.39,404.66 L205.06,409.31 L207.73,412.75 L210.4,415.04 L213.08,420.8 L215.75,425.02 L218.42,427.13 L221.09,430.56 L223.76,434.2 L226.43,436.32 L229.1,437.75 L231.78,439.07 L234.45,440.35 L237.12,440.67 L239.79,440.66 L242.46,440.79 L245.13,441.28 L247.81,441.18 L250.48,441.68 L253.15,441.82 L255.82,442.22 L258.49,442.19 L261.16,442.3 L263.84,442.65 L266.51,442.82 L269.18,442.58 L271.85,442.47 L274.52,442.53 L277.19,442.5 L279.87,442.74 L282.54,442.87 L285.21,442.99 L287.88,443 L290.55,443 L293.22,443 L295.9,442.9 L298.57,442.82 L301.24,442.58 L303.91,442.67 L306.58,442.71 L309.25,442.69 L311.92,442.77 L314.6,442.81 L317.27,442.79 L319.94,442.85 L322.61,442.82 L325.28,442.75 L327.95,442.85 M197.05,399.82 L199.72,402.77 L202.39,404.24 L205.06,408.38 L207.73,413.4 L210.4,415.86 L213.08,418.68 L215.75,423.58 L218.42,428.21 L221.09,433.42 L223.76,437 L226.43,438.04 L229.1,438.78 L231.78,439.58 L234.45,440.26 L237.12,440.97 L239.79,441.49 L242.46,441.95 L245.13,442 L247.81,442.58 L250.48,442.51 L253.15,442.63 L255.82,442.5 L258.49,442.47 L261.16,442.34 L263.84,442.17 L266.51,442.36 L269.18,442.55 L271.85,442.57 L274.52,442.69 L277.19,442.63 L279.87,442.64 L282.54,442.65 L285.21,442.58 L287.88,442.65 L290.55,442.54 L293.22,442.75 L295.9,442.72 L298.57,442.67 L301.24,442.75 L303.91,442.81 L306.58,442.73 L309.25,442.76 L311.92,442.9 L314.6,442.99 L317.27,442.88 L319.94,442.91 L322.61,442.78 L325.28,442.69 L327.95,442.7 M197.05,401.6 L199.72,403.33 L202.39,406.24 L205.06,408.31 L207.73,416.1 L210.4,420.33 L213.08,423.58 L215.75,426.3 L218.42,431.61 L221.09,435.25 L223.76,437.15 L226.43,437.68 L229.1,438.45 L231.78,438.84 L234.45,438.56 L237.12,438.99 L239.79,439.44 L242.46,440.03 L245.13,440.31 L247.81,440.54 L250.48,440.75 L253.15,440.96 L255.82,441.04 L258.49,440.98 L261.16,441.32 L263.84,441.83 L266.51,441.81 L269.18,441.82 L271.85,441.9 L274.52,442.06 L277.19,441.81 L279.87,441.96 L282.54,442.2 L285.21,442.28 L287.88,442.28 L290.55,442.38 L293.22,442.46 L295.9,442.45 L298.57,442.52 L301.24,442.53 L303.91,442.55 L306.58,442.66 L309.25,442.66 L311.92,442.74 L314.6,442.65 L317.27,442.73 L319.94,442.71 L322.61,442.85 L325.28,442.89 L327.95,442.95 M197.05,403.15 L199.72,403.7 L202.39,408.89 L205.06,414.43 L207.73,420.13 L210.4,426.41 L213.08,427.35 L215.75,431.12 L218.42,432.9 L221.09,434.22 L223.76,435.92 L226.43,436.16 L229.1,438.03 L231.78,438.59 L234.45,438.87 L237.12,439.45 L239.79,439.97 L242.46,440.47 L245.13,440.92 L247.81,441.12 L250.48,441.5 L253.15,441.96 L255.82,442.04 L258.49,442.18 L261.16,442.17 L263.84,442.25 L266.51,442.1 L269.18,442.39 L271.85,442.53 L274.52,442.49 L277.19,442.69 L279.87,442.66 L282.54,442.7 L285.21,442.91 L287.88,442.83 L290.55,442.68 L293.22,442.69 L295.9,442.84 L298.57,442.77 L301.24,442.88 L303.91,442.89 L306.58,442.85 L309.25,442.92 L311.92,443 L314.6,443 L317.27,443 L319.94,443 L322.61,443 L325.28,443 L327.95,443 M197.05,404.83 L199.72,405.92 L202.39,407.74 L205.06,411.51 L207.73,419.64 L210.4,424.3 L213.08,428.39 L215.75,431.3 L218.42,431.77 L221.09,432.64 L223.76,433.99 L226.43,435.22 L229.1,437.08 L231.78,437.91 L234.45,439.12 L237.12,439.81 L239.79,440.5 L242.46,440.82 L245.13,441.25 L247.81,441.16 L250.48,441.36 L253.15,441.59 L255.82,441.61 L258.49,441.87 L261.16,441.82 L263.84,441.84 L266.51,441.54 L269.18,441.89 L271.85,441.98 L274.52,442.12 L277.19,442.21 L279.87,442.2 L282.54,442.41 L285.21,442.52 L287.88,442.53 L290.55,442.47 L293.22,442.64 L295.9,442.81 L298.57,442.71 L301.24,442.65 L303.91,442.59 L306.58,442.7 L309.25,442.74 L311.92,442.72 L314.6,442.7 L317.27,442.72 L319.94,442.72 L322.61,442.65 L325.28,442.73 L327.95,442.77 M197.05,408.01 L199.72,409.38 L202.39,411.85 L205.06,416.09 L207.73,419.28 L210.4,423.24 L213.08,427.39 L215.75,429.13 L218.42,432.47 L221.09,434.48 L223.76,436.28 L226.43,437.68 L229.1,439.13 L231.78,439.68 L234.45,440.89 L237.12,441.15 L239.79,441.22 L242.46,441.37 L245.13,441.68 L247.81,441.48 L250.48,441.66 L253.15,441.84 L255.82,442.03 L258.49,442.19 L261.16,442.23 L263.84,442.39 L266.51,442.26 L269.18,442.54 L271.85,442.47 L274.52,442.5 L277.19,442.74 L279.87,442.69 L282.54,442.69 L285.21,442.77 L287.88,442.56 L290.55,442.55 L293.22,442.65 L295.9,442.74 L298.57,442.84 L301.24,442.84 L303.91,442.86 L306.58,443 L309.25,443 L311.92,443 L314.6,443 L317.27,443 L319.94,443 L322.61,443 L325.28,443 L327.95,443 M197.05,397.95 L199.72,398.19 L202.39,400.32 L205.06,403.44 L207.73,409.19 L210.4,416.45 L213.08,424.2 L215.75,426.63 L218.42,429.71 L221.09,431.27 L223.76,433.51 L226.43,434.82 L229.1,435.44 L231.78,437.35 L234.45,438.37 L237.12,439.42 L239.79,439.88 L242.46,440.14 L245.13,440.43 L247.81,440.75 L250.48,441.33 L253.15,441.38 L255.82,441.35 L258.49,441.34 L261.16,441.13 L263.84,441.23 L266.51,441.56 L269.18,441.77 L271.85,441.81 L274.52,441.78 L277.19,442.05 L279.87,442.01 L282.54,442.02 L285.21,442.15 L287.88,442.15 L290.55,442.28 L293.22,442.33 L295.9,442.39 L298.57,442.4 L301.24,442.53 L303.91,442.5 L306.58,442.7 L309.25,442.72 L311.92,442.74 L314.6,442.6 L317.27,442.56 L319.94,442.58 L322.61,442.65 L325.28,442.66 L327.95,442.69 M197.05,411.48 L199.72,412.34 L202.39,417.85 L205.06,418.56 L207.73,424.82 L210.4,425.47 L213.08,429.12 L215.75,430.43 L218.42,432.22 L221.09,432.71 L223.76,434.56 L226.43,437.98 L229.1,439.4 L231.78,440.6 L234.45,440.41 L237.12,440.41 L239.79,440.68 L242.46,440.83 L245.13,441.19 L247.81,441.61 L250.48,441.46 L253.15,441.54 L255.82,441.73 L258.49,442.14 L261.16,442.31 L263.84,442.37 L266.51,442.45 L269.18,442.57 L271.85,442.55 L274.52,442.74 L277.19,442.77 L279.87,442.94 L282.54,443 L285.21,443 L287.88,442.92 L290.55,442.85 L293.22,442.85 L295.9,442.94 L298.57,442.96 L301.24,442.87 L303.91,442.76 L306.58,442.9 L309.25,442.92 L311.92,442.88 L314.6,442.85 L317.27,442.84 L319.94,442.76 L322.61,442.88 L325.28,442.77 L327.95,442.85 M197.05,400.98 L199.72,400.66 L202.39,401.55 L205.06,404.13 L207.73,408.41 L210.4,414.15 L213.08,417.82 L215.75,420.61 L218.42,425.57 L221.09,430.37 L223.76,433.78 L226.43,434.07 L229.1,435.18 L231.78,436.89 L234.45,438.08 L237.12,438.82 L239.79,439.28 L242.46,440.28 L245.13,440.89 L247.81,441.3 L250.48,441.54 L253.15,441.65 L255.82,441.86 L258.49,441.95 L261.16,442.48 L263.84,442.04 L266.51,442.04 L269.18,442.03 L271.85,442.18 L274.52,442.22 L277.19,442.08 L279.87,441.96 L282.54,442.08 L285.21,442.29 L287.88,442.35 L290.55,442.44 L293.22,442.42 L295.9,442.59 L298.57,442.64 L301.24,442.64 L303.91,442.71 L306.58,442.64 L309.25,442.76 L311.92,442.86 L314.6,442.89 L317.27,442.81 L319.94,442.82 L322.61,442.86 L325.28,442.82 L327.95,442.79 M197.05,401.04 L199.72,402.83 L202.39,403.88 L205.06,407.31 L207.73,414.63 L210.4,419.95 L213.08,424.28 L215.75,427.39 L218.42,429.51 L221.09,432.73 L223.76,434.74 L226.43,435.58 L229.1,436.35 L231.78,437.38 L234.45,437.67 L237.12,438.64 L239.79,439.21 L242.46,439.85 L245.13,440.59 L247.81,440.95 L250.48,441.19 L253.15,441.29 L255.82,441.45 L258.49,441.69 L261.16,441.96 L263.84,442.11 L266.51,442.13 L269.18,442.09 L271.85,442.57 L274.52,442.53 L277.19,442.45 L279.87,442.33 L282.54,442.36 L285.21,442.31 L287.88,442.42 L290.55,442.47 L293.22,442.47 L295.9,442.61 L298.57,442.7 L301.24,442.7 L303.91,442.83 L306.58,442.82 L309.25,442.94 L311.92,442.89 L314.6,442.88 L317.27,442.91 L319.94,442.95 L322.61,442.97 L325.28,443 L327.95,443 M197.05,399.56 L199.72,402.12 L202.39,404.8 L205.06,406.29 L207.73,409.65 L210.4,415.87 L213.08,418.88 L215.75,422.05 L218.42,425.22 L221.09,429.72 L223.76,433.29 L226.43,434.38 L229.1,434.73 L231.78,436.49 L234.45,437.26 L237.12,437.79 L239.79,439.16 L242.46,439.91 L245.13,440.13 L247.81,440.4 L250.48,440.73 L253.15,440.99 L255.82,441.13 L258.49,441.5 L261.16,441.27 L263.84,441.68 L266.51,442.12 L269.18,442.22 L271.85,442.06 L274.52,442.25 L277.19,442.37 L279.87,442.56 L282.54,442.62 L285.21,442.73 L287.88,442.86 L290.55,443 L293.22,443 L295.9,442.86 L298.57,442.87 L301.24,442.85 L303.91,442.67 L306.58,442.76 L309.25,442.86 L311.92,442.8 L314.6,442.91 L317.27,442.88 L319.94,442.77 L322.61,442.87 L325.28,442.93 L327.95,442.79 M197.05,404.21 L199.72,405.11 L202.39,407.58 L205.06,412.41 L207.73,415.17 L210.4,420.63 L213.08,423.73 L215.75,428.06 L218.42,430.84 L221.09,434.38 L223.76,435 L226.43,436.36 L229.1,436.85 L231.78,438.51 L234.45,439.52 L237.12,439.8 L239.79,440.21 L242.46,440.72 L245.13,441.16 L247.81,441.74 L250.48,441.95 L253.15,442.51 L255.82,442.49 L258.49,442.3 L261.16,442.2 L263.84,442.14 L266.51,442.29 L269.18,442.3 L271.85,442.36 L274.52,442.44 L277.19,442.52 L279.87,442.95 L282.54,442.83 L285.21,442.74 L287.88,442.66 L290.55,442.77 L293.22,442.71 L295.9,442.67 L298.57,442.9 L301.24,443 L303.91,443 L306.58,443 L309.25,443 L311.92,443 L314.6,442.89 L317.27,443 L319.94,443 L322.61,443 L325.28,443 L327.95,443 M197.05,404.08 L199.72,404.51 L202.39,404 L205.06,405.55 L207.73,408.01 L210.4,411.27 L213.08,416.24 L215.75,418.62 L218.42,421.83 L221.09,423.66 L223.76,427.72 L226.43,431.99 L229.1,435.01 L231.78,436.35 L234.45,437.47 L237.12,438.53 L239.79,439.02 L242.46,439.85 L245.13,440.51 L247.81,440.66 L250.48,440.99 L253.15,441.13 L255.82,441.06 L258.49,441.09 L261.16,441.41 L263.84,441.54 L266.51,441.94 L269.18,442.05 L271.85,442.02 L274.52,442.33 L277.19,442.2 L279.87,442.02 L282.54,442.05 L285.21,442 L287.88,441.93 L290.55,442.04 L293.22,442.03 L295.9,442.07 L298.57,442.29 L301.24,442.42 L303.91,442.51 L306.58,442.44 L309.25,442.46 L311.92,442.39 L314.6,442.46 L317.27,442.58 L319.94,442.41 L322.61,442.22 L325.28,442.26 L327.95,442.3" stroke="#8a8a8a" stroke-opacity="0.55" stroke-width="0.5"/>
<path d="M197.05,401.7 L198.38,402.05 L199.72,402.77 L201.05,403.76 L202.39,404.93 L203.72,406.33 L205.06,408.46 L206.4,411.05 L207.73,413.71 L209.07,416.09 L210.4,418.19 L211.74,420.25 L213.08,422.22 L214.41,424.04 L215.75,425.68 L217.08,427.23 L218.42,428.73 L219.75,430.13 L221.09,431.43 L222.43,432.58 L223.76,433.55 L225.1,434.38 L226.43,435.16 L227.77,435.89 L229.1,436.58 L230.44,437.21 L231.78,437.78 L233.11,438.29 L234.45,438.73 L235.78,439.1 L237.12,439.4 L238.46,439.67 L239.79,439.93 L241.13,440.17 L242.46,440.4 L243.8,440.61 L245.13,440.8 L246.47,440.98 L247.81,441.13 L249.14,441.27 L250.48,441.39 L251.81,441.5 L253.15,441.58 L254.49,441.65 L255.82,441.71 L257.16,441.77 L258.49,441.83 L259.83,441.88 L261.16,441.93 L262.5,441.98 L263.84,442.03 L265.17,442.07 L266.51,442.12 L267.84,442.16 L269.18,442.2 L270.51,442.23 L271.85,442.27 L273.19,442.3 L274.52,442.33 L275.86,442.36 L277.19,442.38 L278.53,442.41 L279.87,442.43 L281.2,442.45 L282.54,442.47 L283.87,442.49 L285.21,442.51 L286.54,442.52 L287.88,442.54 L289.22,442.55 L290.55,442.56 L291.89,442.57 L293.22,442.59 L294.56,442.6 L295.9,442.61 L297.23,442.62 L298.57,442.63 L299.9,442.64 L301.24,442.65 L302.57,442.66 L303.91,442.67 L305.25,442.68 L306.58,442.69 L307.92,442.7 L309.25,442.71 L310.59,442.72 L311.92,442.72 L313.26,442.73 L314.6,442.74 L315.93,442.74 L317.27,442.75 L318.6,442.75 L319.94,442.76 L321.28,442.76 L322.61,442.76 L323.95,442.77 L325.28,442.77 L326.62,442.77 L327.95,442.77" stroke="#1a1a1a" stroke-width="1.1"/>
<path d="M197.05,401.7 L198.38,404.92 L199.72,406.58 L201.05,407.19 L202.39,407.27 L203.72,405.22 L205.06,401.24 L206.4,396.07 L207.73,390.57 L209.07,386.12 L210.4,382.11 L211.74,378.97 L213.08,376.34 L214.41,373.89 L215.75,372.01 L217.08,371.11 L218.42,371.4 L219.75,372.36 L221.09,373.4 L222.43,374.4 L223.76,375.57 L225.1,376.81 L226.43,377.98 L227.77,378.96 L229.1,379.64 L230.44,379.9 L231.78,379.82 L233.11,379.62 L234.45,379.31 L235.78,378.92 L237.12,378.47 L238.46,378 L239.79,377.52 L241.13,377.06 L242.46,376.65 L243.8,376.23 L245.13,375.75 L246.47,375.24 L247.81,374.74 L249.14,374.28 L250.48,373.88 L251.81,373.58 L253.15,373.4 L254.49,373.3 L255.82,373.21 L257.16,373.13 L258.49,373.07 L259.83,373.01 L261.16,372.97 L262.5,372.94 L263.84,372.94 L265.17,373 L266.51,373.15 L267.84,373.38 L269.18,373.63 L270.51,373.89 L271.85,374.11 L273.19,374.27 L274.52,374.33 L275.86,374.3 L277.19,374.23 L278.53,374.13 L279.87,374 L281.2,373.86 L282.54,373.73 L283.87,373.6 L285.21,373.5 L286.54,373.43 L287.88,373.4 L289.22,373.4 L290.55,373.4 L291.89,373.4 L293.22,373.4 L294.56,373.4 L295.9,373.4 L297.23,373.4 L298.57,373.4 L299.9,373.4 L301.24,373.4 L302.57,373.43 L303.91,373.52 L305.25,373.66 L306.58,373.86 L307.92,374.85 L309.25,375.72 L310.59,374.84 L311.92,373.86 L313.26,373.7 L314.6,373.55 L315.93,373.42 L317.27,373.31 L318.6,373.21 L319.94,373.13 L321.28,373.07 L322.61,373.02 L323.95,372.98 L325.28,372.96 L326.62,372.94 L327.95,372.94" stroke="#ff1f1f" stroke-width="1.15" stroke-dasharray="4.5 3.3"/>
</g>
<path d="M190.5,345.3 V447.4 H334.5" fill="none" stroke="#666" stroke-width="0.8"/>
<line x1="187.1" y1="443" x2="190.5" y2="443" stroke="#666" stroke-width="0.8"/>
<text x="183.3" y="445.4" font-size="7.8" fill="#2a2a2a" stroke="#2a2a2a" stroke-width="0.12" text-anchor="end">0</text>
<line x1="187.1" y1="419.8" x2="190.5" y2="419.8" stroke="#666" stroke-width="0.8"/>
<text x="183.3" y="422.2" font-size="7.8" fill="#2a2a2a" stroke="#2a2a2a" stroke-width="0.12" text-anchor="end">5</text>
<line x1="187.1" y1="396.6" x2="190.5" y2="396.6" stroke="#666" stroke-width="0.8"/>
<text x="183.3" y="399" font-size="7.8" fill="#2a2a2a" stroke="#2a2a2a" stroke-width="0.12" text-anchor="end">10</text>
<line x1="187.1" y1="373.4" x2="190.5" y2="373.4" stroke="#666" stroke-width="0.8"/>
<text x="183.3" y="375.8" font-size="7.8" fill="#2a2a2a" stroke="#2a2a2a" stroke-width="0.12" text-anchor="end">15</text>
<line x1="187.1" y1="350.2" x2="190.5" y2="350.2" stroke="#666" stroke-width="0.8"/>
<text x="183.3" y="352.6" font-size="7.8" fill="#2a2a2a" stroke="#2a2a2a" stroke-width="0.12" text-anchor="end">20</text>
<line x1="205.06" y1="447.4" x2="205.06" y2="450.8" stroke="#666" stroke-width="0.8"/>
<text x="205.06" y="460.3" font-size="7.8" fill="#2a2a2a" stroke="#2a2a2a" stroke-width="0.12" text-anchor="middle">2004</text>
<line x1="234.45" y1="447.4" x2="234.45" y2="450.8" stroke="#666" stroke-width="0.8"/>
<text x="234.45" y="460.3" font-size="7.8" fill="#2a2a2a" stroke="#2a2a2a" stroke-width="0.12" text-anchor="middle">2015</text>
<line x1="263.84" y1="447.4" x2="263.84" y2="450.8" stroke="#666" stroke-width="0.8"/>
<text x="263.84" y="460.3" font-size="7.8" fill="#2a2a2a" stroke="#2a2a2a" stroke-width="0.12" text-anchor="middle">2026</text>
<line x1="295.9" y1="447.4" x2="295.9" y2="450.8" stroke="#666" stroke-width="0.8"/>
<text x="295.9" y="460.3" font-size="7.8" fill="#2a2a2a" stroke="#2a2a2a" stroke-width="0.12" text-anchor="middle">2038</text>
<line x1="327.95" y1="447.4" x2="327.95" y2="450.8" stroke="#666" stroke-width="0.8"/>
<text x="327.95" y="460.3" font-size="7.8" fill="#2a2a2a" stroke="#2a2a2a" stroke-width="0.12" text-anchor="middle">2050</text>
<path d="M197.45,358.57 C197.63,358.32 198.79,357.51 199.29,357.04 C199.79,356.57 201.17,355.12 201.74,354.58 C202.31,354.04 203.63,352.87 204.2,352.44 C204.77,352.01 206.15,351.22 206.65,350.9 C207.15,350.58 207.99,349.93 208.49,349.68 C208.99,349.43 210.37,348.87 210.94,348.76 C211.51,348.65 212.75,348.69 213.39,348.76 C214.03,348.83 215.6,349.23 216.46,349.37 C217.32,349.51 219.96,349.81 220.75,349.99 C221.54,350.17 222.73,350.65 223.2,350.9 C223.67,351.15 224.53,351.81 224.74,352.13 C224.95,352.45 225.08,353.37 225.04,353.66 C225,353.95 224.29,354.4 224.43,354.58 C224.57,354.76 225.7,355.27 226.27,355.2 C226.84,355.13 228.69,354.26 229.33,353.97 C229.97,353.68 231.29,352.95 231.79,352.74 C232.29,352.53 233.49,352.06 233.63,352.13 C233.77,352.2 233.3,352.89 233.01,353.36 C232.72,353.83 231.31,355.48 231.17,356.12 C231.03,356.76 231.61,358.27 231.79,358.88 C231.97,359.49 232.78,361.04 232.71,361.33 C232.64,361.62 231.64,361.51 231.17,361.33 C230.7,361.15 229.36,360.12 228.72,359.8 C228.08,359.48 226.09,358.68 225.66,358.57 C225.23,358.46 225.15,358.67 225.04,358.88 C224.93,359.09 224.95,360.09 224.74,360.41 C224.53,360.73 223.67,361.44 223.2,361.63 C222.73,361.82 221.32,362.01 220.75,362.06 C220.18,362.11 219.02,362.06 218.3,362.06 C217.58,362.06 215.12,361.86 214.62,362.06 C214.12,362.26 214.12,363.4 214.01,363.78 C213.9,364.16 213.91,365.24 213.7,365.31 C213.49,365.38 212.56,364.68 212.17,364.39 C211.78,364.1 210.72,363.18 210.33,362.86 C209.94,362.54 209.3,361.81 208.8,361.63 C208.3,361.45 206.79,361.44 206.04,361.33 C205.29,361.22 203.15,360.89 202.36,360.71 C201.57,360.53 199.83,359.98 199.29,359.8 C198.75,359.62 197.97,359.32 197.76,359.18 C197.55,359.04 197.27,358.82 197.45,358.57Z" fill="#000"/>
<line x1="379.06" y1="345.3" x2="379.06" y2="447.4" stroke="#bbb" stroke-width="1.1" stroke-dasharray="2.8 2.4"/>
<line x1="437.84" y1="345.3" x2="437.84" y2="447.4" stroke="#bbb" stroke-width="1.1" stroke-dasharray="2.8 2.4"/>
<clipPath id="cp22"><rect x="364.5" y="345.3" width="144" height="102.1"/></clipPath>
<g clip-path="url(#cp22)" fill="none" stroke-linejoin="round" stroke-linecap="round">
<path d="M371.05,414.54 L373.72,420.06 L376.39,424.61 L379.06,418.7 L381.73,420.43 L384.4,420.24 L387.08,418.57 L389.75,414.68 L392.42,415.3 L395.09,419.95 L397.76,409.89 L400.43,415.08 L403.1,421.46 L405.78,419.86 L408.45,414.98 L411.12,423.92 L413.79,415.67 L416.46,417.73 L419.13,409.69 L421.81,414.11 L424.48,414.18 L427.15,411 L429.82,406.5 L432.49,411.68 L435.16,409.09 L437.84,408.87 L440.51,403.45 L443.18,408.04 L445.85,405.61 L448.52,407.51 L451.19,401.81 L453.87,400.88 L456.54,396.45 L459.21,384.59 L461.88,377.24 L464.55,378.71 L467.22,382.34 L469.9,372.25 L472.57,376.2 L475.24,378.35 L477.91,374.37 L480.58,403.9 L483.25,394.57 L485.92,399.63 L488.6,395.04 L491.27,377.08 L493.94,364.78 L496.61,369.26 L499.28,401.59 L501.95,397.07 M371.05,418.76 L373.72,421.31 L376.39,420.91 L379.06,412.22 L381.73,413.9 L384.4,422.42 L387.08,421.98 L389.75,422 L392.42,420.04 L395.09,426.01 L397.76,420.74 L400.43,426.59 L403.1,425.67 L405.78,415.39 L408.45,413.85 L411.12,420.7 L413.79,425.3 L416.46,425.67 L419.13,430.83 L421.81,431.75 L424.48,419.14 L427.15,413.9 L429.82,399.66 L432.49,393.76 L435.16,390.85 L437.84,378.44 L440.51,373.42 L443.18,381.74 L445.85,368.7 L448.52,373.12 L451.19,369.93 L453.87,382.81 L456.54,368.19 L459.21,359.25 L461.88,361.91 L464.55,361.49 L467.22,366.59 L469.9,372.66 L472.57,362.68 L475.24,369.93 L477.91,361.67 L480.58,357.69 L483.25,363.63 L485.92,403.4 L488.6,396.98 L491.27,398.42 L493.94,370.43 L496.61,373.52 L499.28,353.59 L501.95,374.22 M371.05,427.09 L373.72,416.77 L376.39,415.38 L379.06,417.46 L381.73,420.82 L384.4,422.17 L387.08,420.96 L389.75,422.17 L392.42,422.67 L395.09,421.76 L397.76,415.23 L400.43,412.47 L403.1,399.55 L405.78,398.92 L408.45,393.57 L411.12,389.9 L413.79,386.89 L416.46,377.84 L419.13,379.21 L421.81,381.56 L424.48,393.09 L427.15,390.79 L429.82,387.38 L432.49,383.48 L435.16,366.32 L437.84,375.96 L440.51,382.53 L443.18,370.61 L445.85,379.53 L448.52,376.51 L451.19,373.31 L453.87,370.39 L456.54,377.21 L459.21,406.46 L461.88,393.15 L464.55,400.8 L467.22,394.97 L469.9,386.3 L472.57,382.29 L475.24,389.89 L477.91,384.54 L480.58,373.89 L483.25,383.33 L485.92,381.4 L488.6,379.12 L491.27,388.9 L493.94,382.06 L496.61,376.37 L499.28,369.23 L501.95,392.67 M371.05,410.94 L373.72,415.2 L376.39,417.95 L379.06,416.17 L381.73,416.15 L384.4,413.23 L387.08,414.55 L389.75,415.96 L392.42,411.56 L395.09,416.02 L397.76,413.44 L400.43,398.79 L403.1,394.46 L405.78,390.31 L408.45,391.59 L411.12,384.39 L413.79,369.88 L416.46,380.01 L419.13,373.68 L421.81,372.82 L424.48,411.61 L427.15,392.99 L429.82,388.24 L432.49,365.13 L435.16,355.76 L437.84,358.36 L440.51,364.77 L443.18,374.57 L445.85,384.84 L448.52,408.95 L451.19,404.23 L453.87,396.79 L456.54,389.62 L459.21,399.98 L461.88,386.35 L464.55,386.82 L467.22,426.13 L469.9,420.67 L472.57,391.29 L475.24,407.11 L477.91,399.13 L480.58,380.19 L483.25,377.76 L485.92,395.88 L488.6,386.67 L491.27,377.17 L493.94,389.6 L496.61,380.75 L499.28,378.84 L501.95,367.65 M371.05,420.22 L373.72,416.21 L376.39,415.67 L379.06,418.87 L381.73,427.88 L384.4,432.87 L387.08,417.26 L389.75,422.25 L392.42,426.06 L395.09,415.21 L397.76,423.3 L400.43,417.64 L403.1,414.25 L405.78,416.18 L408.45,414.19 L411.12,423.5 L413.79,427.61 L416.46,423.3 L419.13,420.7 L421.81,416.41 L424.48,402.39 L427.15,401.94 L429.82,400.61 L432.49,393.8 L435.16,384.1 L437.84,382.27 L440.51,374.11 L443.18,371.07 L445.85,380.03 L448.52,373.68 L451.19,375.74 L453.87,367.78 L456.54,374.45 L459.21,370.78 L461.88,363.96 L464.55,370.03 L467.22,368.18 L469.9,386.13 L472.57,388.01 L475.24,400.62 L477.91,388.54 L480.58,392.12 L483.25,384.56 L485.92,401.08 L488.6,399.56 L491.27,394.17 L493.94,386.84 L496.61,397.86 L499.28,391.87 L501.95,362.17 M371.05,426.64 L373.72,421.49 L376.39,419.68 L379.06,415.1 L381.73,419.88 L384.4,423.9 L387.08,429.49 L389.75,422.48 L392.42,420.07 L395.09,408.26 L397.76,400.82 L400.43,401.5 L403.1,412.07 L405.78,409.08 L408.45,402.08 L411.12,402.6 L413.79,400.5 L416.46,397.26 L419.13,396.76 L421.81,394.73 L424.48,392.69 L427.15,391.71 L429.82,383.13 L432.49,375.8 L435.16,389.54 L437.84,378.87 L440.51,383.29 L443.18,385.84 L445.85,383.9 L448.52,384.75 L451.19,375.2 L453.87,367.84 L456.54,415.07 L459.21,413.38 L461.88,392.75 L464.55,376.29 L467.22,375.6 L469.9,383.02 L472.57,376.82 L475.24,369.77 L477.91,377.2 L480.58,364.36 L483.25,373.95 L485.92,371.97 L488.6,383.39 L491.27,387.32 L493.94,391.21 L496.61,387.88 L499.28,376.64 L501.95,418.02 M371.05,426.15 L373.72,417.09 L376.39,420.52 L379.06,427 L381.73,421.59 L384.4,419.06 L387.08,419.22 L389.75,417.22 L392.42,417.24 L395.09,414.37 L397.76,416.26 L400.43,417.61 L403.1,409.61 L405.78,400.33 L408.45,391.96 L411.12,383.8 L413.79,378.39 L416.46,375.86 L419.13,383.5 L421.81,388.98 L424.48,375.64 L427.15,363.21 L429.82,360.88 L432.49,392.28 L435.16,385.72 L437.84,414.36 L440.51,392.32 L443.18,394.63 L445.85,379.88 L448.52,373.64 L451.19,375.89 L453.87,380.44 L456.54,366.44 L459.21,367.61 L461.88,376.07 L464.55,376.37 L467.22,369.35 L469.9,380.56 L472.57,369.21 L475.24,378.07 L477.91,382.03 L480.58,380.51 L483.25,386.85 L485.92,388.41 L488.6,376.23 L491.27,369.1 L493.94,371.97 L496.61,375.42 L499.28,384.33 L501.95,386.33 M371.05,427.55 L373.72,421.18 L376.39,429.31 L379.06,424.32 L381.73,421.35 L384.4,420.99 L387.08,426.75 L389.75,422.25 L392.42,419.4 L395.09,417.51 L397.76,409.7 L400.43,406.82 L403.1,406.18 L405.78,414.54 L408.45,414.04 L411.12,409.2 L413.79,396.24 L416.46,400.3 L419.13,382.72 L421.81,374.85 L424.48,366.31 L427.15,366.74 L429.82,356.65 L432.49,368.8 L435.16,372.7 L437.84,382.05 L440.51,368.48 L443.18,371.72 L445.85,364.02 L448.52,360.35 L451.19,375.1 L453.87,404.15 L456.54,395.83 L459.21,388.7 L461.88,412.56 L464.55,401.87 L467.22,389.06 L469.9,382.88 L472.57,388.53 L475.24,389.57 L477.91,384.85 L480.58,369.89 L483.25,373.83 L485.92,360.86 L488.6,394.41 L491.27,394.89 L493.94,390.77 L496.61,381.45 L499.28,366.47 L501.95,368.09 M371.05,418.3 L373.72,421.11 L376.39,418.36 L379.06,419.78 L381.73,423.17 L384.4,419.72 L387.08,416.46 L389.75,428.42 L392.42,421.18 L395.09,421.62 L397.76,424.53 L400.43,415.46 L403.1,413.18 L405.78,422.22 L408.45,427.35 L411.12,418.68 L413.79,422.74 L416.46,421.94 L419.13,430.83 L421.81,427.59 L424.48,414.12 L427.15,419.3 L429.82,416.94 L432.49,406.05 L435.16,403.34 L437.84,396.76 L440.51,400.29 L443.18,398.84 L445.85,410.82 L448.52,407.04 L451.19,409.44 L453.87,395.11 L456.54,399.63 L459.21,395.47 L461.88,401.88 L464.55,399.07 L467.22,395 L469.9,398.87 L472.57,385.78 L475.24,372.82 L477.91,391.67 L480.58,392.39 L483.25,416.55 L485.92,438.38 L488.6,433.78 L491.27,419.46 L493.94,394.9 L496.61,377.23 L499.28,379.22 L501.95,376.08 M371.05,416.65 L373.72,414.82 L376.39,427.63 L379.06,425.48 L381.73,416.77 L384.4,419.22 L387.08,415.2 L389.75,414.45 L392.42,417.51 L395.09,415.6 L397.76,411.05 L400.43,409.49 L403.1,408.07 L405.78,420.28 L408.45,416.77 L411.12,424.86 L413.79,423.03 L416.46,421.47 L419.13,411.33 L421.81,407.21 L424.48,391.23 L427.15,388.89 L429.82,384.52 L432.49,388.22 L435.16,386.63 L437.84,382.99 L440.51,371.18 L443.18,370.72 L445.85,374.29 L448.52,368.78 L451.19,364.96 L453.87,398.23 L456.54,402.75 L459.21,392.15 L461.88,384.82 L464.55,388.71 L467.22,377.64 L469.9,392.34 L472.57,433.98 L475.24,417.92 L477.91,417.75 L480.58,408.46 L483.25,399.29 L485.92,386.15 L488.6,390.38 L491.27,386.43 L493.94,435.06 L496.61,425.1 L499.28,405.14 L501.95,389.97 M371.05,421.01 L373.72,411.17 L376.39,420.92 L379.06,422.52 L381.73,427.2 L384.4,427.84 L387.08,426.06 L389.75,426.15 L392.42,421.89 L395.09,411.09 L397.76,417.11 L400.43,408.7 L403.1,396.82 L405.78,381.57 L408.45,375.26 L411.12,367.56 L413.79,358.48 L416.46,357.89 L419.13,374.52 L421.81,368.96 L424.48,371.29 L427.15,369.96 L429.82,372.28 L432.49,357.89 L435.16,357.89 L437.84,357.89 L440.51,357.89 L443.18,394.69 L445.85,398 L448.52,390.21 L451.19,384.64 L453.87,371.94 L456.54,357.89 L459.21,362.29 L461.88,367.92 L464.55,360.67 L467.22,362.76 L469.9,366.11 L472.57,369.47 L475.24,382.2 L477.91,382.43 L480.58,388.74 L483.25,415.38 L485.92,405.84 L488.6,403.33 L491.27,404.49 L493.94,387.52 L496.61,376.98 L499.28,370.92 L501.95,373.99 M371.05,421.53 L373.72,425.61 L376.39,422.18 L379.06,422.89 L381.73,426.02 L384.4,432.2 L387.08,427.03 L389.75,413.17 L392.42,410.03 L395.09,408.27 L397.76,413.06 L400.43,411.58 L403.1,419.51 L405.78,419.71 L408.45,415.49 L411.12,411.29 L413.79,404.54 L416.46,393.7 L419.13,386.38 L421.81,377.16 L424.48,381.56 L427.15,381.38 L429.82,403.72 L432.49,395.12 L435.16,393.97 L437.84,377.63 L440.51,369.16 L443.18,370.55 L445.85,364.79 L448.52,360.95 L451.19,366.41 L453.87,359.3 L456.54,372.75 L459.21,365.32 L461.88,372.77 L464.55,380.99 L467.22,382.29 L469.9,376.5 L472.57,382.49 L475.24,383.39 L477.91,416.49 L480.58,411.62 L483.25,392.19 L485.92,372.14 L488.6,365.28 L491.27,367.82 L493.94,368.38 L496.61,375.96 L499.28,379.24 L501.95,383.08 M371.05,415.89 L373.72,430.07 L376.39,427.96 L379.06,429.79 L381.73,422.1 L384.4,417.03 L387.08,425.23 L389.75,424.37 L392.42,419.81 L395.09,419.78 L397.76,414.57 L400.43,412.61 L403.1,413.71 L405.78,411.86 L408.45,412.43 L411.12,416.33 L413.79,420.61 L416.46,422.9 L419.13,417.47 L421.81,416.38 L424.48,409.67 L427.15,416.52 L429.82,416.94 L432.49,413.36 L435.16,404.77 L437.84,402.67 L440.51,403.78 L443.18,402.72 L445.85,393.13 L448.52,388.54 L451.19,382.09 L453.87,358.08 L456.54,369.9 L459.21,365.93 L461.88,367.5 L464.55,359.72 L467.22,357.86 L469.9,357.86 L472.57,364.74 L475.24,417.41 L477.91,403.29 L480.58,393.77 L483.25,383.03 L485.92,385.59 L488.6,391.24 L491.27,399.28 L493.94,387.15 L496.61,380.52 L499.28,423.33 L501.95,401.34 M371.05,424.52 L373.72,424.9 L376.39,427.55 L379.06,424.09 L381.73,417.14 L384.4,414.51 L387.08,416.16 L389.75,411.41 L392.42,422.4 L395.09,409.18 L397.76,413.6 L400.43,423.49 L403.1,423.42 L405.78,424.82 L408.45,422.42 L411.12,418.95 L413.79,431.21 L416.46,417.84 L419.13,410.71 L421.81,422.86 L424.48,410.31 L427.15,408.13 L429.82,400.32 L432.49,391.93 L435.16,399.78 L437.84,380.51 L440.51,382.44 L443.18,365.54 L445.85,367.91 L448.52,366.2 L451.19,367.1 L453.87,377.95 L456.54,372.51 L459.21,388.59 L461.88,384.32 L464.55,385.81 L467.22,379.46 L469.9,368.52 L472.57,386.69 L475.24,381.47 L477.91,369.06 L480.58,367.76 L483.25,365.34 L485.92,376.5 L488.6,388.93 L491.27,395.33 L493.94,389.05 L496.61,402.18 L499.28,393.46 L501.95,370.93 M371.05,418.5 L373.72,423.11 L376.39,414.19 L379.06,416.86 L381.73,414.12 L384.4,417.29 L387.08,409.35 L389.75,411.84 L392.42,412.42 L395.09,419.77 L397.76,420.24 L400.43,418.08 L403.1,421.6 L405.78,408.43 L408.45,415.6 L411.12,421.24 L413.79,415.82 L416.46,419.8 L419.13,418.13 L421.81,421.57 L424.48,420.64 L427.15,412.98 L429.82,413.02 L432.49,407.54 L435.16,410.05 L437.84,413.96 L440.51,417.34 L443.18,415.28 L445.85,415.05 L448.52,410.3 L451.19,403.82 L453.87,403.82 L456.54,401.48 L459.21,403.54 L461.88,404.69 L464.55,401.35 L467.22,398.38 L469.9,395.36 L472.57,403 L475.24,398.69 L477.91,408.09 L480.58,400.28 L483.25,389.05 L485.92,390.12 L488.6,389.58 L491.27,401.5 L493.94,391.66 L496.61,440.93 L499.28,418.61 L501.95,433.92 M371.05,420.45 L373.72,422.08 L376.39,415.14 L379.06,416.51 L381.73,414.55 L384.4,409.63 L387.08,416.59 L389.75,421.34 L392.42,414.02 L395.09,418.37 L397.76,418.78 L400.43,412.19 L403.1,413.72 L405.78,411.81 L408.45,423.77 L411.12,420.95 L413.79,415.02 L416.46,423.09 L419.13,419.75 L421.81,417.69 L424.48,415.02 L427.15,397.92 L429.82,401.67 L432.49,397.74 L435.16,388.32 L437.84,392.91 L440.51,400.07 L443.18,389.62 L445.85,392.95 L448.52,388.55 L451.19,384.17 L453.87,392.51 L456.54,378.65 L459.21,385.34 L461.88,391.02 L464.55,397.71 L467.22,391.77 L469.9,393.95 L472.57,402.87 L475.24,397.68 L477.91,435.74 L480.58,435.07 L483.25,430.06 L485.92,416.06 L488.6,405.02 L491.27,393.9 L493.94,404.45 L496.61,405.26 L499.28,400.93 L501.95,391.15 M371.05,410.08 L373.72,413.93 L376.39,410.71 L379.06,412.2 L381.73,419.12 L384.4,410.59 L387.08,410.86 L389.75,414.4 L392.42,415.49 L395.09,421.17 L397.76,419.45 L400.43,420.77 L403.1,419.21 L405.78,421.78 L408.45,418.61 L411.12,419.14 L413.79,427.61 L416.46,424.93 L419.13,426.88 L421.81,431.33 L424.48,419.55 L427.15,406.83 L429.82,400.94 L432.49,394.68 L435.16,386.13 L437.84,373.98 L440.51,385.02 L443.18,378.69 L445.85,357.79 L448.52,373.45 L451.19,384.96 L453.87,368.89 L456.54,364.71 L459.21,382.99 L461.88,381.39 L464.55,375.93 L467.22,388.12 L469.9,381.79 L472.57,392.29 L475.24,377.23 L477.91,372.52 L480.58,413.68 L483.25,418.05 L485.92,409.69 L488.6,399.77 L491.27,394.5 L493.94,389.97 L496.61,386.57 L499.28,374.42 L501.95,379.54 M371.05,412.21 L373.72,420.11 L376.39,421.99 L379.06,423.41 L381.73,422.54 L384.4,419.49 L387.08,411.62 L389.75,411.31 L392.42,412.68 L395.09,407.94 L397.76,416.65 L400.43,424.89 L403.1,418.78 L405.78,418.64 L408.45,419.45 L411.12,414.45 L413.79,419.27 L416.46,419.2 L419.13,417.92 L421.81,417.69 L424.48,410.3 L427.15,414.59 L429.82,412.81 L432.49,424.88 L435.16,409.98 L437.84,414.6 L440.51,409.39 L443.18,393.37 L445.85,395.15 L448.52,396.31 L451.19,388.07 L453.87,385.98 L456.54,385.06 L459.21,364.73 L461.88,370.36 L464.55,370.08 L467.22,375.04 L469.9,384.76 L472.57,376.07 L475.24,415.54 L477.91,408.07 L480.58,435.07 L483.25,420.98 L485.92,405.18 L488.6,395.27 L491.27,390.66 L493.94,387.09 L496.61,371.39 L499.28,371.07 L501.95,370.97 M371.05,421.52 L373.72,420.09 L376.39,423.86 L379.06,422.89 L381.73,419.84 L384.4,425.96 L387.08,424.47 L389.75,426.39 L392.42,416.66 L395.09,413.53 L397.76,410.64 L400.43,410.56 L403.1,410.64 L405.78,412.32 L408.45,421.17 L411.12,415.29 L413.79,422.61 L416.46,408.6 L419.13,413.68 L421.81,416.15 L424.48,420.75 L427.15,414.61 L429.82,408.36 L432.49,418.68 L435.16,416.15 L437.84,411.94 L440.51,413.46 L443.18,404.07 L445.85,398.3 L448.52,408.38 L451.19,399.79 L453.87,398.29 L456.54,385.25 L459.21,400.33 L461.88,391.4 L464.55,395.51 L467.22,397.64 L469.9,402.81 L472.57,411.63 L475.24,408.76 L477.91,399.85 L480.58,396.76 L483.25,397.84 L485.92,394.37 L488.6,395.51 L491.27,393.56 L493.94,436.12 L496.61,440.58 L499.28,422.46 L501.95,390.69 M371.05,421.91 L373.72,423.43 L376.39,415.98 L379.06,429.25 L381.73,422.62 L384.4,421.93 L387.08,424.51 L389.75,421.43 L392.42,408.38 L395.09,403.81 L397.76,399.32 L400.43,401.3 L403.1,399.95 L405.78,397.35 L408.45,381.86 L411.12,378.54 L413.79,373.55 L416.46,386.7 L419.13,393.21 L421.81,389.71 L424.48,414.25 L427.15,406.21 L429.82,392.25 L432.49,377.92 L435.16,407.71 L437.84,392.83 L440.51,397.6 L443.18,385.39 L445.85,386.02 L448.52,372.29 L451.19,383.62 L453.87,391.74 L456.54,388.35 L459.21,390.48 L461.88,401.3 L464.55,389.62 L467.22,387.76 L469.9,390.59 L472.57,441.13 L475.24,432.26 L477.91,435.74 L480.58,421.41 L483.25,420.39 L485.92,405.59 L488.6,433.15 L491.27,422.28 L493.94,417.16 L496.61,388.21 L499.28,392.26 L501.95,377.47" stroke="#8a8a8a" stroke-opacity="0.55" stroke-width="0.5"/>
<path d="M371.05,419.75 L379.06,420.52 L384.4,420.06 L389.48,418.05 L393.75,413.7 L402.04,410.61 L408.45,406.26 L418.07,400.53 L421.27,401.93 L429.55,391.54 L439.17,381.62 L448.52,379.91 L456,378.21 L461.35,381.62 L466.69,379.45 L474.97,392.94 L482.45,391.54 L488.6,394.18 L496.08,390.92 L501.95,382.39" stroke="#1a1a1a" stroke-width="1.1"/>
<path d="M371.05,419.75 L376.39,421.3 L384.4,423.16 L391.88,423.78 L397.76,423.47 L403.1,425.95 L408.45,429.82 L412.72,430.91 L417,431.53 L425.28,431.53 L429.82,428.12 L437.84,424.71 L444.51,425.18 L452.8,424.25 L461.88,427.5 L469.9,426.26 L475.24,425.33 L483.25,427.5 L492.34,431.53 L501.95,432.77" stroke="#ff1f1f" stroke-width="1.15" stroke-dasharray="4.5 3.3"/>
</g>
<path d="M364.5,345.3 V447.4 H508.5" fill="none" stroke="#666" stroke-width="0.8"/>
<line x1="361.1" y1="443" x2="364.5" y2="443" stroke="#666" stroke-width="0.8"/>
<text x="357.3" y="445.4" font-size="7.8" fill="#2a2a2a" stroke="#2a2a2a" stroke-width="0.12" text-anchor="end">0</text>
<line x1="361.1" y1="412" x2="364.5" y2="412" stroke="#666" stroke-width="0.8"/>
<text x="357.3" y="414.4" font-size="7.8" fill="#2a2a2a" stroke="#2a2a2a" stroke-width="0.12" text-anchor="end">20</text>
<line x1="361.1" y1="381" x2="364.5" y2="381" stroke="#666" stroke-width="0.8"/>
<text x="357.3" y="383.4" font-size="7.8" fill="#2a2a2a" stroke="#2a2a2a" stroke-width="0.12" text-anchor="end">40</text>
<line x1="361.1" y1="350" x2="364.5" y2="350" stroke="#666" stroke-width="0.8"/>
<text x="357.3" y="352.4" font-size="7.8" fill="#2a2a2a" stroke="#2a2a2a" stroke-width="0.12" text-anchor="end">60</text>
<line x1="379.06" y1="447.4" x2="379.06" y2="450.8" stroke="#666" stroke-width="0.8"/>
<text x="379.06" y="460.3" font-size="7.8" fill="#2a2a2a" stroke="#2a2a2a" stroke-width="0.12" text-anchor="middle">2004</text>
<line x1="408.45" y1="447.4" x2="408.45" y2="450.8" stroke="#666" stroke-width="0.8"/>
<text x="408.45" y="460.3" font-size="7.8" fill="#2a2a2a" stroke="#2a2a2a" stroke-width="0.12" text-anchor="middle">2015</text>
<line x1="437.84" y1="447.4" x2="437.84" y2="450.8" stroke="#666" stroke-width="0.8"/>
<text x="437.84" y="460.3" font-size="7.8" fill="#2a2a2a" stroke="#2a2a2a" stroke-width="0.12" text-anchor="middle">2026</text>
<line x1="469.9" y1="447.4" x2="469.9" y2="450.8" stroke="#666" stroke-width="0.8"/>
<text x="469.9" y="460.3" font-size="7.8" fill="#2a2a2a" stroke="#2a2a2a" stroke-width="0.12" text-anchor="middle">2038</text>
<line x1="501.95" y1="447.4" x2="501.95" y2="450.8" stroke="#666" stroke-width="0.8"/>
<text x="501.95" y="460.3" font-size="7.8" fill="#2a2a2a" stroke="#2a2a2a" stroke-width="0.12" text-anchor="middle">2050</text>
<path d="M379.25,356.04 L376.65,348.13 L376.07,348.28 L377.6,356.46Z M379.83,356.32 L380.3,348.32 L379.71,348.24 L378.15,356.1Z M378.4,356.02 L372.48,350.46 L372.05,350.87 L377.16,357.18Z M380.41,357.09 L384.83,350.88 L384.37,350.5 L379.1,356Z M380.52,357.73 L386.93,353.61 L386.65,353.08 L379.71,356.24Z M377.55,356.51 L369.17,354.99 L369.02,355.57 L377.14,358.16Z M380.23,358.66 L388.25,358.73 L388.3,358.13 L380.36,356.97Z M377.19,357.08 L369.06,358.85 L369.15,359.45 L377.44,358.76Z M379.52,359.27 L386.42,363.55 L386.77,363.06 L380.51,357.89Z M377.12,358.07 L371.1,364.25 L371.51,364.69 L378.26,359.34Z M378.95,359.42 L383.88,365.62 L384.37,365.28 L380.35,358.45Z M377.35,358.63 L373.92,366.32 L374.45,366.6 L378.85,359.42Z M377.92,359.18 L378.26,368.39 L378.86,368.4 L379.62,359.22Z" fill="#222" stroke="#222" stroke-width="0.25" stroke-linejoin="round"/><circle cx="378.8" cy="357.7" r="2.6" fill="#222"/>
<line x1="553.06" y1="345.3" x2="553.06" y2="447.4" stroke="#bbb" stroke-width="1.1" stroke-dasharray="2.8 2.4"/>
<line x1="611.84" y1="345.3" x2="611.84" y2="447.4" stroke="#bbb" stroke-width="1.1" stroke-dasharray="2.8 2.4"/>
<clipPath id="cp23"><rect x="538.5" y="345.3" width="144" height="102.1"/></clipPath>
<g clip-path="url(#cp23)" fill="none" stroke-linejoin="round" stroke-linecap="round">
<path d="M545.05,387.81 L547.72,394.24 L550.39,391.94 L553.06,392.38 L555.73,393.11 L558.4,391.37 L561.08,393.71 L563.75,394.94 L566.42,409.5 L569.09,409.47 L571.76,408.45 L574.43,405.83 L577.1,403.48 L579.78,404.16 L582.45,405.84 L585.12,406.43 L587.79,408.38 L590.46,405.97 L593.13,402.7 L595.81,399.21 L598.48,400.16 L601.15,399.3 L603.82,399.94 L606.49,400.1 L609.16,401.75 L611.84,408.6 L614.51,411.99 L617.18,415.62 L619.85,411.07 L622.52,411.09 L625.19,413.12 L627.87,412.82 L630.54,413.07 L633.21,413.19 L635.88,412.6 L638.55,409.29 L641.22,401.88 L643.9,397.24 L646.57,398.74 L649.24,400.66 L651.91,405.65 L654.58,403.62 L657.25,403.34 L659.92,408.26 L662.6,406.91 L665.27,407.58 L667.94,403.59 L670.61,402.65 L673.28,403.32 L675.95,405.13 M545.05,392.13 L547.72,396.16 L550.39,390.86 L553.06,391.65 L555.73,392.76 L558.4,393.48 L561.08,394.49 L563.75,393.38 L566.42,406.34 L569.09,403.84 L571.76,404.63 L574.43,401.16 L577.1,397.2 L579.78,398.85 L582.45,401.17 L585.12,403.03 L587.79,401.41 L590.46,403.6 L593.13,402.38 L595.81,399.76 L598.48,400.28 L601.15,403.46 L603.82,402.19 L606.49,401.21 L609.16,399.52 L611.84,396.33 L614.51,394.69 L617.18,393.71 L619.85,388.85 L622.52,385.54 L625.19,393.64 L627.87,393.58 L630.54,391.63 L633.21,397.05 L635.88,397.25 L638.55,393.57 L641.22,399.77 L643.9,403.5 L646.57,404.24 L649.24,403.64 L651.91,410.34 L654.58,409.54 L657.25,420.76 L659.92,423.15 L662.6,422.02 L665.27,418.46 L667.94,413.79 L670.61,415 L673.28,419.41 L675.95,426.39 M545.05,394.29 L547.72,395.72 L550.39,399.26 L553.06,397.29 L555.73,396.01 L558.4,398.26 L561.08,400.12 L563.75,401.11 L566.42,410.3 L569.09,409.95 L571.76,406.63 L574.43,404.01 L577.1,402.65 L579.78,402.72 L582.45,405.63 L585.12,405.64 L587.79,405.92 L590.46,402.62 L593.13,401.02 L595.81,402.68 L598.48,400.59 L601.15,395.78 L603.82,394.11 L606.49,397.59 L609.16,400.77 L611.84,399.12 L614.51,401.19 L617.18,403.18 L619.85,414.57 L622.52,407.34 L625.19,411.87 L627.87,409.64 L630.54,407.35 L633.21,404.49 L635.88,404.96 L638.55,416.76 L641.22,415.67 L643.9,420.39 L646.57,418.78 L649.24,416.43 L651.91,411.97 L654.58,421.28 L657.25,422.91 L659.92,421.72 L662.6,421.43 L665.27,424.07 L667.94,422.42 L670.61,421.69 L673.28,414.92 L675.95,425.51 M545.05,383.22 L547.72,388.85 L550.39,385.53 L553.06,384.8 L555.73,381.88 L558.4,381 L561.08,378.64 L563.75,383.36 L566.42,402.29 L569.09,403.14 L571.76,400.56 L574.43,400.8 L577.1,396.93 L579.78,395.55 L582.45,395.68 L585.12,399.1 L587.79,398.75 L590.46,396.75 L593.13,394.52 L595.81,395.98 L598.48,393.09 L601.15,392.25 L603.82,387.48 L606.49,386.97 L609.16,388.82 L611.84,396.38 L614.51,393.95 L617.18,402.52 L619.85,405.97 L622.52,401.51 L625.19,406.47 L627.87,406.93 L630.54,405.68 L633.21,404.13 L635.88,403.84 L638.55,401.95 L641.22,403.37 L643.9,403.44 L646.57,401.41 L649.24,402.31 L651.91,399.22 L654.58,408.79 L657.25,407.19 L659.92,404.72 L662.6,402.76 L665.27,408.41 L667.94,407.26 L670.61,403.37 L673.28,406.21 L675.95,408.45 M545.05,390.71 L547.72,397.68 L550.39,396.38 L553.06,395.51 L555.73,395.99 L558.4,393.81 L561.08,393.29 L563.75,395.91 L566.42,406.04 L569.09,404.99 L571.76,406.61 L574.43,406.73 L577.1,404.36 L579.78,402.39 L582.45,403.49 L585.12,404.07 L587.79,404.87 L590.46,403.83 L593.13,405.88 L595.81,405.79 L598.48,405.59 L601.15,404.11 L603.82,401.75 L606.49,400.34 L609.16,402.9 L611.84,409.44 L614.51,412.23 L617.18,412.53 L619.85,410.96 L622.52,410.28 L625.19,408.1 L627.87,415.52 L630.54,413.37 L633.21,413.73 L635.88,416.88 L638.55,419.69 L641.22,417.62 L643.9,417.09 L646.57,413.35 L649.24,414.63 L651.91,410.92 L654.58,406.03 L657.25,406.01 L659.92,414.56 L662.6,413.83 L665.27,409.56 L667.94,409.66 L670.61,411.46 L673.28,411.46 L675.95,418.63 M545.05,389.69 L547.72,395.95 L550.39,394.25 L553.06,391.16 L555.73,390.48 L558.4,393.38 L561.08,393.75 L563.75,395.8 L566.42,409.46 L569.09,407.24 L571.76,405.62 L574.43,404.1 L577.1,405.25 L579.78,403.85 L582.45,404.67 L585.12,404.03 L587.79,404.54 L590.46,402.48 L593.13,398.75 L595.81,399.79 L598.48,400.22 L601.15,399.18 L603.82,401.21 L606.49,400.77 L609.16,397.36 L611.84,398.1 L614.51,397.31 L617.18,395.55 L619.85,390.48 L622.52,386.31 L625.19,399.65 L627.87,397.65 L630.54,406.95 L633.21,404.57 L635.88,407.25 L638.55,398.81 L641.22,401.16 L643.9,399.74 L646.57,398.38 L649.24,399.56 L651.91,398.43 L654.58,395.29 L657.25,397.4 L659.92,395.85 L662.6,397.09 L665.27,395.07 L667.94,394.66 L670.61,395.48 L673.28,398.61 L675.95,398.81 M545.05,383.78 L547.72,387.89 L550.39,387.31 L553.06,384.05 L555.73,384.43 L558.4,385.65 L561.08,384.87 L563.75,383.02 L566.42,402.85 L569.09,402.81 L571.76,400.47 L574.43,400.8 L577.1,395.81 L579.78,396.92 L582.45,399.92 L585.12,400.75 L587.79,396.61 L590.46,393.51 L593.13,391.98 L595.81,390.16 L598.48,386.01 L601.15,388.55 L603.82,385.49 L606.49,380.79 L609.16,385.53 L611.84,391.5 L614.51,389.81 L617.18,388.31 L619.85,387.5 L622.52,381.08 L625.19,378.72 L627.87,378.69 L630.54,381.18 L633.21,383.1 L635.88,385.65 L638.55,392.63 L641.22,393.17 L643.9,403.06 L646.57,400.07 L649.24,399.53 L651.91,402.38 L654.58,400.45 L657.25,396.85 L659.92,390.41 L662.6,393.33 L665.27,390.86 L667.94,389.92 L670.61,390.58 L673.28,393.85 L675.95,393.99 M545.05,396.62 L547.72,400.87 L550.39,398.04 L553.06,397.01 L555.73,395.31 L558.4,396.86 L561.08,398.97 L563.75,403.27 L566.42,409.66 L569.09,407.8 L571.76,408.03 L574.43,405.76 L577.1,405.32 L579.78,404.96 L582.45,409.29 L585.12,411.12 L587.79,409.65 L590.46,408.17 L593.13,409.17 L595.81,405.72 L598.48,401.6 L601.15,402.22 L603.82,399.87 L606.49,403.52 L609.16,403.69 L611.84,399.52 L614.51,398.48 L617.18,400.89 L619.85,398.93 L622.52,393.23 L625.19,394.68 L627.87,399.98 L630.54,396.49 L633.21,393.16 L635.88,394.74 L638.55,400.07 L641.22,398.6 L643.9,395.24 L646.57,396.17 L649.24,397.26 L651.91,401.96 L654.58,411.18 L657.25,413.65 L659.92,417.99 L662.6,416.17 L665.27,424.32 L667.94,417.87 L670.61,415.7 L673.28,412.77 L675.95,421.44 M545.05,389.04 L547.72,394.2 L550.39,391.6 L553.06,391.45 L555.73,390.01 L558.4,390.64 L561.08,391.44 L563.75,390.61 L566.42,404.97 L569.09,403.5 L571.76,402.67 L574.43,401.19 L577.1,400.37 L579.78,401.75 L582.45,402.92 L585.12,403.28 L587.79,401.87 L590.46,401.73 L593.13,398.16 L595.81,399.46 L598.48,398.3 L601.15,395.95 L603.82,397.1 L606.49,399.06 L609.16,398.07 L611.84,394.28 L614.51,406.57 L617.18,407.83 L619.85,415.05 L622.52,411.18 L625.19,412.13 L627.87,412.81 L630.54,412.65 L633.21,411.19 L635.88,411.17 L638.55,409.87 L641.22,408.63 L643.9,405.74 L646.57,406.55 L649.24,404.72 L651.91,402.84 L654.58,411.35 L657.25,413.12 L659.92,413.09 L662.6,412.58 L665.27,409.71 L667.94,408.46 L670.61,408.81 L673.28,405.24 L675.95,405.54 M545.05,396.13 L547.72,401.13 L550.39,397.41 L553.06,394.3 L555.73,392.59 L558.4,391.47 L561.08,390.16 L563.75,392.61 L566.42,406 L569.09,406.02 L571.76,405.51 L574.43,406.38 L577.1,404.87 L579.78,404.41 L582.45,409.61 L585.12,414.92 L587.79,414.02 L590.46,412.73 L593.13,412.06 L595.81,407.2 L598.48,407.13 L601.15,407.4 L603.82,403.78 L606.49,400.12 L609.16,397.69 L611.84,398.45 L614.51,399.18 L617.18,400.98 L619.85,398.62 L622.52,395.95 L625.19,398.28 L627.87,399.23 L630.54,399.84 L633.21,405.72 L635.88,404.55 L638.55,404.13 L641.22,403.94 L643.9,401.42 L646.57,401.82 L649.24,398.29 L651.91,397.16 L654.58,405.39 L657.25,407.9 L659.92,406.36 L662.6,405.96 L665.27,399.41 L667.94,401.7 L670.61,403.19 L673.28,404.21 L675.95,404.48 M545.05,385.8 L547.72,391.26 L550.39,388.94 L553.06,390.29 L555.73,389.62 L558.4,388.63 L561.08,388.17 L563.75,392.62 L566.42,405.82 L569.09,405.58 L571.76,402.18 L574.43,401.54 L577.1,400.5 L579.78,399.52 L582.45,400.04 L585.12,400.94 L587.79,398.99 L590.46,399.94 L593.13,397.35 L595.81,397.4 L598.48,394.39 L601.15,391.86 L603.82,387.81 L606.49,387.99 L609.16,393.74 L611.84,397.36 L614.51,402.81 L617.18,402.19 L619.85,405.08 L622.52,408.96 L625.19,407.48 L627.87,411.53 L630.54,408.47 L633.21,407.29 L635.88,408.55 L638.55,407.72 L641.22,406.94 L643.9,403.35 L646.57,411.4 L649.24,406.09 L651.91,404.99 L654.58,407.67 L657.25,410.55 L659.92,410.21 L662.6,406.1 L665.27,407.32 L667.94,407.32 L670.61,407.19 L673.28,407.81 L675.95,404.67 M545.05,389.92 L547.72,394.78 L550.39,393.81 L553.06,389.74 L555.73,387.69 L558.4,384.81 L561.08,387.54 L563.75,390.49 L566.42,404.85 L569.09,404.01 L571.76,404.34 L574.43,400.32 L577.1,397.41 L579.78,397.46 L582.45,400.33 L585.12,401.68 L587.79,403.07 L590.46,402.45 L593.13,400.4 L595.81,395.84 L598.48,393.35 L601.15,389.16 L603.82,391.16 L606.49,398.79 L609.16,395.53 L611.84,393.67 L614.51,394.61 L617.18,396.15 L619.85,396.4 L622.52,393.34 L625.19,402.48 L627.87,401.83 L630.54,408.03 L633.21,409.97 L635.88,406.97 L638.55,407.06 L641.22,409.21 L643.9,415.78 L646.57,411.41 L649.24,409.57 L651.91,415 L654.58,411.43 L657.25,412.97 L659.92,418.12 L662.6,418.74 L665.27,418.35 L667.94,420.4 L670.61,423.52 L673.28,424.71 L675.95,419.28 M545.05,375.03 L547.72,377.91 L550.39,376.82 L553.06,374.63 L555.73,375.35 L558.4,374.86 L561.08,373.75 L563.75,374 L566.42,397.67 L569.09,395.67 L571.76,392.32 L574.43,389.62 L577.1,390.27 L579.78,388.75 L582.45,389.79 L585.12,390.31 L587.79,393.29 L590.46,389.61 L593.13,392.03 L595.81,384.94 L598.48,381.99 L601.15,379.97 L603.82,376.46 L606.49,375.42 L609.16,378.32 L611.84,385.21 L614.51,384.77 L617.18,383.43 L619.85,380.83 L622.52,387.61 L625.19,385.75 L627.87,399.43 L630.54,397.64 L633.21,396.65 L635.88,397.24 L638.55,402.86 L641.22,404.17 L643.9,403.15 L646.57,401.25 L649.24,401.89 L651.91,403.13 L654.58,399.2 L657.25,398.94 L659.92,403.41 L662.6,401.79 L665.27,400.7 L667.94,402.49 L670.61,404.09 L673.28,412.27 L675.95,410.63 M545.05,389.87 L547.72,395.51 L550.39,394.72 L553.06,394.73 L555.73,395.67 L558.4,396.89 L561.08,396.57 L563.75,400.92 L566.42,409.78 L569.09,406.27 L571.76,407.71 L574.43,404.1 L577.1,403.35 L579.78,401.22 L582.45,404.96 L585.12,402.52 L587.79,404.34 L590.46,403.78 L593.13,400.64 L595.81,403.04 L598.48,407.05 L601.15,403.91 L603.82,403.1 L606.49,403.77 L609.16,406.36 L611.84,406.2 L614.51,413.79 L617.18,407.5 L619.85,405.55 L622.52,400.52 L625.19,398.63 L627.87,400.69 L630.54,409.8 L633.21,414.62 L635.88,415.71 L638.55,415.73 L641.22,418.71 L643.9,418.33 L646.57,415.81 L649.24,416.41 L651.91,420.14 L654.58,417.95 L657.25,420.31 L659.92,419.52 L662.6,421.13 L665.27,416.81 L667.94,417.76 L670.61,420.09 L673.28,418.16 L675.95,415.06 M545.05,390.2 L547.72,394 L550.39,393.17 L553.06,392 L555.73,392.7 L558.4,392.11 L561.08,392.69 L563.75,399.36 L566.42,406.89 L569.09,404.59 L571.76,404.14 L574.43,401.61 L577.1,403.12 L579.78,400.35 L582.45,402.25 L585.12,402.31 L587.79,402.82 L590.46,402.11 L593.13,401.26 L595.81,398.48 L598.48,397.06 L601.15,394.85 L603.82,395.6 L606.49,391.01 L609.16,393.44 L611.84,392.06 L614.51,397.83 L617.18,407.16 L619.85,412.55 L622.52,414.33 L625.19,413.46 L627.87,414.22 L630.54,413.86 L633.21,413.28 L635.88,412.87 L638.55,409.14 L641.22,409.06 L643.9,419.34 L646.57,423.35 L649.24,422.42 L651.91,417.97 L654.58,417.08 L657.25,415.49 L659.92,411.61 L662.6,410.19 L665.27,420.8 L667.94,421.77 L670.61,422.88 L673.28,421.76 L675.95,422.2 M545.05,394.87 L547.72,397.25 L550.39,395.64 L553.06,394.34 L555.73,393.35 L558.4,394.52 L561.08,395.47 L563.75,397.15 L566.42,408.22 L569.09,406.86 L571.76,407.22 L574.43,403.52 L577.1,401.53 L579.78,400.75 L582.45,402.34 L585.12,408.27 L587.79,404.94 L590.46,405.91 L593.13,404.21 L595.81,405.47 L598.48,401.24 L601.15,400.2 L603.82,398.59 L606.49,393.57 L609.16,393.08 L611.84,395.26 L614.51,404.05 L617.18,402.72 L619.85,400.71 L622.52,395.18 L625.19,403.44 L627.87,409.25 L630.54,407.83 L633.21,410.45 L635.88,407.39 L638.55,402.04 L641.22,398.06 L643.9,394.17 L646.57,392.52 L649.24,393.55 L651.91,400.67 L654.58,399.84 L657.25,403.65 L659.92,398.66 L662.6,397.11 L665.27,392.36 L667.94,395.02 L670.61,395.51 L673.28,399.5 L675.95,399.97 M545.05,387.05 L547.72,390.63 L550.39,387.99 L553.06,383.44 L555.73,387.12 L558.4,387.58 L561.08,388.3 L563.75,387.21 L566.42,403.58 L569.09,404.52 L571.76,403.19 L574.43,403.05 L577.1,402.58 L579.78,401.79 L582.45,404.98 L585.12,408.52 L587.79,402.32 L590.46,401.15 L593.13,402.49 L595.81,399.15 L598.48,394.42 L601.15,396.65 L603.82,395.25 L606.49,392.98 L609.16,396.28 L611.84,404.91 L614.51,404.52 L617.18,406.82 L619.85,403.72 L622.52,408.77 L625.19,410.67 L627.87,412.55 L630.54,413.79 L633.21,416.76 L635.88,410.73 L638.55,414.78 L641.22,414.2 L643.9,410.57 L646.57,409.62 L649.24,409.63 L651.91,407.19 L654.58,408.92 L657.25,406.5 L659.92,406.66 L662.6,404.05 L665.27,407.11 L667.94,409.07 L670.61,413.55 L673.28,414.54 L675.95,412.6 M545.05,392.59 L547.72,399.54 L550.39,398.13 L553.06,397.68 L555.73,396.65 L558.4,399.63 L561.08,399.6 L563.75,399.33 L566.42,411.33 L569.09,411.36 L571.76,408.02 L574.43,408.45 L577.1,406.53 L579.78,404.5 L582.45,407.53 L585.12,410.96 L587.79,405.95 L590.46,405.82 L593.13,404.13 L595.81,404.49 L598.48,401.91 L601.15,402.61 L603.82,403.38 L606.49,403.96 L609.16,405.53 L611.84,398.42 L614.51,404.38 L617.18,403.5 L619.85,402.7 L622.52,398.61 L625.19,399.64 L627.87,396.93 L630.54,406.28 L633.21,403.42 L635.88,409.51 L638.55,414.5 L641.22,418.08 L643.9,415.06 L646.57,417.78 L649.24,418.69 L651.91,420.61 L654.58,417.6 L657.25,415.45 L659.92,413.31 L662.6,412.96 L665.27,411.69 L667.94,410.87 L670.61,409.16 L673.28,412.37 L675.95,408.91 M545.05,371.31 L547.72,376.48 L550.39,374.29 L553.06,372.98 L555.73,372.13 L558.4,370.14 L561.08,369.31 L563.75,370.76 L566.42,394.12 L569.09,391.07 L571.76,390.02 L574.43,389.03 L577.1,384.88 L579.78,383.7 L582.45,385.77 L585.12,385.06 L587.79,383.65 L590.46,381.23 L593.13,380.06 L595.81,376.35 L598.48,372.12 L601.15,371.4 L603.82,371.57 L606.49,365.05 L609.16,367.79 L611.84,383.18 L614.51,383.66 L617.18,382.69 L619.85,379.19 L622.52,378.39 L625.19,387.58 L627.87,387.57 L630.54,383.63 L633.21,382.36 L635.88,379.48 L638.55,378.41 L641.22,378.01 L643.9,376.57 L646.57,377.2 L649.24,377.48 L651.91,377.3 L654.58,376.61 L657.25,378.31 L659.92,378.83 L662.6,377.12 L665.27,375.55 L667.94,376.24 L670.61,380.29 L673.28,383.9 L675.95,393.17 M545.05,390.88 L547.72,400.21 L550.39,400.05 L553.06,397.78 L555.73,397.5 L558.4,393.64 L561.08,388.61 L563.75,390.45 L566.42,404.56 L569.09,403.15 L571.76,400.74 L574.43,402.12 L577.1,402.21 L579.78,401.33 L582.45,402.74 L585.12,407.56 L587.79,405.38 L590.46,407.45 L593.13,404.95 L595.81,401.69 L598.48,405.73 L601.15,401.34 L603.82,398.55 L606.49,399.15 L609.16,397.63 L611.84,394.18 L614.51,395.51 L617.18,411.09 L619.85,409.46 L622.52,414.68 L625.19,415.67 L627.87,414.54 L630.54,412.68 L633.21,415.94 L635.88,416.15 L638.55,416.09 L641.22,414.36 L643.9,418.66 L646.57,420.37 L649.24,421.79 L651.91,422.02 L654.58,415.52 L657.25,416.28 L659.92,421.95 L662.6,419.3 L665.27,418.24 L667.94,418.16 L670.61,422.25 L673.28,418.93 L675.95,423.44" stroke="#8a8a8a" stroke-opacity="0.55" stroke-width="0.5"/>
<path d="M545.05,389.5 L547.72,394.21 L553.06,390.93 L563.48,390.52 L565.62,406.31 L573.1,403.23 L579.24,399.95 L584.59,404.05 L593.13,400.98 L605.69,394.21 L611.03,396.67 L618.25,402 L622.79,398.93 L626.8,403.02 L637.22,405.07 L647.9,406.1 L654.31,407.12 L658.32,409.18 L666.87,407.12 L675.95,411.23" stroke="#1a1a1a" stroke-width="1.1"/>
<path d="M545.05,388.26 L547.72,393.8 L553.06,390.93 L558.4,390.73 L563.48,385.6 L565.62,405.07 L569.09,405.07 L573.9,403.23 L579.24,398.93 L583.52,403.02 L593.13,396.88 L601.15,392.16 L607.83,387.24 L611.84,386.62 L615.31,389.91 L622.52,391.13 L633.21,393.8 L643.9,395.24 L650.57,398.93 L657.25,400.36 L665.27,397.9 L670.61,396.88 L675.95,400.36" stroke="#ff1f1f" stroke-width="1.15" stroke-dasharray="4.5 3.3"/>
</g>
<path d="M538.5,345.3 V447.4 H682.5" fill="none" stroke="#666" stroke-width="0.8"/>
<line x1="535.1" y1="443" x2="538.5" y2="443" stroke="#666" stroke-width="0.8"/>
<text x="531.3" y="445.4" font-size="7.8" fill="#2a2a2a" stroke="#2a2a2a" stroke-width="0.12" text-anchor="end">0</text>
<line x1="535.1" y1="422.5" x2="538.5" y2="422.5" stroke="#666" stroke-width="0.8"/>
<text x="531.3" y="424.9" font-size="7.8" fill="#2a2a2a" stroke="#2a2a2a" stroke-width="0.12" text-anchor="end">10</text>
<line x1="535.1" y1="402" x2="538.5" y2="402" stroke="#666" stroke-width="0.8"/>
<text x="531.3" y="404.4" font-size="7.8" fill="#2a2a2a" stroke="#2a2a2a" stroke-width="0.12" text-anchor="end">20</text>
<line x1="535.1" y1="381.5" x2="538.5" y2="381.5" stroke="#666" stroke-width="0.8"/>
<text x="531.3" y="383.9" font-size="7.8" fill="#2a2a2a" stroke="#2a2a2a" stroke-width="0.12" text-anchor="end">30</text>
<line x1="535.1" y1="361" x2="538.5" y2="361" stroke="#666" stroke-width="0.8"/>
<text x="531.3" y="363.4" font-size="7.8" fill="#2a2a2a" stroke="#2a2a2a" stroke-width="0.12" text-anchor="end">40</text>
<line x1="553.06" y1="447.4" x2="553.06" y2="450.8" stroke="#666" stroke-width="0.8"/>
<text x="553.06" y="460.3" font-size="7.8" fill="#2a2a2a" stroke="#2a2a2a" stroke-width="0.12" text-anchor="middle">2004</text>
<line x1="582.45" y1="447.4" x2="582.45" y2="450.8" stroke="#666" stroke-width="0.8"/>
<text x="582.45" y="460.3" font-size="7.8" fill="#2a2a2a" stroke="#2a2a2a" stroke-width="0.12" text-anchor="middle">2015</text>
<line x1="611.84" y1="447.4" x2="611.84" y2="450.8" stroke="#666" stroke-width="0.8"/>
<text x="611.84" y="460.3" font-size="7.8" fill="#2a2a2a" stroke="#2a2a2a" stroke-width="0.12" text-anchor="middle">2026</text>
<line x1="643.9" y1="447.4" x2="643.9" y2="450.8" stroke="#666" stroke-width="0.8"/>
<text x="643.9" y="460.3" font-size="7.8" fill="#2a2a2a" stroke="#2a2a2a" stroke-width="0.12" text-anchor="middle">2038</text>
<line x1="675.95" y1="447.4" x2="675.95" y2="450.8" stroke="#666" stroke-width="0.8"/>
<text x="675.95" y="460.3" font-size="7.8" fill="#2a2a2a" stroke="#2a2a2a" stroke-width="0.12" text-anchor="middle">2050</text>
<path d="M548.2,364.8 L550.6,364 L552.6,365.6 M556.8,366.6 L559.5,365.6 L561.6,364.6" fill="none" stroke="#999" stroke-width="0.6"/><path d="M555.38,354.23 a0.6,0.6 0 1,0 1.2,0 a0.6,0.6 0 1,0 -1.2,0Z M554.13,352.64 a0.6,0.6 0 1,0 1.2,0 a0.6,0.6 0 1,0 -1.2,0Z M555.55,354.91 a0.6,0.6 0 1,0 1.2,0 a0.6,0.6 0 1,0 -1.2,0Z M555.05,353.3 a0.6,0.6 0 1,0 1.2,0 a0.6,0.6 0 1,0 -1.2,0Z M555.89,352.25 a0.6,0.6 0 1,0 1.2,0 a0.6,0.6 0 1,0 -1.2,0Z M553.43,354.26 a0.6,0.6 0 1,0 1.2,0 a0.6,0.6 0 1,0 -1.2,0Z M553.85,351.74 a0.6,0.6 0 1,0 1.2,0 a0.6,0.6 0 1,0 -1.2,0Z M555.55,354.66 a0.6,0.6 0 1,0 1.2,0 a0.6,0.6 0 1,0 -1.2,0Z M553.71,351.27 a0.6,0.6 0 1,0 1.2,0 a0.6,0.6 0 1,0 -1.2,0Z M555,351.14 a0.6,0.6 0 1,0 1.2,0 a0.6,0.6 0 1,0 -1.2,0Z M555.6,352.81 L557.58,352.5 M555.17,353.65 L555.73,356.14 M554.43,352.64 L552.55,351.78 M554.4,352.98 L552.41,353.25 M554.64,353.52 L553.43,355.59 M554.5,352.48 L552.82,351.06 M548.81,358.08 a0.6,0.6 0 1,0 1.2,0 a0.6,0.6 0 1,0 -1.2,0Z M549.23,354.6 a0.6,0.6 0 1,0 1.2,0 a0.6,0.6 0 1,0 -1.2,0Z M547.26,355.72 a0.6,0.6 0 1,0 1.2,0 a0.6,0.6 0 1,0 -1.2,0Z M550.73,356.82 a0.6,0.6 0 1,0 1.2,0 a0.6,0.6 0 1,0 -1.2,0Z M547.7,355.89 a0.6,0.6 0 1,0 1.2,0 a0.6,0.6 0 1,0 -1.2,0Z M548.06,354.2 a0.6,0.6 0 1,0 1.2,0 a0.6,0.6 0 1,0 -1.2,0Z M549.59,354.59 a0.6,0.6 0 1,0 1.2,0 a0.6,0.6 0 1,0 -1.2,0Z M549.74,355.68 a0.6,0.6 0 1,0 1.2,0 a0.6,0.6 0 1,0 -1.2,0Z M547.59,357.09 a0.6,0.6 0 1,0 1.2,0 a0.6,0.6 0 1,0 -1.2,0Z M550.4,354.01 a0.6,0.6 0 1,0 1.2,0 a0.6,0.6 0 1,0 -1.2,0Z M548.42,355.73 a0.6,0.6 0 1,0 1.2,0 a0.6,0.6 0 1,0 -1.2,0Z M549.99,357.93 a0.6,0.6 0 1,0 1.2,0 a0.6,0.6 0 1,0 -1.2,0Z M546.51,356.02 a0.6,0.6 0 1,0 1.2,0 a0.6,0.6 0 1,0 -1.2,0Z M549.93,355.7 L552.38,356.71 M549.96,355.59 L552.5,356.23 M549.64,354.66 L551.12,352.19 M548.54,354.93 L546.32,353.35 M548.92,356.24 L547.98,359.04 M548.88,356.22 L547.81,358.96 M559.95,356.63 a0.6,0.6 0 1,0 1.2,0 a0.6,0.6 0 1,0 -1.2,0Z M561.44,356.37 a0.6,0.6 0 1,0 1.2,0 a0.6,0.6 0 1,0 -1.2,0Z M558.06,356.15 a0.6,0.6 0 1,0 1.2,0 a0.6,0.6 0 1,0 -1.2,0Z M558.92,354.44 a0.6,0.6 0 1,0 1.2,0 a0.6,0.6 0 1,0 -1.2,0Z M560.93,356.87 a0.6,0.6 0 1,0 1.2,0 a0.6,0.6 0 1,0 -1.2,0Z M559.35,355.57 a0.6,0.6 0 1,0 1.2,0 a0.6,0.6 0 1,0 -1.2,0Z M559.4,354.55 a0.6,0.6 0 1,0 1.2,0 a0.6,0.6 0 1,0 -1.2,0Z M559.3,356.14 a0.6,0.6 0 1,0 1.2,0 a0.6,0.6 0 1,0 -1.2,0Z M558.39,358.61 a0.6,0.6 0 1,0 1.2,0 a0.6,0.6 0 1,0 -1.2,0Z M556.51,356.03 a0.6,0.6 0 1,0 1.2,0 a0.6,0.6 0 1,0 -1.2,0Z M559.31,357.71 a0.6,0.6 0 1,0 1.2,0 a0.6,0.6 0 1,0 -1.2,0Z M558.86,359.16 a0.6,0.6 0 1,0 1.2,0 a0.6,0.6 0 1,0 -1.2,0Z M560.47,355.2 a0.6,0.6 0 1,0 1.2,0 a0.6,0.6 0 1,0 -1.2,0Z M557.61,356.62 a0.6,0.6 0 1,0 1.2,0 a0.6,0.6 0 1,0 -1.2,0Z M558.99,355.24 a0.6,0.6 0 1,0 1.2,0 a0.6,0.6 0 1,0 -1.2,0Z M560.34,356.31 L562.8,357.66 M558.93,356.46 L556.71,358.33 M559.62,356.89 L559.71,360.19 M560.06,355.08 L561.58,352.36 M559.56,354.91 L559.42,351.62 M558.82,355.62 L556.23,354.68 M544.39,359.25 a0.6,0.6 0 1,0 1.2,0 a0.6,0.6 0 1,0 -1.2,0Z M546.4,358.56 a0.6,0.6 0 1,0 1.2,0 a0.6,0.6 0 1,0 -1.2,0Z M547.29,363.15 a0.6,0.6 0 1,0 1.2,0 a0.6,0.6 0 1,0 -1.2,0Z M547.12,362.82 a0.6,0.6 0 1,0 1.2,0 a0.6,0.6 0 1,0 -1.2,0Z M546.48,358.63 a0.6,0.6 0 1,0 1.2,0 a0.6,0.6 0 1,0 -1.2,0Z M545.83,360.76 a0.6,0.6 0 1,0 1.2,0 a0.6,0.6 0 1,0 -1.2,0Z M544.98,362.21 a0.6,0.6 0 1,0 1.2,0 a0.6,0.6 0 1,0 -1.2,0Z M547.01,361.29 a0.6,0.6 0 1,0 1.2,0 a0.6,0.6 0 1,0 -1.2,0Z M545.87,363.03 a0.6,0.6 0 1,0 1.2,0 a0.6,0.6 0 1,0 -1.2,0Z M548.57,362.31 a0.6,0.6 0 1,0 1.2,0 a0.6,0.6 0 1,0 -1.2,0Z M544.96,360.42 a0.6,0.6 0 1,0 1.2,0 a0.6,0.6 0 1,0 -1.2,0Z M544.9,361.31 a0.6,0.6 0 1,0 1.2,0 a0.6,0.6 0 1,0 -1.2,0Z M544.62,360.4 a0.6,0.6 0 1,0 1.2,0 a0.6,0.6 0 1,0 -1.2,0Z M546.85,361.54 a0.6,0.6 0 1,0 1.2,0 a0.6,0.6 0 1,0 -1.2,0Z M543.4,360.51 a0.6,0.6 0 1,0 1.2,0 a0.6,0.6 0 1,0 -1.2,0Z M545.97,362.08 L544.52,364.66 M545.8,360.62 L543.82,358.34 M545.83,362 L543.91,364.32 M547.05,361.94 L549.24,364.06 M546.02,362.1 L544.74,364.76 M545.64,361.83 L543.11,363.61 M560.8,362.49 a0.6,0.6 0 1,0 1.2,0 a0.6,0.6 0 1,0 -1.2,0Z M561.64,363.79 a0.6,0.6 0 1,0 1.2,0 a0.6,0.6 0 1,0 -1.2,0Z M562.33,362.4 a0.6,0.6 0 1,0 1.2,0 a0.6,0.6 0 1,0 -1.2,0Z M559.91,362.33 a0.6,0.6 0 1,0 1.2,0 a0.6,0.6 0 1,0 -1.2,0Z M560.79,361.12 a0.6,0.6 0 1,0 1.2,0 a0.6,0.6 0 1,0 -1.2,0Z M561.11,364.13 a0.6,0.6 0 1,0 1.2,0 a0.6,0.6 0 1,0 -1.2,0Z M562.15,363.53 a0.6,0.6 0 1,0 1.2,0 a0.6,0.6 0 1,0 -1.2,0Z M559.68,360.88 a0.6,0.6 0 1,0 1.2,0 a0.6,0.6 0 1,0 -1.2,0Z M560.18,361.71 a0.6,0.6 0 1,0 1.2,0 a0.6,0.6 0 1,0 -1.2,0Z M560.4,361.79 a0.6,0.6 0 1,0 1.2,0 a0.6,0.6 0 1,0 -1.2,0Z M561.17,363.43 L562.72,365.18 M560.14,363.34 L558.29,364.8 M559.98,362.91 L557.58,362.94 M560.54,363.57 L560,365.81 M560.13,362.47 L558.24,361.06 M560.12,362.49 L558.21,361.1 M553.5,359.01 a0.6,0.6 0 1,0 1.2,0 a0.6,0.6 0 1,0 -1.2,0Z M552.38,358.74 a0.6,0.6 0 1,0 1.2,0 a0.6,0.6 0 1,0 -1.2,0Z M552.97,359.19 a0.6,0.6 0 1,0 1.2,0 a0.6,0.6 0 1,0 -1.2,0Z M552.18,358.07 a0.6,0.6 0 1,0 1.2,0 a0.6,0.6 0 1,0 -1.2,0Z M552.77,355.73 a0.6,0.6 0 1,0 1.2,0 a0.6,0.6 0 1,0 -1.2,0Z M553.31,359.47 a0.6,0.6 0 1,0 1.2,0 a0.6,0.6 0 1,0 -1.2,0Z M554.29,357.94 a0.6,0.6 0 1,0 1.2,0 a0.6,0.6 0 1,0 -1.2,0Z M553.09,357.08 a0.6,0.6 0 1,0 1.2,0 a0.6,0.6 0 1,0 -1.2,0Z M554.36,358.9 a0.6,0.6 0 1,0 1.2,0 a0.6,0.6 0 1,0 -1.2,0Z M554.12,356.53 L554.52,354.28 M553.63,356.68 L552.39,354.93 M554.46,356.8 L556.01,355.47 M554.02,356.51 L554.09,354.21 M553.83,357.86 L553.25,360.05 M553.65,356.66 L552.48,354.84 M550.44,354.52 a0.6,0.6 0 1,0 1.2,0 a0.6,0.6 0 1,0 -1.2,0Z M550.65,353.86 a0.6,0.6 0 1,0 1.2,0 a0.6,0.6 0 1,0 -1.2,0Z M551.71,352.69 a0.6,0.6 0 1,0 1.2,0 a0.6,0.6 0 1,0 -1.2,0Z M550.97,352.45 a0.6,0.6 0 1,0 1.2,0 a0.6,0.6 0 1,0 -1.2,0Z M551.17,352.58 a0.6,0.6 0 1,0 1.2,0 a0.6,0.6 0 1,0 -1.2,0Z M550.73,353.36 a0.6,0.6 0 1,0 1.2,0 a0.6,0.6 0 1,0 -1.2,0Z M551.26,353.36 L550.13,352.88 M551.74,353.11 L552.22,351.83 M551.5,353.1 L551.17,351.75 M551.72,353.1 L552.11,351.78 M551.24,353.51 L550.04,353.54 M551.86,353.22 L552.75,352.27" fill="#141414" stroke="#141414" stroke-width="0.5" stroke-linecap="round"/><path d="M552.7,371.6 L552.9,368 L553.1,365.3 M553.1,365.3 L550.6,363.3 L548,362 M553.1,365.3 L556.8,363.6 L560,362.8 M553.1,365.3 L552.6,360.5 L551,356 M553.1,365.3 L555.6,359.2 L559,356.3 M553.3,362 L554.6,357 L555,353.5 M548,362 L545.2,359.2 M551,356 L548.8,353.2 M559,356.3 L561.2,353.6" fill="none" stroke="#141414" stroke-width="1.0" stroke-linecap="round" stroke-linejoin="round"/><circle cx="551.6" cy="360.6" r="1.15" fill="#fff"/><circle cx="556.4" cy="360" r="0.8" fill="#fff"/><circle cx="548.3" cy="361" r="0.55" fill="#fff"/><circle cx="549.8" cy="356.4" r="0.5" fill="#fff"/><circle cx="559.9" cy="357.3" r="0.55" fill="#fff"/><circle cx="545.2" cy="362.4" r="0.5" fill="#fff"/><circle cx="555.6" cy="353.4" r="0.45" fill="#fff"/><circle cx="561.3" cy="363.6" r="0.5" fill="#fff"/><circle cx="558.3" cy="354.6" r="0.45" fill="#fff"/><circle cx="547.4" cy="354.9" r="0.45" fill="#fff"/><circle cx="544.4" cy="360.3" r="0.4" fill="#fff"/><circle cx="562" cy="356" r="0.4" fill="#fff"/><circle cx="553.6" cy="352" r="0.4" fill="#fff"/><circle cx="550" cy="358.3" r="0.6" fill="#fff"/><circle cx="557.5" cy="358" r="0.5" fill="#fff"/><circle cx="559.5" cy="362" r="0.4" fill="#fff"/><circle cx="546.7" cy="363.6" r="0.45" fill="#fff"/>
<text x="349.55" y="473.8" font-size="9" fill="#222" text-anchor="middle" textLength="17.1" lengthAdjust="spacingAndGlyphs">Year</text>
<line x1="96" y1="492.3" x2="118.9" y2="492.3" stroke="#ff8a7a" stroke-width="1.1"/>
<text x="122.7" y="494.9" font-size="9" fill="#222" textLength="79.1" lengthAdjust="spacingAndGlyphs">Counterfactual runs</text>
<line x1="214.9" y1="492.3" x2="236.8" y2="492.3" stroke="#ff4d4d" stroke-width="1.2" stroke-dasharray="5 3"/>
<text x="240.8" y="494.9" font-size="9" fill="#222" textLength="84.1" lengthAdjust="spacingAndGlyphs">Counterfactual mean</text>
<line x1="337.9" y1="492.3" x2="359.8" y2="492.3" stroke="#b0b0b0" stroke-width="1.1"/>
<text x="363.7" y="494.9" font-size="9" fill="#222" textLength="55.5" lengthAdjust="spacingAndGlyphs">Scenario runs</text>
<line x1="432.6" y1="492.3" x2="454.9" y2="492.3" stroke="#555" stroke-width="1.2"/>
<text x="462.5" y="494.9" font-size="9" fill="#222" textLength="59.5" lengthAdjust="spacingAndGlyphs">Scenario mean</text>
<line x1="535" y1="492.3" x2="557.2" y2="492.3" stroke="#9cba7c" stroke-width="1.2"/>
<text x="561.2" y="494.9" font-size="9" fill="#222" textLength="40.8" lengthAdjust="spacingAndGlyphs">LTMP data</text></svg></body></html>
